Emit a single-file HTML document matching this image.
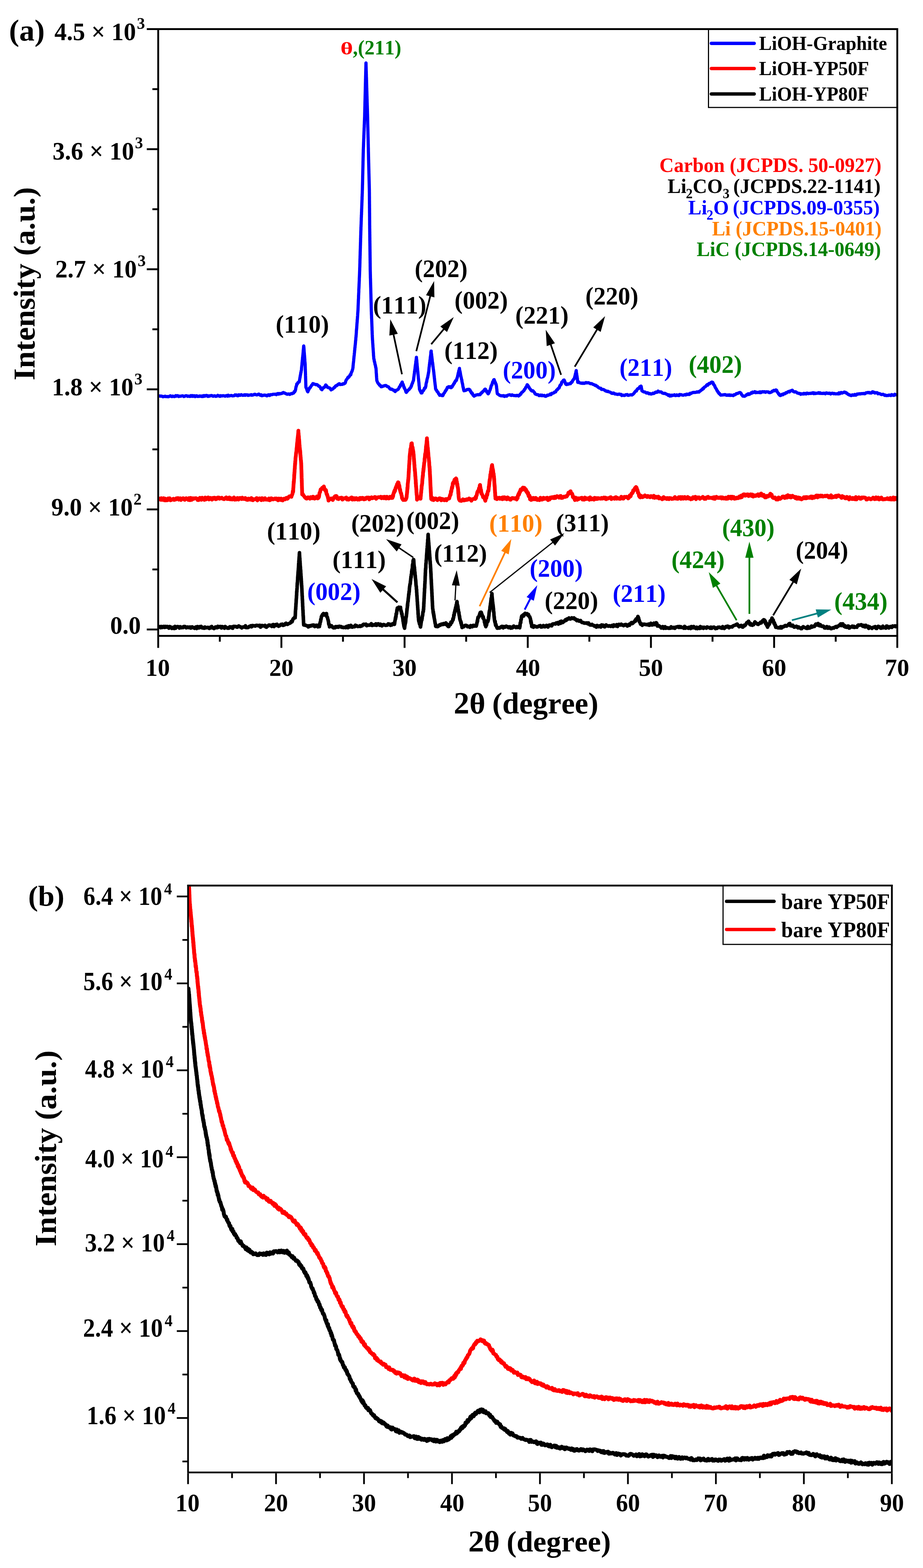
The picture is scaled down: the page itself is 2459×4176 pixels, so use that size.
<!DOCTYPE html>
<html><head><meta charset="utf-8"><title>XRD patterns</title><style>html,body{margin:0;padding:0;background:#fff;}svg{display:block;}</style></head><body>
<svg width="2459" height="4176" viewBox="0 0 2459 4176" font-family="'Liberation Serif', 'Times New Roman', serif" font-weight="bold" style="font-kerning:none">
<rect width="2459" height="4176" fill="#fff"/>
<defs><clipPath id="clipA"><rect x="424" y="80" width="1964" height="1611"/></clipPath><clipPath id="clipB"><rect x="503" y="2361" width="1871" height="1558"/></clipPath></defs>
<polyline points="424.0,1669.9 426.0,1668.9 428.0,1671.9 430.0,1668.4 432.0,1671.2 434.0,1670.2 436.0,1668.3 438.0,1671.0 440.0,1668.2 442.0,1670.6 444.0,1668.4 446.0,1668.5 448.0,1670.5 450.0,1673.0 452.0,1668.7 454.0,1669.3 456.0,1671.8 458.0,1673.7 460.0,1671.5 462.0,1670.4 464.0,1673.9 466.0,1668.3 468.0,1673.2 470.0,1669.7 472.0,1668.9 474.0,1668.7 476.0,1669.9 478.0,1672.9 480.0,1669.1 482.0,1671.5 484.0,1671.8 486.0,1670.2 488.0,1671.3 490.0,1668.4 492.0,1668.4 494.0,1669.2 496.0,1672.1 498.0,1670.6 500.0,1669.9 502.0,1671.5 504.0,1670.7 506.0,1669.8 508.0,1672.8 510.0,1672.2 512.0,1669.5 514.0,1671.4 516.0,1671.2 518.0,1673.3 520.0,1672.4 522.0,1669.7 524.0,1673.9 526.0,1668.7 528.0,1670.5 530.0,1672.5 532.0,1668.9 534.0,1670.9 536.0,1668.2 538.0,1672.0 540.0,1672.6 542.0,1671.4 544.0,1673.3 546.0,1669.9 548.0,1672.2 550.0,1671.6 552.0,1671.5 554.0,1670.7 556.0,1673.0 558.0,1673.7 560.0,1670.8 562.0,1672.0 564.0,1668.4 566.0,1672.2 568.0,1671.9 570.0,1674.0 572.0,1672.9 574.0,1669.7 576.0,1670.3 578.0,1672.0 580.0,1668.1 582.0,1670.8 584.0,1669.0 586.0,1668.7 588.0,1668.4 590.0,1672.6 592.0,1668.8 594.0,1669.5 596.0,1670.3 598.0,1673.2 600.0,1668.5 602.0,1670.6 604.0,1671.2 606.0,1673.1 608.0,1672.7 610.0,1672.9 612.0,1669.3 614.0,1670.0 616.0,1669.6 618.0,1672.7 620.0,1673.1 622.0,1668.2 624.0,1668.3 626.0,1668.6 628.0,1668.5 630.0,1670.0 632.0,1670.5 634.0,1668.5 636.0,1666.9 638.0,1669.3 640.0,1669.0 642.0,1670.1 644.0,1672.3 646.0,1670.7 648.0,1669.6 650.0,1670.1 652.0,1670.4 654.0,1666.6 656.0,1671.6 658.0,1670.8 660.0,1671.4 662.0,1670.8 664.0,1668.3 666.0,1668.3 668.0,1666.5 670.0,1669.6 672.0,1666.1 674.0,1666.1 676.0,1666.9 678.0,1666.5 680.0,1667.5 682.0,1665.7 684.0,1665.3 686.0,1666.2 688.0,1665.8 690.0,1667.3 692.0,1665.2 694.0,1670.3 696.0,1668.7 698.0,1665.8 700.0,1666.4 702.0,1666.9 704.0,1666.9 706.0,1665.4 708.0,1669.7 710.0,1670.5 712.0,1667.3 714.0,1667.3 716.0,1664.7 718.0,1664.7 720.0,1665.9 722.0,1665.3 724.0,1668.5 726.0,1664.3 728.0,1663.3 730.0,1668.7 732.0,1666.0 734.0,1663.6 736.0,1665.8 738.0,1662.5 740.0,1665.4 742.0,1667.9 744.0,1667.0 746.0,1665.9 748.0,1663.1 750.0,1663.5 752.0,1662.2 754.0,1665.6 756.0,1663.5 758.0,1664.3 760.0,1661.0 762.0,1659.7 764.0,1662.5 766.0,1662.9 768.0,1661.4 770.0,1660.5 772.0,1659.9 774.0,1658.8 776.0,1655.0 778.0,1656.1 779.2,1653.2 780.4,1649.3 781.6,1647.4 782.7,1647.0 783.9,1645.0 785.1,1645.7 786.3,1645.3 786.4,1640.3 786.6,1641.2 786.7,1639.5 786.8,1637.2 787.0,1631.7 787.1,1628.8 787.2,1626.8 787.4,1624.6 787.5,1622.6 787.6,1623.1 787.8,1622.8 787.9,1620.4 788.0,1616.2 788.2,1615.2 788.3,1614.1 788.4,1607.7 788.6,1609.2 788.7,1608.7 788.8,1605.9 789.0,1603.7 789.1,1600.0 789.2,1596.2 789.3,1597.8 789.5,1593.1 789.6,1593.8 789.7,1592.8 789.9,1587.4 790.0,1585.4 790.1,1586.6 790.3,1583.3 790.4,1577.9 790.5,1575.6 790.7,1573.8 790.8,1576.3 790.9,1573.7 791.1,1567.7 791.2,1569.7 791.3,1568.6 791.5,1564.7 791.6,1560.8 791.7,1560.0 791.9,1555.5 792.0,1552.8 792.2,1556.5 792.3,1552.6 792.4,1549.8 792.6,1550.3 792.7,1545.3 792.9,1545.9 793.0,1543.6 793.1,1537.9 793.3,1536.2 793.4,1534.4 793.6,1532.1 793.7,1532.2 793.9,1528.2 794.0,1527.1 794.1,1523.4 794.3,1526.1 794.4,1520.7 794.6,1519.4 794.7,1518.1 794.8,1518.0 795.0,1513.1 795.1,1514.1 795.3,1509.6 795.4,1507.8 795.5,1505.7 795.7,1500.7 795.8,1501.2 796.0,1497.7 796.1,1494.6 796.2,1497.3 796.4,1491.6 796.5,1491.4 796.7,1490.9 796.8,1487.9 797.0,1484.5 797.1,1483.6 797.2,1481.9 797.4,1481.2 797.5,1475.1 797.7,1475.9 797.8,1472.0 797.9,1474.2 798.1,1479.1 798.2,1479.6 798.3,1481.9 798.5,1485.1 798.6,1488.0 798.8,1487.2 798.9,1490.2 799.0,1491.6 799.2,1493.6 799.3,1496.7 799.4,1497.3 799.6,1499.8 799.7,1501.4 799.8,1506.2 800.0,1506.8 800.1,1509.8 800.3,1512.2 800.4,1510.1 800.5,1513.9 800.7,1518.3 800.8,1519.6 800.9,1517.4 801.1,1519.3 801.2,1523.3 801.3,1523.1 801.5,1526.1 801.6,1527.1 801.8,1532.6 801.9,1535.3 802.0,1538.0 802.2,1535.6 802.3,1540.9 802.4,1542.6 802.6,1541.5 802.7,1548.0 802.8,1550.5 803.0,1548.0 803.1,1554.4 803.3,1553.1 803.4,1555.6 803.5,1560.6 803.7,1561.7 803.8,1559.7 803.9,1563.3 804.0,1565.8 804.1,1566.8 804.2,1568.0 804.3,1570.7 804.4,1575.2 804.5,1573.0 804.6,1578.2 804.7,1579.5 804.8,1579.0 804.9,1582.9 805.0,1586.7 805.1,1588.0 805.3,1587.4 805.4,1594.9 805.5,1595.8 805.6,1598.9 805.7,1595.7 805.8,1598.7 805.9,1599.4 806.0,1605.8 806.1,1604.8 806.2,1606.0 806.3,1609.7 806.4,1614.7 806.5,1616.2 806.6,1614.8 806.7,1616.2 806.8,1622.8 806.9,1622.8 807.0,1625.6 807.1,1623.9 807.2,1625.7 807.3,1631.5 807.4,1632.0 807.5,1631.9 807.6,1639.1 807.7,1639.3 807.9,1642.3 808.0,1640.0 808.1,1646.7 808.2,1644.0 808.3,1650.8 808.4,1650.4 808.5,1651.7 808.6,1655.0 808.7,1659.3 808.8,1657.3 808.9,1658.5 809.0,1662.9 809.1,1663.2 809.2,1664.5 811.2,1665.0 813.2,1664.6 815.2,1665.7 817.3,1666.6 819.3,1666.8 821.3,1669.8 823.4,1666.8 825.5,1668.0 827.7,1666.0 829.8,1666.9 831.9,1664.8 834.0,1666.1 836.1,1664.6 838.3,1668.8 840.4,1667.6 842.5,1665.3 844.6,1666.9 846.8,1669.6 848.9,1664.5 851.0,1668.7 851.4,1664.4 851.9,1662.7 852.3,1662.8 852.8,1658.1 853.2,1656.8 853.6,1655.8 854.1,1655.6 854.5,1649.7 855.0,1650.6 855.4,1647.9 855.9,1645.4 856.3,1642.0 857.6,1640.2 859.0,1636.9 860.4,1635.8 861.7,1633.9 863.7,1637.9 865.8,1635.0 867.8,1634.5 869.8,1634.0 870.3,1640.6 870.9,1642.8 871.4,1643.6 872.0,1643.3 872.5,1645.1 873.0,1647.4 873.6,1650.4 874.1,1650.6 874.7,1654.4 875.2,1655.3 875.7,1661.5 876.3,1663.6 876.8,1663.0 877.4,1663.2 877.9,1669.6 879.7,1666.6 881.5,1667.7 883.3,1666.5 885.1,1669.7 886.9,1671.1 888.7,1672.2 890.7,1670.2 892.7,1671.9 894.7,1668.7 896.7,1670.1 898.7,1668.9 900.7,1670.6 902.7,1668.2 904.8,1667.9 906.8,1669.5 908.8,1668.9 910.8,1670.8 912.8,1670.3 914.8,1671.4 916.8,1670.7 918.8,1670.9 920.8,1671.7 922.8,1668.6 924.8,1668.0 926.8,1671.8 928.8,1666.6 930.8,1669.9 932.8,1669.2 934.8,1665.4 936.9,1670.0 938.9,1670.2 940.9,1668.4 942.9,1668.9 944.9,1669.2 946.9,1665.0 948.9,1667.1 950.9,1666.8 952.9,1668.6 954.9,1668.3 956.9,1668.2 958.9,1666.6 960.9,1668.3 962.9,1666.8 964.9,1666.7 966.9,1663.8 969.0,1662.4 971.0,1662.8 973.0,1664.0 975.0,1662.3 977.0,1666.5 979.0,1664.7 981.0,1664.9 983.0,1664.8 985.0,1665.1 987.1,1663.9 989.1,1661.0 991.2,1665.8 993.2,1665.5 995.3,1664.0 997.3,1664.2 999.3,1665.0 1001.4,1661.4 1003.4,1665.4 1005.5,1662.5 1007.5,1661.4 1009.6,1662.6 1011.6,1665.4 1013.6,1662.2 1015.7,1665.4 1017.7,1666.9 1019.8,1664.0 1021.8,1663.3 1023.8,1663.9 1025.9,1665.1 1027.9,1665.6 1030.0,1664.7 1032.0,1664.9 1034.1,1661.5 1036.1,1661.9 1038.1,1662.5 1040.2,1665.5 1042.2,1662.8 1044.3,1664.4 1046.3,1661.1 1048.4,1661.4 1050.4,1662.6 1050.8,1663.0 1051.2,1661.1 1051.6,1658.9 1051.9,1654.6 1052.3,1653.9 1052.7,1651.5 1053.1,1649.5 1053.5,1645.3 1053.9,1647.9 1054.3,1641.7 1054.6,1644.3 1055.0,1642.0 1055.4,1634.5 1055.8,1635.1 1056.2,1635.2 1056.6,1634.0 1057.0,1628.9 1057.3,1625.8 1057.7,1623.4 1058.1,1625.7 1058.5,1619.3 1060.5,1620.6 1062.5,1617.1 1064.6,1618.5 1066.6,1620.2 1067.0,1617.4 1067.5,1623.6 1067.9,1623.8 1068.4,1628.2 1068.8,1629.2 1069.3,1628.4 1069.8,1634.5 1070.2,1634.2 1070.7,1633.5 1071.1,1635.4 1071.5,1640.5 1072.0,1642.3 1072.4,1643.4 1072.7,1644.4 1073.1,1647.6 1073.4,1649.4 1073.8,1654.5 1074.2,1651.5 1074.5,1657.9 1074.9,1660.4 1075.2,1658.1 1075.6,1664.9 1076.0,1665.6 1076.3,1668.7 1076.7,1667.0 1077.0,1669.5 1077.4,1671.6 1077.8,1673.2 1078.3,1668.8 1078.7,1665.4 1079.1,1663.8 1079.6,1660.9 1080.0,1657.6 1080.2,1655.9 1080.5,1658.3 1080.7,1653.0 1080.9,1654.9 1081.2,1648.8 1081.4,1646.9 1081.6,1646.4 1081.9,1642.5 1082.1,1641.6 1082.3,1643.1 1082.6,1640.7 1082.8,1638.3 1083.1,1635.2 1083.3,1634.9 1083.5,1633.1 1083.8,1628.7 1084.0,1627.8 1084.2,1621.8 1084.5,1623.9 1084.7,1620.2 1084.9,1620.0 1085.2,1617.4 1085.4,1613.2 1085.6,1609.8 1085.9,1613.1 1086.1,1606.3 1086.3,1606.4 1086.6,1603.6 1086.8,1601.3 1087.0,1602.0 1087.3,1601.4 1087.5,1595.1 1087.7,1595.5 1088.0,1591.4 1088.2,1590.9 1088.5,1588.0 1088.7,1584.6 1088.9,1582.6 1089.2,1580.9 1089.4,1583.1 1089.6,1578.6 1089.9,1575.0 1090.1,1577.1 1090.3,1575.7 1090.6,1570.4 1090.8,1566.5 1091.1,1564.8 1091.3,1562.2 1091.6,1561.7 1091.9,1558.2 1092.1,1557.0 1092.4,1555.1 1092.7,1555.0 1093.0,1554.9 1093.2,1552.0 1093.5,1548.0 1093.8,1546.0 1094.0,1544.6 1094.3,1541.7 1094.6,1539.5 1094.8,1535.8 1095.1,1535.1 1095.4,1537.2 1095.7,1530.1 1095.9,1530.4 1096.2,1529.1 1096.5,1528.5 1096.7,1522.6 1097.0,1520.9 1097.3,1518.8 1097.5,1517.7 1097.8,1515.9 1098.1,1517.0 1098.4,1514.3 1098.6,1512.4 1098.9,1505.3 1099.2,1503.4 1099.4,1505.4 1099.7,1504.5 1100.0,1499.9 1100.2,1498.6 1100.5,1493.1 1100.8,1493.4 1101.1,1494.6 1101.3,1492.0 1101.6,1490.1 1101.8,1492.9 1102.0,1490.5 1102.2,1491.7 1102.4,1494.0 1102.6,1498.2 1102.8,1501.2 1103.0,1504.8 1103.2,1505.5 1103.4,1507.0 1103.6,1509.8 1103.8,1509.9 1104.0,1512.5 1104.2,1511.5 1104.4,1517.9 1104.6,1516.7 1104.8,1522.8 1105.0,1523.2 1105.2,1523.1 1105.4,1524.1 1105.6,1526.9 1105.8,1531.2 1106.0,1533.6 1106.2,1532.1 1106.4,1533.8 1106.6,1538.6 1106.8,1541.0 1107.0,1541.8 1107.2,1542.8 1107.4,1547.1 1107.6,1545.6 1107.8,1549.4 1108.0,1552.3 1108.2,1557.3 1108.4,1557.5 1108.6,1560.9 1108.8,1560.5 1109.0,1561.1 1109.2,1563.1 1109.4,1569.4 1109.6,1569.9 1109.7,1569.6 1109.9,1569.9 1110.0,1574.7 1110.1,1577.8 1110.3,1578.3 1110.4,1579.4 1110.5,1583.8 1110.7,1587.4 1110.8,1585.2 1110.9,1586.1 1111.1,1589.9 1111.2,1592.5 1111.4,1596.1 1111.5,1595.2 1111.6,1600.8 1111.8,1602.5 1111.9,1603.1 1112.0,1603.3 1112.2,1609.9 1112.3,1608.0 1112.4,1613.0 1112.6,1611.5 1112.7,1613.5 1112.8,1618.7 1113.0,1618.0 1113.1,1623.9 1113.2,1623.2 1113.4,1623.4 1113.5,1625.6 1113.7,1628.8 1113.8,1632.3 1113.9,1636.0 1114.1,1633.2 1114.2,1636.7 1114.3,1637.7 1114.5,1644.3 1114.6,1641.3 1114.7,1642.8 1114.9,1644.8 1115.0,1648.9 1115.6,1654.0 1116.2,1656.0 1116.8,1657.2 1117.4,1660.9 1118.0,1662.6 1118.6,1661.1 1119.2,1662.3 1119.8,1668.9 1120.4,1669.9 1120.8,1663.6 1121.1,1665.4 1121.5,1661.7 1121.8,1659.7 1122.2,1657.4 1122.5,1654.5 1122.9,1651.5 1123.2,1651.1 1123.6,1649.6 1123.9,1651.2 1124.3,1644.2 1124.6,1647.3 1125.0,1640.8 1125.3,1639.7 1125.7,1640.5 1126.0,1638.5 1126.4,1634.1 1126.7,1629.9 1127.1,1630.4 1127.4,1627.8 1127.8,1629.1 1128.1,1622.7 1128.5,1621.8 1128.6,1622.9 1128.7,1615.7 1128.8,1616.0 1128.9,1616.3 1129.0,1614.0 1129.1,1607.6 1129.2,1605.6 1129.3,1603.7 1129.4,1606.8 1129.5,1600.8 1129.6,1601.7 1129.7,1600.6 1129.8,1595.2 1129.9,1592.8 1130.0,1594.8 1130.1,1590.8 1130.2,1586.6 1130.3,1587.3 1130.4,1582.9 1130.5,1580.6 1130.6,1576.9 1130.7,1579.4 1130.8,1578.3 1130.9,1574.6 1131.0,1574.4 1131.1,1566.9 1131.3,1566.1 1131.4,1565.5 1131.5,1566.4 1131.6,1564.3 1131.7,1558.9 1131.8,1556.0 1131.9,1555.1 1132.0,1553.4 1132.1,1554.0 1132.2,1547.5 1132.3,1549.2 1132.4,1546.7 1132.5,1545.2 1132.6,1542.9 1132.7,1539.9 1132.8,1536.1 1132.9,1534.1 1133.0,1532.3 1133.1,1532.8 1133.2,1526.5 1133.3,1525.2 1133.4,1526.5 1133.5,1521.4 1133.6,1518.3 1133.7,1516.1 1133.8,1517.1 1133.9,1513.8 1134.1,1515.7 1134.2,1513.0 1134.4,1511.6 1134.5,1505.3 1134.7,1502.2 1134.8,1500.2 1135.0,1500.6 1135.1,1499.8 1135.3,1496.2 1135.4,1492.9 1135.6,1492.0 1135.7,1491.2 1135.9,1489.5 1136.0,1487.9 1136.2,1486.4 1136.3,1483.3 1136.5,1478.0 1136.6,1480.3 1136.8,1475.0 1136.9,1474.6 1137.1,1471.4 1137.2,1471.6 1137.4,1466.3 1137.6,1464.6 1137.7,1462.5 1137.9,1460.0 1138.0,1462.3 1138.2,1458.4 1138.3,1454.9 1138.5,1453.3 1138.6,1454.8 1138.8,1449.9 1138.9,1446.2 1139.1,1447.6 1139.2,1444.7 1139.4,1444.7 1139.5,1437.3 1139.7,1437.5 1139.8,1437.6 1140.0,1435.7 1140.1,1434.1 1140.3,1426.8 1140.4,1426.3 1140.6,1423.2 1140.8,1425.7 1140.9,1432.4 1141.1,1432.1 1141.2,1436.2 1141.4,1434.9 1141.5,1439.9 1141.7,1439.4 1141.8,1440.3 1142.0,1445.4 1142.1,1448.5 1142.3,1445.5 1142.5,1450.4 1142.6,1452.6 1142.8,1452.2 1142.9,1455.2 1143.1,1455.8 1143.2,1458.2 1143.4,1460.6 1143.5,1464.7 1143.7,1467.0 1143.8,1466.3 1144.0,1467.2 1144.2,1471.1 1144.3,1475.3 1144.5,1474.3 1144.6,1477.1 1144.8,1478.5 1144.9,1484.1 1145.1,1484.6 1145.2,1483.8 1145.4,1486.0 1145.5,1489.8 1145.7,1492.8 1145.9,1495.3 1146.0,1494.1 1146.2,1496.5 1146.3,1501.8 1146.5,1502.1 1146.6,1503.4 1146.8,1505.5 1146.9,1511.4 1147.1,1509.6 1147.2,1513.2 1147.4,1513.9 1147.5,1516.3 1147.6,1521.1 1147.7,1523.9 1147.8,1522.1 1147.9,1523.2 1148.0,1528.4 1148.1,1527.3 1148.2,1528.1 1148.3,1535.5 1148.4,1534.7 1148.5,1539.1 1148.6,1538.6 1148.7,1543.5 1148.8,1543.0 1148.9,1543.3 1149.0,1544.4 1149.1,1549.7 1149.2,1552.3 1149.3,1555.9 1149.4,1553.0 1149.5,1558.2 1149.6,1558.8 1149.7,1561.6 1149.8,1561.5 1149.9,1564.3 1150.0,1567.8 1150.2,1572.3 1150.3,1569.4 1150.4,1573.7 1150.5,1577.6 1150.6,1580.7 1150.7,1578.1 1150.8,1579.7 1150.9,1586.6 1151.0,1588.8 1151.1,1587.9 1151.2,1587.4 1151.3,1594.6 1151.4,1593.5 1151.5,1598.6 1151.6,1598.9 1151.7,1602.2 1151.8,1600.2 1151.9,1606.0 1152.0,1604.7 1152.1,1607.8 1152.2,1612.5 1152.3,1614.4 1152.4,1612.6 1152.5,1614.8 1152.6,1617.9 1152.7,1620.7 1152.8,1621.9 1153.2,1622.3 1153.5,1625.1 1153.9,1629.9 1154.2,1632.9 1154.6,1629.8 1154.9,1634.9 1155.3,1638.1 1155.6,1635.8 1156.0,1642.6 1156.3,1640.2 1156.7,1645.1 1157.0,1646.8 1157.4,1649.2 1157.7,1649.3 1158.1,1652.0 1158.4,1655.0 1158.8,1656.0 1159.1,1659.4 1159.5,1660.1 1159.8,1662.1 1160.2,1661.6 1160.5,1667.1 1160.9,1668.3 1163.0,1666.3 1165.0,1669.0 1167.1,1668.5 1169.2,1666.1 1171.2,1663.9 1173.3,1665.1 1175.4,1662.4 1177.5,1662.0 1179.5,1663.3 1181.6,1660.8 1183.7,1662.4 1185.7,1662.3 1187.8,1658.9 1189.4,1663.9 1191.0,1661.9 1192.7,1667.1 1194.3,1668.7 1195.9,1668.5 1197.0,1663.8 1198.1,1664.6 1199.1,1662.0 1200.2,1663.5 1201.3,1656.8 1202.4,1659.2 1203.5,1658.1 1204.5,1654.7 1205.6,1653.3 1206.7,1647.7 1207.2,1650.4 1207.6,1645.5 1208.1,1646.3 1208.6,1644.1 1209.0,1637.6 1209.5,1639.4 1210.0,1638.2 1210.5,1631.1 1210.9,1630.8 1211.4,1631.3 1211.9,1625.7 1212.3,1628.1 1212.8,1622.4 1213.3,1623.7 1213.7,1617.7 1214.2,1617.9 1214.7,1618.4 1215.2,1612.1 1215.6,1610.5 1216.1,1610.0 1216.6,1606.9 1217.0,1603.2 1217.5,1602.1 1217.8,1603.9 1218.2,1610.6 1218.5,1611.0 1218.9,1614.3 1219.2,1611.9 1219.6,1617.6 1219.9,1615.5 1220.3,1620.0 1220.6,1622.6 1221.0,1622.9 1221.3,1628.0 1221.7,1628.1 1222.0,1630.2 1222.4,1634.0 1222.7,1631.3 1223.1,1638.6 1223.4,1638.4 1223.8,1639.0 1224.1,1643.4 1224.5,1642.2 1224.8,1648.5 1225.2,1648.0 1225.5,1648.7 1226.1,1653.2 1226.7,1653.4 1227.3,1653.9 1227.9,1659.4 1228.6,1657.3 1229.2,1664.0 1229.8,1662.7 1230.4,1667.1 1231.0,1671.3 1233.1,1668.9 1235.2,1669.4 1237.3,1667.3 1239.4,1665.4 1241.5,1665.6 1243.6,1666.3 1245.7,1669.1 1247.8,1668.0 1249.8,1668.5 1251.9,1670.8 1254.0,1666.2 1256.1,1666.8 1258.2,1669.3 1260.3,1665.5 1262.4,1665.4 1264.5,1667.5 1266.6,1666.0 1268.7,1667.5 1269.1,1664.7 1269.6,1664.8 1270.0,1662.8 1270.5,1658.5 1270.9,1659.0 1271.3,1656.0 1271.8,1652.0 1272.2,1654.8 1272.7,1648.6 1273.1,1646.0 1273.6,1643.6 1274.0,1644.8 1275.1,1644.2 1276.2,1641.7 1277.3,1637.4 1278.3,1634.6 1279.4,1631.1 1280.5,1632.9 1281.6,1630.4 1282.3,1631.1 1283.1,1634.8 1283.8,1635.5 1284.5,1640.4 1285.2,1641.2 1286.0,1640.2 1286.7,1646.1 1287.4,1642.9 1288.2,1647.7 1288.9,1648.9 1289.5,1650.0 1290.1,1651.1 1290.7,1657.5 1291.3,1655.0 1291.9,1660.3 1292.5,1664.7 1293.1,1662.1 1293.7,1664.5 1294.3,1669.0 1295.0,1666.6 1295.6,1665.5 1296.3,1664.6 1297.0,1658.9 1297.7,1657.8 1298.3,1655.9 1299.0,1652.5 1299.7,1655.6 1300.3,1653.1 1301.0,1650.8 1301.3,1644.6 1301.6,1647.6 1301.8,1645.0 1302.1,1641.4 1302.4,1641.0 1302.7,1637.3 1303.0,1634.0 1303.2,1631.2 1303.5,1630.0 1303.8,1626.9 1304.1,1626.7 1304.4,1627.2 1304.6,1624.9 1304.9,1623.8 1305.2,1621.0 1305.5,1616.3 1305.8,1616.1 1306.0,1613.4 1306.3,1613.5 1306.6,1609.9 1306.9,1606.4 1307.1,1606.7 1307.4,1606.6 1307.7,1600.2 1308.0,1602.1 1308.3,1595.0 1308.5,1594.5 1308.8,1592.3 1309.1,1593.4 1309.4,1592.6 1309.7,1589.4 1309.9,1584.9 1310.2,1586.3 1310.5,1581.0 1310.7,1582.5 1310.9,1588.5 1311.1,1588.9 1311.3,1591.3 1311.5,1593.2 1311.7,1597.1 1311.9,1596.1 1312.1,1600.4 1312.3,1601.6 1312.5,1604.6 1312.7,1604.1 1312.9,1607.9 1313.1,1609.0 1313.3,1609.5 1313.5,1611.0 1313.7,1615.5 1314.0,1614.2 1314.2,1621.3 1314.4,1618.7 1314.6,1620.1 1314.8,1622.6 1315.0,1629.6 1315.2,1628.1 1315.4,1628.9 1315.6,1630.3 1315.8,1632.4 1316.0,1638.4 1316.2,1640.1 1316.4,1642.5 1316.6,1644.8 1316.8,1642.8 1317.0,1648.0 1317.2,1648.7 1317.7,1653.4 1318.2,1655.3 1318.7,1657.7 1319.2,1654.7 1319.7,1661.5 1320.1,1663.7 1320.6,1665.8 1321.1,1662.8 1321.6,1665.3 1322.1,1666.7 1322.6,1668.2 1324.6,1673.0 1326.6,1672.8 1328.6,1671.7 1330.6,1672.8 1332.6,1671.6 1334.6,1669.5 1336.6,1668.3 1338.6,1668.3 1340.6,1672.2 1342.6,1668.8 1344.6,1669.5 1346.6,1670.1 1348.6,1667.6 1350.6,1669.0 1352.6,1669.1 1354.6,1671.7 1356.6,1669.6 1358.6,1669.2 1360.6,1673.0 1362.6,1670.2 1364.6,1672.3 1366.6,1670.9 1368.6,1667.3 1370.6,1669.5 1372.6,1669.7 1374.6,1671.6 1376.6,1669.0 1378.6,1671.1 1380.6,1670.1 1382.6,1668.1 1384.6,1672.0 1385.0,1665.3 1385.4,1667.7 1385.8,1661.8 1386.1,1658.7 1386.5,1657.9 1386.9,1659.2 1387.3,1658.5 1387.7,1650.7 1388.1,1651.6 1388.5,1649.5 1388.8,1649.3 1389.2,1643.6 1389.6,1643.5 1390.0,1640.6 1391.8,1642.2 1393.6,1637.6 1395.4,1640.4 1397.2,1635.2 1399.0,1633.5 1400.8,1635.2 1402.6,1635.2 1404.4,1634.2 1406.2,1638.6 1407.9,1636.5 1409.7,1642.0 1411.5,1642.7 1411.9,1645.3 1412.3,1646.4 1412.8,1646.8 1413.2,1649.2 1413.6,1651.2 1414.0,1656.3 1414.5,1653.5 1414.9,1660.4 1415.3,1657.3 1415.7,1660.4 1416.2,1662.8 1416.6,1668.7 1417.0,1668.4 1419.0,1667.6 1421.1,1670.6 1423.1,1666.7 1425.2,1668.0 1427.2,1668.4 1429.3,1669.7 1431.3,1669.7 1433.4,1669.0 1435.4,1667.2 1437.5,1667.0 1439.5,1666.0 1441.6,1670.1 1443.6,1668.9 1445.7,1669.4 1447.7,1665.9 1449.8,1667.5 1451.8,1669.5 1453.9,1668.3 1455.9,1665.5 1458.0,1667.5 1460.0,1670.0 1462.0,1665.5 1464.0,1664.7 1465.9,1664.7 1467.9,1666.5 1469.9,1666.8 1471.9,1662.1 1473.9,1661.5 1475.8,1661.4 1477.8,1661.3 1479.8,1661.9 1481.8,1659.1 1483.8,1659.5 1485.8,1658.1 1487.7,1662.2 1489.7,1660.2 1491.7,1655.8 1493.6,1660.2 1495.4,1654.3 1497.3,1655.3 1499.1,1658.1 1501.0,1656.2 1502.9,1655.1 1504.7,1652.6 1506.6,1650.4 1508.4,1652.3 1510.3,1648.4 1512.1,1648.2 1514.0,1648.6 1515.9,1645.7 1517.7,1647.1 1519.6,1648.7 1521.4,1647.4 1523.3,1645.5 1525.3,1647.0 1527.2,1646.7 1529.2,1645.5 1531.1,1649.0 1533.1,1648.6 1535.0,1651.3 1537.0,1653.1 1538.9,1650.9 1540.9,1652.5 1542.8,1654.3 1544.8,1653.1 1546.7,1652.6 1548.7,1656.3 1550.6,1657.9 1552.5,1657.9 1554.4,1658.1 1556.3,1659.7 1558.2,1659.3 1560.1,1659.7 1562.0,1659.2 1563.9,1659.0 1565.8,1661.5 1567.7,1658.9 1569.6,1661.5 1571.5,1664.3 1573.4,1664.5 1575.3,1664.7 1577.2,1663.0 1579.1,1664.7 1581.0,1665.5 1582.9,1667.2 1584.8,1666.5 1586.7,1668.8 1588.7,1670.2 1590.7,1665.7 1592.7,1668.4 1594.8,1669.1 1596.8,1666.7 1598.8,1667.2 1600.8,1670.0 1602.8,1664.3 1604.8,1667.3 1606.9,1664.9 1608.9,1668.6 1610.9,1669.5 1612.9,1666.9 1614.9,1664.3 1616.9,1667.1 1619.0,1666.8 1621.0,1667.8 1623.0,1666.5 1625.0,1667.2 1627.0,1668.2 1629.0,1666.3 1631.1,1665.6 1633.1,1668.7 1635.1,1664.2 1637.1,1667.0 1639.1,1665.2 1641.1,1667.3 1643.1,1663.4 1645.2,1668.5 1647.2,1664.7 1649.2,1662.8 1651.2,1664.0 1653.2,1664.7 1655.2,1662.3 1657.3,1664.7 1659.3,1664.6 1661.3,1666.2 1663.3,1664.0 1665.3,1663.5 1667.3,1663.1 1669.4,1666.2 1671.4,1667.3 1673.4,1664.7 1675.4,1662.8 1677.2,1665.3 1678.9,1661.7 1680.7,1659.6 1682.4,1658.1 1684.2,1660.9 1685.9,1660.0 1687.7,1657.9 1689.4,1655.9 1691.2,1655.4 1692.4,1651.5 1693.5,1654.1 1694.7,1648.5 1695.9,1648.4 1697.1,1647.6 1698.2,1645.8 1699.4,1641.8 1700.1,1642.8 1700.8,1646.4 1701.5,1645.9 1702.2,1652.2 1702.9,1651.4 1703.5,1656.4 1704.2,1654.9 1704.9,1657.6 1705.6,1658.9 1706.3,1662.0 1707.0,1662.6 1709.1,1661.4 1711.1,1665.5 1713.2,1662.7 1715.2,1662.3 1717.3,1662.5 1719.4,1663.4 1721.4,1663.0 1723.5,1664.0 1725.5,1664.0 1727.6,1662.1 1729.7,1665.3 1731.7,1664.7 1733.8,1659.8 1735.8,1664.2 1737.9,1664.5 1740.0,1663.6 1742.0,1659.6 1744.1,1663.6 1746.1,1662.3 1748.2,1658.4 1749.8,1660.0 1751.4,1667.2 1753.0,1667.0 1754.5,1666.2 1756.1,1666.9 1757.7,1668.8 1759.7,1669.3 1761.7,1672.6 1763.7,1670.0 1765.7,1668.8 1767.7,1673.4 1769.7,1672.7 1771.7,1669.0 1773.7,1673.3 1775.7,1671.6 1777.7,1672.7 1779.7,1672.0 1781.8,1673.4 1783.8,1672.7 1785.8,1673.1 1787.8,1669.2 1789.8,1672.2 1791.8,1671.2 1793.8,1672.5 1795.8,1670.7 1797.8,1673.4 1799.8,1671.4 1801.8,1669.7 1803.8,1669.5 1805.8,1668.9 1807.8,1671.1 1809.8,1668.5 1811.8,1670.9 1813.8,1669.0 1815.8,1671.1 1817.8,1671.1 1819.8,1671.4 1821.8,1673.3 1823.8,1668.2 1825.8,1673.2 1827.8,1671.0 1829.9,1671.6 1831.9,1672.2 1833.9,1673.3 1835.9,1670.5 1837.9,1670.8 1839.9,1674.0 1841.9,1668.7 1843.9,1672.1 1845.9,1672.1 1847.9,1668.5 1849.9,1671.9 1851.9,1672.4 1853.9,1673.9 1855.9,1670.3 1857.9,1674.2 1859.9,1671.4 1861.9,1671.2 1863.9,1673.7 1865.9,1668.6 1867.9,1672.7 1869.9,1672.1 1871.9,1670.4 1873.9,1673.6 1875.9,1670.6 1878.0,1671.3 1880.0,1671.6 1882.0,1673.0 1884.0,1669.7 1886.0,1671.1 1888.0,1671.0 1890.0,1671.8 1892.0,1673.4 1894.0,1670.2 1896.0,1673.4 1898.0,1670.9 1900.0,1671.5 1902.1,1670.1 1904.2,1671.5 1906.3,1674.3 1908.4,1672.4 1910.5,1673.3 1912.6,1670.5 1914.7,1670.4 1916.8,1670.3 1919.0,1672.0 1921.1,1672.3 1923.2,1673.2 1925.3,1668.7 1927.4,1672.8 1929.5,1673.8 1931.6,1671.8 1933.7,1668.8 1935.8,1669.8 1937.9,1667.5 1940.0,1668.1 1942.1,1672.0 1944.2,1669.6 1946.3,1669.4 1948.4,1669.6 1950.5,1669.9 1952.5,1667.2 1954.4,1666.4 1956.4,1665.6 1958.4,1665.2 1960.3,1663.7 1962.3,1663.4 1964.0,1661.9 1965.7,1666.0 1967.4,1666.1 1969.1,1669.2 1970.8,1666.6 1972.8,1666.8 1974.8,1665.6 1976.9,1669.7 1978.9,1670.2 1980.9,1668.3 1982.6,1665.1 1984.2,1666.4 1985.9,1664.7 1987.6,1661.9 1989.3,1658.6 1991.0,1657.4 1992.6,1656.6 1994.3,1654.5 1995.4,1656.9 1996.5,1659.8 1997.7,1663.3 1998.8,1659.7 1999.9,1664.4 2001.0,1662.9 2002.7,1662.3 2004.4,1665.3 2006.1,1662.8 2007.8,1663.7 2009.5,1659.8 2011.2,1656.1 2013.5,1658.6 2015.7,1660.1 2018.0,1662.4 2020.2,1663.0 2022.5,1660.2 2024.7,1660.1 2026.4,1657.0 2028.1,1659.1 2029.8,1655.3 2031.4,1653.7 2033.1,1651.7 2034.8,1650.4 2036.5,1653.3 2037.4,1651.8 2038.4,1658.7 2039.3,1655.3 2040.2,1661.9 2041.2,1659.3 2042.1,1660.5 2043.0,1666.6 2044.0,1665.6 2044.9,1670.4 2045.9,1665.3 2046.9,1662.7 2047.8,1665.3 2048.8,1663.1 2049.8,1662.2 2050.8,1659.6 2051.8,1654.0 2052.8,1655.4 2053.8,1654.1 2054.7,1650.8 2055.7,1651.9 2056.7,1646.0 2057.6,1652.2 2058.5,1652.6 2059.4,1650.3 2060.3,1652.2 2061.2,1658.0 2062.1,1660.9 2063.1,1658.4 2064.0,1661.7 2064.9,1666.1 2065.8,1664.6 2066.7,1670.7 2067.6,1670.4 2068.5,1669.8 2070.8,1671.3 2073.0,1672.3 2075.2,1671.2 2077.5,1672.4 2079.8,1668.9 2082.0,1672.6 2084.0,1669.1 2086.0,1670.0 2088.1,1669.0 2090.1,1666.9 2092.1,1665.9 2094.1,1667.4 2096.1,1667.5 2098.2,1665.7 2100.2,1663.6 2102.2,1661.1 2104.1,1660.4 2106.0,1666.6 2107.9,1665.7 2109.9,1667.2 2111.8,1664.9 2113.7,1667.3 2115.6,1670.3 2117.6,1669.9 2119.6,1669.0 2121.7,1667.8 2123.7,1669.0 2125.7,1672.2 2127.7,1669.7 2129.7,1672.0 2131.8,1672.0 2133.8,1674.3 2135.8,1674.2 2137.8,1670.9 2139.9,1669.1 2141.9,1670.5 2143.9,1671.3 2145.9,1672.1 2148.0,1673.3 2150.0,1673.6 2152.0,1668.4 2154.1,1673.0 2156.1,1672.7 2158.1,1672.3 2160.0,1669.8 2162.0,1667.3 2163.9,1670.1 2165.9,1669.1 2167.8,1667.7 2169.8,1668.3 2171.8,1664.2 2173.7,1661.9 2175.7,1664.0 2177.6,1664.8 2179.6,1660.5 2181.5,1664.7 2183.4,1666.8 2185.2,1663.5 2187.1,1666.7 2189.0,1668.1 2190.9,1667.8 2192.7,1667.2 2194.6,1668.4 2196.5,1672.3 2198.6,1672.7 2200.7,1670.8 2202.7,1668.7 2204.8,1673.1 2206.9,1673.0 2209.0,1669.9 2211.0,1672.1 2213.1,1674.2 2215.2,1674.2 2217.3,1672.2 2219.3,1672.0 2221.4,1672.8 2223.5,1670.5 2225.3,1669.6 2227.2,1668.6 2229.0,1670.9 2230.8,1667.9 2232.7,1668.2 2234.5,1666.3 2236.4,1666.1 2238.2,1662.9 2240.0,1661.4 2241.9,1666.2 2243.7,1661.5 2245.4,1661.4 2247.1,1665.9 2248.8,1668.3 2250.4,1665.9 2252.1,1670.0 2253.8,1669.9 2255.9,1670.7 2258.0,1667.5 2260.1,1667.3 2262.2,1672.8 2264.3,1671.9 2266.4,1669.4 2268.5,1669.6 2270.6,1667.6 2272.6,1670.5 2274.7,1668.1 2276.7,1671.0 2278.7,1669.7 2280.7,1669.8 2282.8,1670.5 2284.8,1666.0 2286.8,1664.5 2288.8,1665.2 2290.9,1664.9 2292.9,1664.1 2294.9,1663.7 2296.9,1666.5 2299.0,1668.1 2301.0,1665.4 2302.9,1669.1 2304.8,1669.6 2306.7,1665.3 2308.7,1669.2 2310.6,1668.7 2312.5,1667.8 2314.4,1673.6 2316.5,1669.3 2318.7,1671.2 2320.8,1671.6 2323.0,1673.5 2325.1,1671.8 2327.3,1670.2 2329.4,1670.5 2331.6,1668.8 2333.7,1673.6 2335.9,1673.8 2338.0,1669.1 2340.0,1668.0 2342.0,1669.2 2344.0,1669.7 2346.0,1672.9 2348.0,1672.9 2350.0,1672.4 2352.0,1667.6 2354.0,1671.9 2356.0,1671.4 2358.0,1671.0 2360.0,1672.9 2362.0,1667.3 2364.0,1667.7 2366.0,1671.3 2368.0,1672.4 2370.0,1670.7 2372.0,1668.4 2374.0,1670.1 2376.0,1671.0 2378.0,1667.0 2380.0,1668.2 2382.0,1667.8 2384.0,1666.9 2386.0,1669.0 2388.0,1667.0" fill="none" stroke="#000" stroke-width="9.5" stroke-linejoin="round" stroke-linecap="round" clip-path="url(#clipA)"/>
<polyline points="424.0,1328.3 426.0,1327.6 428.0,1331.1 430.0,1326.7 432.0,1331.3 434.0,1327.9 436.0,1326.8 438.0,1332.6 440.0,1327.9 442.0,1332.6 444.0,1332.2 446.0,1332.3 448.0,1327.3 450.0,1329.3 452.0,1327.0 454.0,1332.4 456.0,1331.8 458.0,1330.4 460.0,1329.2 462.0,1328.4 464.0,1331.6 466.0,1329.3 468.0,1330.3 470.0,1327.0 472.0,1327.5 474.0,1326.4 476.0,1330.7 478.0,1329.6 480.0,1326.9 482.0,1331.7 484.0,1327.7 486.0,1328.6 488.0,1326.9 490.0,1327.6 492.0,1331.3 494.0,1328.0 496.0,1326.9 498.0,1329.0 500.0,1327.8 502.0,1331.6 504.0,1326.4 506.1,1332.1 508.1,1325.9 510.1,1331.4 512.1,1329.9 514.1,1326.9 516.2,1328.6 518.2,1327.3 520.2,1327.1 522.2,1326.7 524.2,1327.7 526.3,1331.8 528.3,1331.8 530.3,1331.3 532.3,1325.8 534.3,1327.1 536.4,1331.0 538.4,1325.5 540.4,1329.8 542.4,1327.0 544.4,1331.4 546.5,1325.1 548.5,1330.2 550.5,1327.1 552.5,1325.8 554.6,1324.8 556.6,1330.3 558.6,1328.2 560.6,1325.9 562.6,1327.6 564.7,1330.7 566.7,1326.1 568.7,1328.4 570.7,1325.5 572.7,1325.7 574.8,1329.6 576.8,1329.2 578.8,1325.7 580.8,1324.9 582.8,1324.9 584.9,1328.3 586.9,1327.6 588.9,1326.1 590.9,1325.6 592.9,1328.2 595.0,1328.8 597.0,1329.5 599.0,1327.9 601.0,1325.5 603.0,1324.6 605.1,1329.1 607.1,1327.0 609.1,1329.1 611.1,1324.8 613.1,1329.8 615.2,1326.7 617.2,1330.1 619.2,1330.3 621.2,1327.9 623.2,1324.8 625.3,1330.8 627.3,1328.0 629.3,1330.6 631.3,1326.7 633.3,1326.2 635.4,1330.5 637.4,1327.5 639.4,1326.2 641.4,1327.6 643.4,1329.2 645.5,1325.3 647.5,1328.8 649.5,1328.3 651.5,1328.9 653.5,1326.3 655.6,1330.3 657.6,1331.0 659.6,1331.4 661.6,1327.8 663.6,1330.5 665.7,1328.3 667.7,1330.8 669.7,1326.3 671.7,1331.7 673.7,1332.3 675.8,1329.3 677.8,1329.5 679.8,1329.7 681.8,1329.8 683.8,1326.4 685.9,1332.7 687.9,1327.9 689.9,1327.6 691.9,1327.2 693.9,1328.2 696.0,1332.0 698.0,1326.8 700.0,1327.3 702.0,1331.3 704.1,1328.0 706.1,1326.8 708.2,1330.7 710.2,1330.5 712.2,1330.2 714.3,1331.3 716.3,1327.4 718.3,1332.4 720.4,1331.4 722.4,1327.0 724.5,1327.5 726.5,1330.0 728.5,1330.0 730.6,1328.5 732.6,1327.5 734.7,1329.4 736.7,1327.6 738.7,1330.6 740.8,1332.4 742.8,1327.7 744.8,1330.5 746.9,1331.6 748.9,1327.8 751.0,1332.2 753.0,1332.9 755.0,1328.5 757.1,1328.0 759.1,1330.1 761.2,1327.3 763.2,1325.7 765.3,1328.5 767.3,1326.7 769.4,1323.1 771.4,1321.7 773.5,1321.6 775.5,1321.6 776.3,1323.3 777.0,1320.2 777.8,1319.0 778.6,1316.5 779.4,1314.8 780.1,1307.7 780.9,1308.8 781.0,1309.7 781.2,1307.5 781.3,1300.9 781.5,1300.0 781.6,1299.4 781.8,1295.6 781.9,1294.6 782.1,1289.5 782.2,1289.9 782.4,1288.3 782.5,1283.1 782.7,1281.8 782.8,1285.3 782.9,1282.0 783.1,1281.0 783.2,1276.9 783.4,1276.1 783.5,1274.5 783.7,1272.5 783.8,1264.8 784.0,1266.8 784.1,1262.3 784.3,1262.9 784.4,1258.2 784.5,1258.0 784.7,1258.4 784.8,1254.4 785.0,1249.9 785.1,1249.7 785.3,1247.0 785.4,1248.4 785.6,1242.0 785.7,1240.1 785.9,1240.3 786.0,1234.8 786.2,1235.9 786.3,1236.2 786.5,1231.3 786.7,1227.6 786.9,1226.9 787.1,1225.3 787.3,1220.7 787.6,1218.5 787.8,1216.6 788.0,1215.6 788.2,1214.3 788.4,1211.5 788.6,1209.2 788.8,1206.1 789.0,1207.1 789.2,1207.0 789.4,1203.5 789.7,1201.2 789.9,1199.7 790.1,1194.7 790.3,1196.0 790.5,1192.4 790.7,1190.9 790.9,1189.3 791.1,1186.3 791.3,1183.2 791.5,1180.8 791.8,1178.6 792.0,1178.5 792.2,1175.6 792.4,1174.9 792.6,1169.1 792.8,1169.3 793.0,1170.7 793.2,1164.5 793.4,1164.6 793.6,1162.1 793.9,1158.7 794.1,1161.3 794.3,1154.7 794.5,1155.9 794.7,1149.8 794.9,1147.1 795.1,1154.5 795.3,1153.7 795.4,1153.2 795.6,1157.4 795.8,1159.7 796.0,1163.7 796.2,1161.6 796.4,1164.4 796.5,1171.3 796.7,1171.9 796.9,1170.0 797.1,1173.3 797.3,1175.4 797.5,1179.6 797.6,1181.2 797.8,1184.8 798.0,1186.6 798.2,1186.6 798.4,1190.1 798.6,1192.2 798.7,1194.3 798.9,1194.5 799.1,1198.6 799.3,1200.1 799.5,1203.5 799.7,1200.3 799.8,1207.2 800.0,1203.5 800.2,1210.6 800.4,1211.4 800.6,1212.9 800.8,1218.0 800.9,1217.4 801.1,1218.5 801.3,1222.9 801.5,1225.5 801.7,1225.8 801.9,1226.3 802.0,1228.8 802.2,1230.9 802.4,1234.7 802.5,1233.9 802.5,1236.6 802.6,1239.7 802.7,1240.6 802.7,1242.2 802.8,1247.3 802.9,1249.8 802.9,1249.5 803.0,1251.2 803.1,1251.5 803.1,1254.3 803.2,1255.3 803.3,1260.2 803.3,1262.3 803.4,1261.1 803.5,1268.6 803.5,1266.7 803.6,1272.2 803.7,1274.2 803.7,1277.0 803.8,1274.1 803.8,1277.6 803.9,1282.8 804.0,1278.9 804.0,1281.2 804.1,1286.6 804.2,1288.2 804.2,1293.1 804.3,1294.1 804.4,1294.6 804.4,1299.7 804.5,1298.6 804.6,1300.6 804.6,1303.7 804.7,1303.8 804.8,1305.7 804.8,1309.3 804.9,1309.7 805.0,1315.7 805.0,1315.9 805.1,1317.0 806.7,1315.8 808.3,1319.2 810.0,1321.0 811.6,1323.7 813.2,1325.4 815.3,1327.4 817.3,1328.0 819.4,1324.8 821.4,1324.5 823.5,1325.7 825.6,1328.2 827.6,1323.9 829.7,1325.1 831.7,1327.0 833.8,1322.7 835.8,1323.7 837.9,1328.1 840.0,1327.1 842.0,1325.0 844.1,1322.3 846.1,1327.5 848.2,1326.2 848.8,1325.1 849.4,1324.2 850.1,1321.6 850.7,1316.5 851.3,1312.8 851.9,1311.7 852.5,1311.2 853.1,1309.2 853.8,1305.2 854.4,1303.2 855.0,1304.2 856.7,1302.3 858.4,1298.9 860.0,1301.5 861.7,1297.4 862.8,1295.5 864.0,1300.0 865.1,1304.5 866.2,1303.4 867.4,1307.9 868.5,1305.4 869.1,1309.3 869.7,1314.8 870.3,1315.1 870.9,1317.6 871.5,1316.4 872.2,1320.3 872.8,1322.6 873.4,1322.6 874.0,1327.1 874.6,1328.3 875.2,1333.3 877.5,1330.5 879.7,1329.4 882.0,1327.5 884.2,1327.7 886.5,1331.7 888.7,1327.4 889.5,1325.5 890.3,1324.1 891.1,1324.6 891.9,1324.8 892.7,1321.5 894.2,1324.3 895.6,1320.8 897.1,1321.9 898.5,1328.3 900.0,1326.8 902.0,1329.4 904.1,1327.0 906.1,1325.8 908.2,1326.4 910.2,1325.3 912.3,1330.6 914.3,1328.4 916.4,1326.9 918.4,1327.5 920.4,1327.1 922.5,1324.9 924.5,1330.4 926.6,1328.4 928.6,1330.8 930.7,1327.4 932.7,1328.6 934.8,1326.1 936.8,1324.7 938.8,1330.6 940.9,1330.0 942.9,1326.5 945.0,1330.3 947.0,1329.7 949.1,1326.4 951.1,1328.3 953.1,1330.7 955.2,1327.6 957.2,1330.6 959.3,1325.9 961.3,1326.8 963.4,1329.0 965.4,1325.7 967.5,1326.3 969.5,1330.0 971.5,1327.3 973.6,1329.3 975.6,1325.6 977.7,1325.1 979.7,1326.2 981.7,1325.0 983.8,1330.1 985.8,1325.6 987.9,1327.3 989.9,1324.3 991.9,1326.9 994.0,1325.9 996.0,1325.9 998.1,1323.6 1000.1,1324.0 1002.1,1328.5 1004.2,1325.3 1006.2,1324.6 1008.3,1324.1 1010.3,1324.7 1012.4,1324.3 1014.4,1322.9 1016.4,1327.0 1018.5,1324.8 1020.5,1323.5 1022.6,1327.0 1024.6,1322.9 1026.6,1324.0 1028.7,1327.7 1030.7,1322.9 1032.8,1324.9 1034.8,1327.5 1036.8,1327.2 1038.9,1322.9 1040.9,1324.1 1043.0,1326.4 1045.0,1324.1 1045.7,1326.0 1046.5,1319.0 1047.2,1322.0 1047.9,1317.1 1048.6,1313.3 1049.4,1312.8 1050.1,1308.7 1050.8,1310.6 1051.5,1305.6 1052.3,1307.9 1053.0,1303.9 1053.8,1300.5 1054.6,1297.8 1055.5,1298.2 1056.3,1293.7 1057.1,1296.1 1057.9,1289.2 1058.7,1289.9 1059.6,1288.1 1060.4,1284.4 1061.2,1285.8 1061.7,1285.3 1062.1,1289.2 1062.5,1290.6 1063.0,1291.0 1063.5,1293.6 1063.9,1293.6 1064.3,1296.3 1064.8,1302.8 1065.2,1301.3 1065.7,1305.7 1066.1,1304.1 1066.6,1309.1 1067.1,1309.8 1067.7,1312.7 1068.2,1313.4 1068.8,1313.9 1069.3,1317.6 1069.8,1319.0 1070.4,1320.4 1070.9,1326.3 1071.5,1325.4 1072.0,1328.3 1074.1,1331.6 1076.3,1330.7 1078.4,1331.4 1080.6,1331.3 1082.7,1326.5 1082.9,1325.4 1083.1,1321.8 1083.3,1324.1 1083.5,1322.0 1083.7,1317.9 1083.9,1316.3 1084.1,1315.9 1084.3,1314.2 1084.5,1309.2 1084.7,1311.2 1084.9,1305.9 1085.1,1305.7 1085.3,1300.8 1085.4,1298.3 1085.6,1301.6 1085.8,1298.4 1086.0,1296.2 1086.2,1289.8 1086.4,1287.8 1086.6,1286.6 1086.8,1284.8 1087.0,1283.5 1087.2,1282.0 1087.4,1277.8 1087.6,1277.6 1087.8,1277.7 1088.0,1272.7 1088.1,1275.0 1088.2,1271.2 1088.4,1270.1 1088.5,1265.0 1088.6,1264.2 1088.7,1263.8 1088.8,1259.5 1089.0,1255.2 1089.1,1258.6 1089.2,1256.2 1089.3,1250.9 1089.5,1247.3 1089.6,1250.6 1089.7,1246.9 1089.8,1241.2 1089.9,1240.4 1090.1,1237.5 1090.2,1240.0 1090.3,1234.1 1090.4,1236.7 1090.5,1233.6 1090.7,1227.1 1090.8,1229.1 1090.9,1225.1 1091.0,1225.4 1091.2,1223.9 1091.3,1218.2 1091.4,1214.9 1091.5,1218.5 1091.6,1213.0 1091.8,1214.3 1091.9,1210.7 1092.0,1209.0 1092.4,1207.5 1092.7,1204.0 1093.1,1200.8 1093.4,1196.0 1093.8,1198.2 1094.2,1194.3 1094.5,1192.7 1094.9,1193.4 1095.3,1186.0 1095.6,1188.1 1096.0,1181.2 1096.3,1183.4 1096.7,1182.0 1097.1,1180.5 1097.5,1184.5 1097.8,1189.4 1098.2,1189.3 1098.6,1190.8 1099.0,1191.0 1099.3,1191.8 1099.7,1195.9 1100.1,1198.4 1100.5,1199.1 1100.8,1201.9 1101.2,1202.9 1101.6,1208.8 1101.8,1210.6 1101.9,1209.8 1102.1,1211.8 1102.3,1215.7 1102.4,1217.2 1102.6,1222.5 1102.7,1220.7 1102.9,1222.4 1103.1,1228.3 1103.2,1225.5 1103.4,1230.3 1103.6,1230.8 1103.7,1236.0 1103.9,1236.3 1104.1,1239.8 1104.2,1237.9 1104.4,1243.2 1104.5,1244.8 1104.7,1245.9 1104.9,1250.0 1105.0,1252.5 1105.2,1249.8 1105.4,1253.0 1105.5,1255.5 1105.7,1256.5 1105.9,1257.6 1106.0,1261.1 1106.2,1262.6 1106.3,1268.0 1106.5,1268.3 1106.7,1268.2 1106.8,1271.6 1107.0,1274.6 1107.1,1275.9 1107.3,1276.6 1107.4,1278.0 1107.6,1279.6 1107.7,1288.0 1107.9,1288.4 1108.0,1286.0 1108.2,1292.2 1108.3,1295.9 1108.5,1295.2 1108.6,1294.2 1108.8,1298.7 1108.9,1300.3 1109.1,1300.7 1109.2,1305.0 1109.4,1303.5 1109.5,1311.5 1109.7,1311.7 1109.8,1313.6 1110.0,1317.6 1110.1,1317.7 1110.3,1317.1 1110.4,1319.0 1110.6,1320.3 1110.7,1321.6 1110.9,1328.5 1111.0,1330.9 1113.3,1326.7 1115.7,1325.3 1118.1,1327.6 1120.4,1328.3 1120.6,1326.8 1120.8,1319.8 1121.0,1321.9 1121.2,1320.2 1121.4,1317.6 1121.6,1312.8 1121.9,1309.9 1122.1,1312.1 1122.3,1306.8 1122.5,1305.1 1122.7,1304.3 1122.9,1301.1 1123.1,1302.1 1123.3,1296.2 1123.5,1292.9 1123.7,1294.4 1123.9,1292.8 1124.1,1292.0 1124.3,1289.3 1124.6,1288.6 1124.8,1286.8 1125.0,1281.9 1125.2,1279.9 1125.4,1275.6 1125.6,1274.5 1125.8,1274.4 1126.0,1269.1 1126.2,1271.1 1126.4,1265.6 1126.6,1265.5 1126.8,1266.9 1127.0,1259.1 1127.3,1256.8 1127.5,1257.4 1127.7,1253.8 1127.9,1255.3 1128.1,1248.5 1128.3,1252.1 1128.5,1250.1 1128.7,1247.7 1129.0,1243.3 1129.2,1240.4 1129.4,1240.9 1129.6,1238.0 1129.9,1235.4 1130.1,1232.8 1130.3,1231.5 1130.6,1231.0 1130.8,1230.1 1131.0,1228.6 1131.2,1221.7 1131.5,1220.6 1131.7,1219.6 1131.9,1218.4 1132.2,1215.0 1132.4,1212.0 1132.6,1209.3 1132.8,1208.9 1133.1,1207.8 1133.3,1209.2 1133.5,1206.8 1133.7,1204.5 1134.0,1203.2 1134.2,1201.2 1134.4,1196.9 1134.7,1196.2 1134.9,1189.3 1135.1,1191.3 1135.3,1188.9 1135.6,1184.9 1135.8,1184.7 1136.0,1185.2 1136.3,1180.1 1136.5,1179.2 1136.7,1174.9 1136.9,1173.2 1137.2,1174.8 1137.4,1167.2 1137.6,1170.3 1137.8,1175.6 1138.0,1176.1 1138.2,1175.7 1138.4,1181.6 1138.6,1181.7 1138.7,1185.1 1138.9,1186.1 1139.1,1188.9 1139.3,1191.1 1139.5,1192.1 1139.7,1192.2 1139.9,1194.7 1140.1,1201.4 1140.3,1201.2 1140.5,1200.4 1140.7,1207.4 1140.9,1205.4 1141.1,1206.4 1141.2,1211.3 1141.4,1211.5 1141.6,1215.1 1141.8,1217.6 1142.0,1217.4 1142.2,1221.8 1142.4,1220.8 1142.6,1225.5 1142.8,1228.0 1143.0,1226.7 1143.2,1230.9 1143.4,1230.7 1143.5,1235.2 1143.7,1240.0 1143.9,1240.0 1144.1,1243.1 1144.3,1245.4 1144.5,1243.2 1144.7,1251.0 1144.8,1251.3 1144.9,1249.2 1145.0,1256.0 1145.1,1255.2 1145.2,1255.7 1145.3,1263.0 1145.4,1262.4 1145.5,1265.8 1145.6,1263.6 1145.7,1269.8 1145.8,1267.1 1145.9,1270.3 1146.0,1273.2 1146.1,1272.9 1146.2,1278.8 1146.3,1278.3 1146.4,1280.9 1146.5,1285.6 1146.6,1285.7 1146.7,1290.8 1146.8,1291.1 1146.9,1294.8 1147.0,1294.7 1147.1,1299.1 1147.2,1300.8 1147.3,1298.2 1147.4,1304.0 1147.5,1303.4 1147.6,1308.2 1147.7,1309.7 1147.8,1312.6 1147.9,1310.0 1148.0,1313.7 1148.1,1318.1 1148.2,1321.5 1148.3,1322.1 1148.4,1319.6 1148.5,1325.3 1148.6,1324.0 1148.7,1329.0 1150.8,1330.8 1152.8,1326.4 1154.9,1331.9 1156.9,1330.4 1159.0,1327.8 1161.0,1327.5 1163.1,1329.3 1165.2,1332.1 1167.2,1330.5 1169.3,1327.6 1171.3,1327.1 1173.4,1327.8 1175.5,1332.5 1177.5,1328.6 1179.6,1331.2 1181.6,1329.6 1183.7,1332.4 1185.7,1330.5 1187.8,1329.1 1189.6,1332.5 1191.4,1329.0 1193.2,1328.6 1195.0,1328.0 1196.8,1327.6 1198.6,1320.1 1199.0,1320.3 1199.5,1317.1 1199.9,1317.5 1200.4,1318.0 1200.8,1315.5 1201.3,1308.5 1201.8,1307.6 1202.2,1309.8 1202.7,1306.9 1203.1,1303.1 1203.5,1301.7 1204.0,1297.6 1204.5,1300.2 1204.9,1295.3 1205.3,1296.5 1205.8,1292.8 1206.2,1287.4 1206.7,1287.1 1207.7,1284.5 1208.7,1287.1 1209.7,1283.3 1210.8,1277.8 1211.8,1276.8 1212.8,1276.3 1213.8,1275.1 1214.8,1274.0 1215.2,1274.8 1215.6,1276.6 1216.0,1276.3 1216.3,1282.1 1216.7,1282.5 1217.1,1282.4 1217.5,1287.3 1217.9,1292.8 1218.3,1288.6 1218.7,1291.3 1219.0,1296.8 1219.4,1296.2 1219.8,1298.2 1220.2,1301.7 1220.4,1302.3 1220.6,1306.4 1220.8,1308.3 1221.0,1313.2 1221.2,1315.6 1221.4,1311.4 1221.6,1317.0 1221.7,1320.5 1221.9,1323.3 1222.1,1324.7 1222.3,1325.9 1222.5,1328.0 1222.7,1328.4 1222.9,1330.0 1225.0,1333.3 1227.0,1333.7 1229.1,1334.1 1231.1,1332.3 1233.2,1329.8 1235.2,1332.7 1237.3,1332.5 1239.3,1330.9 1241.4,1331.7 1243.4,1329.7 1245.5,1331.0 1247.5,1330.0 1249.6,1327.6 1251.6,1329.4 1253.7,1329.2 1255.7,1333.6 1257.8,1330.1 1259.8,1329.3 1261.9,1328.4 1263.9,1328.3 1266.0,1329.0 1266.7,1325.7 1267.3,1322.9 1268.0,1326.7 1268.7,1322.0 1269.3,1320.1 1270.0,1319.0 1270.7,1315.3 1271.3,1312.5 1272.0,1309.9 1272.7,1309.5 1273.3,1307.7 1274.0,1308.5 1274.7,1305.4 1275.4,1306.0 1276.1,1300.2 1276.9,1302.1 1277.6,1297.9 1278.3,1292.7 1279.0,1291.4 1279.4,1296.1 1279.8,1300.8 1280.1,1298.7 1280.5,1303.5 1280.9,1303.2 1281.2,1308.2 1281.6,1304.9 1282.0,1309.7 1282.4,1314.5 1282.8,1312.4 1283.1,1314.4 1283.5,1314.9 1284.7,1317.5 1285.9,1319.8 1287.1,1324.4 1288.2,1322.8 1289.4,1325.7 1290.6,1326.1 1291.8,1330.4 1293.0,1333.8 1293.7,1330.3 1294.3,1325.3 1295.0,1326.8 1295.7,1326.3 1296.3,1321.9 1297.0,1316.4 1297.7,1319.2 1298.3,1317.6 1299.0,1312.1 1299.7,1308.7 1300.3,1307.0 1301.0,1307.2 1301.3,1307.5 1301.5,1303.9 1301.8,1303.7 1302.1,1297.0 1302.3,1295.8 1302.6,1296.6 1302.9,1293.9 1303.2,1290.3 1303.4,1290.0 1303.7,1285.8 1304.0,1281.9 1304.2,1282.3 1304.5,1277.8 1304.8,1279.6 1305.1,1275.7 1305.3,1274.7 1305.6,1273.4 1305.9,1269.1 1306.1,1268.5 1306.4,1263.5 1306.7,1267.5 1307.1,1263.2 1307.4,1264.0 1307.7,1255.9 1308.0,1257.6 1308.4,1256.3 1308.7,1251.7 1309.0,1248.2 1309.4,1246.6 1309.7,1244.6 1310.0,1246.7 1310.3,1240.3 1310.7,1243.1 1311.0,1238.5 1311.3,1241.2 1311.7,1243.5 1312.0,1245.3 1312.4,1248.0 1312.7,1249.6 1313.1,1249.8 1313.4,1254.4 1313.7,1253.2 1314.1,1258.2 1314.4,1260.5 1314.8,1262.6 1315.1,1261.5 1315.5,1266.5 1315.8,1269.9 1315.9,1268.4 1316.1,1269.3 1316.2,1273.0 1316.4,1277.8 1316.5,1274.5 1316.6,1275.7 1316.8,1280.9 1316.9,1284.1 1317.1,1286.9 1317.2,1286.2 1317.4,1292.4 1317.5,1289.4 1317.6,1295.0 1317.8,1292.6 1317.9,1294.3 1318.1,1297.0 1318.2,1298.6 1318.3,1303.5 1318.5,1305.9 1318.6,1305.5 1318.8,1312.5 1318.9,1310.8 1319.1,1311.4 1319.2,1313.6 1319.3,1319.4 1319.5,1322.6 1319.6,1319.7 1319.8,1320.8 1319.9,1327.8 1321.9,1324.4 1323.9,1329.4 1326.0,1326.3 1328.0,1327.3 1330.0,1325.5 1332.0,1328.6 1334.1,1326.4 1336.1,1325.6 1338.1,1329.5 1340.1,1324.4 1342.1,1328.6 1344.2,1324.3 1346.2,1328.2 1348.2,1326.7 1350.2,1329.8 1352.2,1324.6 1354.3,1328.1 1356.3,1327.1 1358.3,1330.6 1360.3,1330.9 1362.3,1328.9 1364.4,1326.3 1366.4,1326.6 1368.4,1326.7 1370.4,1328.0 1372.5,1326.7 1374.5,1326.6 1376.5,1330.4 1377.3,1327.8 1378.2,1323.6 1379.0,1326.4 1379.8,1319.4 1380.7,1319.8 1381.5,1315.2 1382.3,1318.0 1383.1,1316.2 1384.0,1310.3 1384.8,1311.7 1385.6,1310.3 1386.5,1304.8 1387.3,1303.3 1389.2,1303.1 1391.1,1304.6 1392.9,1298.6 1394.8,1300.9 1396.7,1299.1 1397.9,1299.9 1399.0,1302.5 1400.2,1306.3 1401.3,1303.6 1402.5,1309.8 1403.7,1308.1 1404.8,1312.6 1406.0,1314.9 1406.9,1312.4 1407.7,1319.0 1408.6,1321.8 1409.5,1319.3 1410.3,1319.5 1411.2,1322.1 1412.0,1329.8 1412.9,1325.5 1414.9,1331.4 1417.0,1326.4 1419.0,1330.3 1421.1,1326.0 1423.1,1326.5 1425.2,1329.9 1427.2,1326.0 1429.3,1327.6 1431.3,1331.5 1433.4,1330.1 1435.4,1331.2 1437.5,1331.9 1439.5,1325.6 1441.6,1326.9 1443.6,1330.6 1445.7,1330.0 1447.7,1325.6 1449.8,1328.7 1451.8,1326.9 1453.9,1328.2 1455.9,1326.1 1458.0,1325.5 1460.0,1331.9 1462.0,1327.1 1464.0,1330.4 1465.9,1325.0 1467.9,1327.0 1469.9,1324.3 1471.9,1325.8 1473.9,1323.8 1475.8,1326.7 1477.8,1322.8 1479.8,1326.3 1481.8,1324.3 1483.8,1321.3 1485.8,1322.5 1487.7,1323.1 1489.7,1325.5 1491.7,1321.3 1493.7,1320.8 1495.7,1326.2 1497.6,1326.0 1499.6,1325.4 1501.6,1322.8 1503.5,1322.6 1505.5,1323.5 1507.5,1322.7 1508.7,1320.8 1509.8,1322.2 1511.0,1319.8 1512.1,1319.1 1513.3,1316.2 1514.4,1312.2 1515.6,1315.0 1516.7,1313.1 1517.9,1310.7 1519.0,1309.0 1520.2,1308.3 1521.1,1312.2 1521.9,1313.4 1522.8,1314.4 1523.7,1314.2 1524.5,1315.7 1525.4,1318.3 1526.2,1323.9 1527.1,1322.0 1528.0,1324.0 1528.8,1326.1 1529.7,1326.3 1531.7,1331.9 1533.7,1325.3 1535.8,1329.3 1537.8,1331.3 1539.8,1326.9 1541.8,1329.2 1543.9,1327.6 1545.9,1326.6 1547.9,1326.3 1549.9,1325.7 1552.0,1330.5 1554.0,1330.0 1556.0,1330.8 1558.0,1325.1 1560.1,1329.3 1562.1,1326.8 1564.1,1328.9 1566.1,1328.2 1568.1,1326.6 1570.2,1330.9 1572.2,1324.5 1574.2,1329.3 1576.2,1330.0 1578.3,1327.7 1580.3,1328.2 1582.3,1330.8 1584.3,1325.7 1586.4,1328.3 1588.4,1329.0 1590.4,1326.6 1592.4,1328.7 1594.5,1326.6 1596.5,1327.4 1598.5,1327.9 1600.5,1328.3 1602.6,1325.9 1604.6,1327.9 1606.6,1327.3 1608.6,1325.1 1610.6,1327.7 1612.7,1325.3 1614.7,1329.5 1616.7,1326.6 1618.7,1328.2 1620.8,1326.8 1622.8,1326.5 1624.8,1324.8 1626.8,1324.2 1628.9,1329.3 1630.9,1326.7 1632.9,1326.6 1634.9,1326.6 1637.0,1328.4 1639.0,1324.6 1641.0,1324.1 1643.0,1328.3 1645.0,1325.9 1647.1,1327.0 1649.1,1328.2 1651.1,1328.6 1653.1,1328.4 1655.2,1322.9 1657.2,1325.1 1659.2,1328.0 1661.2,1327.9 1663.3,1323.3 1665.3,1323.4 1667.3,1324.0 1669.3,1323.0 1671.4,1324.6 1673.4,1327.5 1675.4,1325.6 1676.5,1323.5 1677.7,1319.3 1678.8,1319.6 1680.0,1321.9 1681.1,1318.2 1682.3,1314.8 1683.4,1313.3 1684.6,1313.7 1685.7,1311.7 1686.9,1305.9 1688.0,1307.7 1689.3,1303.9 1690.6,1303.2 1691.8,1299.7 1693.1,1298.8 1694.4,1296.9 1695.1,1299.1 1695.9,1298.6 1696.6,1301.6 1697.3,1305.9 1698.1,1304.4 1698.8,1307.1 1699.5,1312.5 1700.2,1311.5 1701.0,1313.7 1701.7,1315.0 1702.4,1320.8 1703.2,1317.7 1703.9,1323.2 1705.9,1324.7 1707.9,1320.3 1709.9,1321.8 1711.9,1324.2 1713.9,1323.1 1715.9,1321.5 1717.9,1319.3 1719.9,1321.9 1721.9,1321.4 1723.9,1323.7 1725.9,1320.9 1727.9,1321.7 1729.9,1323.3 1731.9,1324.4 1733.9,1321.3 1735.9,1321.5 1737.9,1322.8 1739.9,1325.1 1741.9,1320.3 1743.9,1325.9 1745.9,1324.7 1747.9,1323.0 1749.9,1325.5 1752.0,1323.8 1754.0,1322.6 1756.0,1327.6 1758.0,1325.7 1760.0,1327.2 1762.0,1327.0 1764.0,1329.6 1766.0,1328.7 1768.0,1323.8 1770.0,1327.5 1772.0,1326.7 1774.0,1326.6 1776.1,1329.1 1778.1,1326.3 1780.1,1326.7 1782.1,1329.4 1784.1,1326.4 1786.1,1326.8 1788.1,1326.9 1790.1,1328.9 1792.1,1327.9 1794.1,1328.3 1796.1,1326.1 1798.1,1323.7 1800.1,1327.9 1802.1,1327.0 1804.1,1328.5 1806.2,1328.4 1808.2,1324.1 1810.2,1324.8 1812.2,1323.8 1814.2,1328.7 1816.2,1324.0 1818.2,1323.9 1820.2,1328.2 1822.2,1327.0 1824.2,1323.6 1826.2,1327.7 1828.2,1327.9 1830.2,1326.4 1832.2,1323.5 1834.3,1327.7 1836.3,1325.9 1838.3,1327.0 1840.3,1329.7 1842.3,1328.5 1844.3,1328.8 1846.3,1324.0 1848.3,1325.3 1850.3,1326.5 1852.3,1323.1 1854.3,1329.5 1856.3,1324.8 1858.3,1324.7 1860.3,1325.0 1862.3,1324.6 1864.4,1328.6 1866.4,1326.6 1868.4,1326.3 1870.4,1325.7 1872.4,1323.2 1874.4,1324.9 1876.4,1328.6 1878.4,1328.1 1880.4,1328.5 1882.4,1324.5 1884.4,1324.1 1886.4,1323.1 1888.4,1326.3 1890.4,1325.2 1892.4,1325.8 1894.5,1326.0 1896.5,1326.6 1898.5,1325.1 1900.5,1328.0 1902.5,1324.0 1904.5,1328.7 1906.5,1326.3 1908.5,1323.0 1910.5,1324.7 1912.5,1326.1 1914.5,1325.3 1916.5,1326.3 1918.5,1324.7 1920.5,1324.3 1922.6,1327.8 1924.6,1324.4 1926.6,1327.2 1928.6,1327.8 1930.6,1326.4 1932.6,1325.4 1934.6,1328.6 1936.6,1325.4 1938.6,1328.2 1940.6,1322.8 1942.6,1325.2 1944.6,1326.6 1946.6,1322.7 1948.6,1328.0 1950.6,1322.8 1952.7,1326.2 1954.7,1323.5 1956.7,1328.4 1958.7,1326.0 1960.7,1327.5 1962.7,1325.5 1964.7,1326.7 1966.7,1326.7 1968.6,1323.3 1970.5,1322.0 1972.4,1325.3 1974.3,1319.9 1976.2,1324.2 1978.2,1318.6 1980.1,1317.1 1982.0,1316.3 1983.9,1320.0 1985.8,1320.3 1987.9,1317.0 1990.0,1319.0 1992.1,1316.6 1994.2,1321.2 1996.3,1320.1 1998.4,1316.9 2000.5,1316.5 2002.6,1321.1 2004.7,1317.1 2006.8,1322.6 2008.9,1319.3 2011.0,1319.2 2013.1,1321.0 2015.2,1318.7 2017.3,1319.7 2019.4,1316.5 2021.6,1320.9 2023.7,1316.5 2025.8,1319.4 2027.9,1314.3 2030.0,1318.0 2031.6,1320.8 2033.2,1318.5 2034.8,1317.7 2036.4,1321.5 2038.0,1324.8 2039.6,1323.7 2041.4,1324.6 2043.2,1320.5 2045.0,1321.8 2046.9,1322.3 2048.7,1319.2 2050.5,1319.7 2052.3,1314.8 2054.0,1320.7 2055.8,1317.3 2057.5,1323.9 2059.3,1325.6 2061.0,1326.5 2062.8,1325.1 2064.5,1324.8 2066.3,1326.4 2068.0,1330.4 2070.1,1328.2 2072.1,1330.6 2074.2,1324.7 2076.2,1326.8 2078.3,1328.8 2080.4,1326.6 2082.4,1325.8 2084.5,1322.4 2086.5,1322.2 2088.6,1322.7 2090.6,1326.3 2092.7,1325.5 2094.8,1321.0 2096.8,1325.2 2098.9,1318.8 2100.9,1322.1 2103.0,1324.1 2105.0,1320.5 2107.1,1325.0 2109.1,1323.7 2111.1,1320.2 2113.1,1322.6 2115.2,1324.0 2117.2,1323.2 2119.2,1327.0 2121.3,1323.8 2123.3,1328.4 2125.3,1325.7 2127.3,1324.8 2129.4,1328.5 2131.4,1326.0 2133.4,1328.7 2135.4,1330.0 2137.5,1328.5 2139.5,1327.3 2141.5,1324.2 2143.5,1327.0 2145.5,1324.0 2147.5,1327.3 2149.6,1323.7 2151.6,1326.3 2153.6,1324.5 2155.6,1324.4 2157.6,1326.0 2159.7,1322.4 2161.7,1322.2 2163.7,1327.0 2165.7,1322.6 2167.7,1325.7 2169.7,1325.6 2171.8,1322.8 2173.8,1320.3 2175.8,1319.6 2177.8,1324.8 2179.8,1319.8 2181.8,1322.3 2183.8,1322.5 2185.8,1319.8 2187.8,1322.1 2189.8,1320.1 2191.9,1322.5 2193.9,1322.3 2195.9,1321.4 2197.9,1320.3 2199.9,1321.7 2201.9,1320.3 2203.9,1319.8 2205.9,1320.6 2207.9,1324.8 2209.9,1322.3 2211.9,1324.9 2213.9,1319.1 2215.9,1325.2 2217.9,1322.2 2219.9,1324.2 2222.0,1322.8 2224.0,1323.5 2226.0,1320.5 2228.0,1324.0 2230.0,1320.0 2232.0,1320.7 2234.0,1319.2 2236.0,1321.6 2238.0,1322.8 2240.0,1321.7 2242.0,1326.1 2244.0,1321.1 2246.0,1324.8 2248.0,1322.9 2250.0,1325.7 2252.0,1327.3 2254.0,1327.2 2256.0,1323.3 2258.0,1324.9 2260.0,1327.7 2262.0,1330.2 2264.0,1324.0 2266.0,1327.8 2268.0,1328.3 2270.0,1329.1 2272.0,1326.0 2274.0,1329.1 2276.0,1326.8 2278.0,1329.8 2280.0,1323.8 2282.0,1330.0 2284.0,1326.5 2286.0,1326.5 2288.0,1324.4 2290.0,1325.4 2292.0,1328.6 2294.0,1328.3 2296.0,1324.8 2298.0,1326.1 2300.0,1324.8 2302.0,1325.1 2304.0,1325.3 2306.0,1326.0 2308.0,1330.3 2310.0,1330.4 2312.0,1329.1 2314.0,1327.0 2316.0,1327.2 2318.0,1329.0 2320.0,1329.9 2322.0,1328.9 2324.0,1328.1 2326.0,1325.2 2328.0,1328.0 2330.0,1329.5 2332.0,1329.1 2334.0,1324.5 2336.0,1328.7 2338.0,1326.2 2340.0,1325.0 2342.0,1330.3 2344.0,1328.4 2346.0,1328.9 2348.0,1324.9 2350.0,1329.4 2352.0,1330.2 2354.0,1330.0 2356.0,1328.9 2358.0,1329.5 2360.0,1329.3 2362.0,1327.9 2364.0,1326.9 2366.0,1329.5 2368.0,1329.2 2370.0,1329.8 2372.0,1326.0 2374.0,1330.4 2376.0,1327.6 2378.0,1330.3 2380.0,1324.8 2382.0,1330.5 2384.0,1329.3 2386.0,1325.8 2388.0,1329.6" fill="none" stroke="#ff0000" stroke-width="10" stroke-linejoin="round" stroke-linecap="round" clip-path="url(#clipA)"/>
<polyline points="424.0,1054.7 426.0,1054.6 428.0,1055.3 430.0,1054.7 432.0,1055.4 434.0,1056.7 436.0,1056.0 438.0,1056.0 440.0,1055.1 442.0,1056.2 444.0,1056.2 446.0,1055.9 448.0,1056.7 450.0,1056.3 452.0,1055.0 454.0,1054.1 456.0,1055.7 458.0,1056.3 460.0,1054.8 462.0,1055.5 464.0,1056.2 466.0,1056.1 468.0,1053.7 470.0,1055.2 472.0,1053.7 474.0,1054.0 476.0,1056.1 478.0,1054.9 480.0,1055.4 482.0,1055.0 484.0,1054.6 486.0,1054.2 488.0,1054.6 490.0,1056.1 492.0,1055.4 494.0,1054.4 496.0,1053.8 498.0,1054.3 500.0,1055.6 502.0,1054.8 504.0,1055.4 506.0,1055.9 508.0,1053.8 510.0,1055.4 512.0,1053.5 514.0,1055.8 516.0,1053.9 518.0,1054.1 520.0,1056.2 522.0,1054.4 524.0,1053.9 526.0,1055.9 528.0,1055.1 530.0,1055.9 532.0,1054.4 534.0,1054.7 536.0,1056.0 538.0,1054.6 540.0,1056.1 542.0,1053.6 544.0,1055.6 546.0,1053.5 548.0,1054.6 550.0,1053.0 552.0,1053.5 554.0,1055.8 556.0,1054.3 558.0,1055.3 560.0,1053.7 562.0,1053.9 564.0,1053.2 566.0,1054.5 568.0,1055.4 570.0,1054.3 572.0,1053.9 574.0,1055.5 576.0,1055.4 578.0,1054.7 580.0,1052.9 582.0,1054.6 584.0,1054.0 586.0,1055.5 588.0,1053.7 590.0,1054.6 592.0,1054.5 594.0,1053.7 596.0,1054.1 598.0,1054.5 600.0,1055.2 602.0,1053.9 604.1,1053.4 606.1,1055.2 608.1,1052.4 610.2,1054.6 612.2,1054.1 614.2,1053.6 616.3,1053.2 618.3,1054.1 620.3,1054.4 622.4,1053.8 624.4,1053.8 626.4,1051.6 628.5,1052.4 630.5,1051.8 632.5,1054.1 634.6,1053.9 636.6,1051.5 638.6,1052.8 640.7,1052.7 642.7,1051.0 644.8,1052.0 646.8,1053.0 648.8,1052.6 650.9,1051.4 652.9,1052.8 654.9,1051.3 657.0,1052.0 659.0,1051.5 661.0,1053.1 663.1,1052.1 665.1,1052.4 667.1,1052.0 669.2,1051.0 671.2,1052.7 673.2,1051.8 675.3,1051.7 677.3,1050.4 679.3,1050.0 681.4,1051.1 683.4,1051.8 685.4,1051.6 687.5,1050.2 689.5,1049.5 691.6,1051.3 693.7,1053.0 695.8,1051.5 697.9,1053.9 700.0,1052.8 702.0,1053.0 704.1,1052.1 706.1,1052.6 708.2,1052.6 710.2,1054.2 712.3,1054.0 714.4,1051.5 716.4,1051.6 718.5,1053.3 720.5,1050.9 722.6,1051.1 724.6,1051.2 727.5,1049.9 730.3,1050.1 732.4,1050.1 734.4,1049.7 736.5,1051.1 738.5,1048.6 740.6,1048.1 742.6,1049.8 744.7,1048.1 746.7,1048.9 748.8,1047.9 750.8,1047.9 752.9,1046.2 754.9,1045.3 757.0,1046.8 758.8,1046.8 760.6,1048.0 763.0,1049.0 765.3,1050.0 767.7,1049.3 769.9,1049.2 772.1,1050.5 774.3,1049.0 776.5,1047.9 778.7,1048.6 780.9,1047.1 782.3,1046.8 783.8,1042.8 785.2,1043.4 786.6,1040.8 787.0,1038.2 787.5,1038.0 787.9,1034.0 788.4,1032.0 788.8,1029.5 789.3,1029.0 789.7,1027.7 790.2,1025.5 790.6,1022.7 792.2,1022.4 793.8,1018.8 795.4,1017.9 797.0,1017.4 797.4,1016.4 797.8,1013.4 798.1,1011.6 798.5,1009.8 798.9,1006.7 799.2,1006.3 799.6,1003.7 800.0,1000.5 800.4,998.7 800.8,997.9 801.1,994.5 801.5,992.1 801.9,992.1 802.2,989.1 802.6,987.1 803.0,985.5 803.2,984.2 803.4,979.9 803.6,978.5 803.8,975.7 804.0,974.7 804.2,973.0 804.4,972.1 804.5,969.5 804.7,967.2 804.9,964.7 805.1,963.2 805.3,960.3 805.5,960.0 805.7,957.9 805.9,956.0 806.1,952.0 806.3,951.5 806.5,949.8 806.7,947.0 806.9,946.2 807.1,944.2 807.3,941.7 807.5,940.0 807.7,937.4 807.8,936.1 808.0,931.9 808.2,931.6 808.4,929.6 808.6,927.3 808.8,924.3 809.0,921.7 809.2,921.3 809.4,924.0 809.5,924.3 809.7,926.1 809.8,928.2 810.0,929.8 810.1,933.5 810.3,936.4 810.4,937.9 810.6,938.6 810.7,941.6 810.9,941.7 811.0,946.0 811.2,946.5 811.3,947.5 811.5,951.4 811.6,951.9 811.8,954.3 811.9,955.7 812.1,958.8 812.2,961.2 812.4,963.9 812.5,963.6 812.7,968.0 812.8,967.8 813.0,970.2 813.1,973.4 813.1,974.6 813.2,976.6 813.3,979.3 813.3,980.3 813.4,984.0 813.5,984.3 813.5,988.2 813.6,990.1 813.7,991.3 813.7,991.8 813.8,996.1 813.9,995.8 813.9,999.3 814.0,1001.1 814.1,1002.0 814.1,1005.7 814.2,1008.0 814.3,1009.6 814.3,1011.1 814.4,1013.5 814.5,1015.7 814.5,1016.6 814.6,1020.6 814.7,1023.0 814.7,1024.4 814.8,1026.9 814.9,1027.0 814.9,1031.0 815.0,1030.3 815.8,1033.6 816.7,1034.5 817.5,1037.5 818.3,1040.2 819.2,1042.3 820.0,1043.6 821.0,1041.2 822.0,1038.7 823.0,1037.3 824.0,1035.0 825.0,1032.7 826.4,1032.5 827.8,1029.9 829.2,1027.9 830.6,1025.3 832.0,1025.0 833.4,1021.6 835.4,1022.0 837.4,1023.0 839.5,1023.6 841.5,1024.6 843.5,1024.1 845.5,1024.8 846.9,1026.3 848.2,1027.3 849.6,1028.9 850.9,1028.5 852.3,1030.5 853.6,1031.5 855.0,1035.6 856.3,1036.8 857.7,1038.1 859.1,1035.4 860.6,1034.1 862.0,1031.9 863.5,1031.8 864.9,1031.2 866.4,1027.6 867.8,1025.2 869.4,1026.9 871.0,1028.6 872.5,1031.5 874.1,1032.4 875.7,1032.6 877.3,1032.8 878.8,1034.1 880.4,1035.4 882.0,1038.5 883.7,1036.4 885.3,1036.8 887.0,1035.4 888.7,1033.9 890.3,1031.7 892.0,1031.6 893.7,1028.3 895.3,1027.1 897.0,1027.2 898.7,1025.9 900.3,1023.8 902.0,1022.8 904.0,1021.8 906.1,1024.2 908.1,1023.4 910.1,1023.8 912.2,1023.7 914.2,1021.8 916.3,1022.4 918.3,1021.2 919.3,1020.4 920.3,1018.5 921.3,1014.4 922.4,1012.0 923.4,1010.6 924.4,1009.7 925.8,1007.3 927.3,1004.4 928.7,1005.2 930.2,1003.3 931.6,1000.6 933.1,997.6 934.5,998.4 935.2,995.4 935.9,992.1 936.6,991.0 937.2,990.0 937.9,988.9 938.6,985.8 939.3,984.3 940.0,981.1 940.2,979.2 940.4,979.2 940.6,975.6 940.8,972.8 941.0,972.3 941.2,968.9 941.4,967.1 941.6,965.9 941.8,964.3 942.0,962.4 942.2,960.6 942.4,957.8 942.6,954.7 942.8,954.7 943.0,950.7 943.2,949.9 943.4,947.7 943.6,946.5 943.8,944.6 944.0,941.2 944.2,940.4 944.4,938.6 944.6,935.9 944.8,932.9 945.0,933.2 945.2,930.3 945.4,926.7 945.6,925.2 945.8,925.5 946.0,921.2 946.2,919.7 946.4,918.9 946.6,917.0 946.8,914.4 947.0,912.7 947.2,908.6 947.4,906.8 947.6,907.4 947.8,904.9 948.0,900.6 948.2,898.6 948.4,897.2 948.5,897.2 948.7,893.0 948.8,892.4 949.0,891.1 949.1,888.2 949.3,887.0 949.4,883.0 949.6,880.6 949.7,878.2 949.9,878.3 950.1,874.3 950.2,874.9 950.4,872.1 950.5,868.5 950.7,868.3 950.8,864.3 951.0,863.3 951.1,860.1 951.3,860.1 951.4,858.3 951.6,856.4 951.7,851.6 951.9,852.1 952.1,849.2 952.2,847.9 952.4,844.9 952.5,843.2 952.7,841.1 952.8,839.7 953.0,835.5 953.1,833.4 953.3,832.8 953.4,830.0 953.6,828.3 953.7,825.1 953.8,825.3 953.9,821.1 953.9,821.5 954.0,819.4 954.1,816.3 954.2,813.3 954.3,812.8 954.4,809.4 954.5,808.1 954.6,805.1 954.6,805.7 954.7,802.3 954.8,799.7 954.9,796.9 955.0,796.8 955.1,795.1 955.2,793.1 955.2,788.8 955.3,787.6 955.4,785.4 955.5,784.7 955.6,780.8 955.7,780.2 955.8,779.3 955.9,776.6 955.9,772.3 956.0,770.5 956.1,768.6 956.2,768.3 956.3,766.0 956.4,763.7 956.5,761.5 956.6,759.3 956.6,757.9 956.7,756.0 956.8,754.7 956.9,752.2 957.0,750.3 957.1,748.6 957.2,746.4 957.2,744.0 957.3,739.9 957.4,739.8 957.5,738.3 957.6,735.0 957.7,734.3 957.8,730.2 957.9,730.4 957.9,726.9 958.0,725.7 958.1,722.3 958.2,720.4 958.3,718.5 958.3,716.4 958.4,713.7 958.4,712.8 958.5,712.3 958.6,709.3 958.6,708.2 958.7,705.6 958.7,703.8 958.8,702.3 958.9,699.6 958.9,696.1 959.0,694.0 959.0,692.5 959.1,689.3 959.2,687.9 959.2,687.8 959.3,685.9 959.3,682.1 959.4,681.4 959.5,679.4 959.5,677.8 959.6,675.4 959.6,672.6 959.7,669.3 959.8,669.5 959.8,665.9 959.9,664.9 960.0,662.1 960.0,660.5 960.1,659.8 960.1,655.4 960.2,654.5 960.3,652.8 960.3,650.5 960.4,649.6 960.4,646.0 960.5,645.5 960.6,642.8 960.6,641.6 960.7,637.0 960.7,635.3 960.8,633.6 960.9,633.4 960.9,628.7 961.0,627.4 961.0,626.8 961.1,625.6 961.2,621.1 961.2,619.9 961.3,618.6 961.3,616.6 961.4,614.7 961.5,612.7 961.6,609.2 961.6,607.2 961.7,604.5 961.8,604.5 961.9,601.0 961.9,599.1 962.0,599.2 962.1,596.3 962.2,594.1 962.2,592.3 962.3,590.1 962.4,588.3 962.5,585.1 962.5,582.4 962.6,580.4 962.7,578.2 962.8,577.2 962.8,574.6 962.9,572.5 963.0,571.6 963.1,571.0 963.1,568.1 963.2,564.9 963.3,564.3 963.4,560.5 963.4,558.3 963.5,556.9 963.6,555.2 963.7,554.0 963.7,551.2 963.8,550.1 963.9,546.2 964.0,546.7 964.0,542.9 964.1,542.3 964.2,537.9 964.3,538.3 964.3,534.4 964.4,534.3 964.5,532.1 964.6,529.7 964.6,526.5 964.7,523.7 964.8,522.2 964.9,522.3 964.9,518.1 965.0,517.6 965.1,515.3 965.2,513.5 965.2,510.1 965.3,507.9 965.4,505.8 965.4,506.4 965.5,502.6 965.5,501.4 965.6,499.1 965.6,496.1 965.7,493.6 965.7,491.4 965.8,491.9 965.8,487.7 965.9,488.2 965.9,484.4 966.0,483.4 966.0,479.7 966.1,479.6 966.1,476.0 966.2,474.3 966.2,472.7 966.2,469.5 966.3,467.9 966.3,467.5 966.4,464.0 966.4,462.2 966.5,461.4 966.5,457.7 966.6,455.6 966.6,453.7 966.7,452.1 966.7,450.1 966.8,448.9 966.8,446.3 966.9,445.5 966.9,441.0 967.0,440.9 967.0,439.4 967.1,435.5 967.1,432.9 967.1,432.1 967.2,429.1 967.2,428.1 967.3,426.9 967.3,423.0 967.4,421.1 967.4,420.1 967.5,417.2 967.5,415.3 967.6,414.0 967.6,411.0 967.7,408.8 967.7,407.7 967.8,406.0 967.8,405.3 967.9,402.2 967.9,398.7 968.0,397.1 968.1,396.7 968.1,394.1 968.2,393.0 968.3,391.2 968.4,388.9 968.5,384.6 968.5,385.1 968.6,381.8 968.7,378.9 968.8,376.7 968.9,376.7 968.9,372.8 969.0,370.3 969.1,368.9 969.2,368.8 969.3,365.4 969.3,364.2 969.4,360.2 969.5,359.3 969.6,356.8 969.6,354.5 969.7,353.8 969.8,350.9 969.9,348.1 970.0,348.7 970.0,345.1 970.1,342.2 970.2,339.7 970.3,339.6 970.4,337.1 970.4,333.6 970.5,332.9 970.6,331.7 970.7,329.1 970.8,326.1 970.8,324.9 970.9,323.2 971.0,321.3 971.1,317.8 971.2,317.7 971.2,316.1 971.3,313.5 971.4,311.8 971.5,308.3 971.5,307.9 971.6,303.7 971.6,301.8 971.7,300.9 971.7,299.8 971.8,295.3 971.8,293.7 971.9,291.1 971.9,290.3 972.0,287.4 972.0,285.5 972.1,285.1 972.1,282.6 972.2,281.7 972.2,278.0 972.3,276.8 972.3,272.8 972.4,273.6 972.4,269.4 972.5,268.1 972.5,266.2 972.6,265.5 972.6,262.1 972.7,261.6 972.7,258.4 972.8,255.2 972.8,255.0 972.9,251.1 972.9,251.5 973.0,247.8 973.0,245.1 973.1,245.3 973.1,241.4 973.2,239.6 973.2,237.4 973.3,236.3 973.3,232.4 973.4,231.4 973.4,228.7 973.5,228.7 973.5,224.2 973.6,224.0 973.6,220.9 973.7,219.5 973.7,217.8 973.8,216.2 973.8,212.5 973.9,210.7 973.9,208.4 974.0,208.9 974.0,204.4 974.1,202.3 974.1,201.5 974.2,199.6 974.2,198.5 974.3,194.0 974.3,192.5 974.4,190.3 974.4,189.5 974.5,187.1 974.5,184.9 974.6,184.4 974.6,181.7 974.7,180.2 974.7,178.5 974.8,174.4 974.8,174.4 974.9,170.8 974.9,167.7 975.0,168.2 975.1,167.8 975.1,169.6 975.2,172.4 975.2,174.5 975.3,178.5 975.4,180.3 975.4,180.9 975.5,183.3 975.5,186.3 975.6,188.2 975.7,189.7 975.7,191.3 975.8,192.2 975.8,194.6 975.9,197.8 976.0,199.6 976.0,202.3 976.1,204.6 976.2,206.8 976.2,206.6 976.3,208.2 976.3,212.7 976.4,213.8 976.5,214.6 976.5,218.2 976.6,218.9 976.6,220.9 976.7,223.3 976.8,225.8 976.8,228.3 976.9,228.5 976.9,232.5 977.0,234.2 977.1,235.7 977.1,238.4 977.2,240.8 977.2,240.4 977.3,243.8 977.4,246.5 977.4,248.6 977.5,250.4 977.5,251.0 977.6,255.4 977.7,256.9 977.7,257.3 977.8,259.9 977.8,263.5 977.9,263.3 978.0,265.9 978.0,269.6 978.1,271.4 978.1,271.4 978.2,275.0 978.3,275.9 978.3,278.8 978.4,281.1 978.5,281.2 978.5,283.6 978.6,285.6 978.6,287.7 978.7,289.1 978.8,291.4 978.8,294.2 978.9,296.3 978.9,297.3 979.0,300.8 979.1,303.9 979.1,304.9 979.2,306.2 979.2,309.3 979.3,310.5 979.3,311.8 979.4,314.7 979.4,315.3 979.5,319.3 979.5,319.8 979.6,322.5 979.6,326.3 979.7,327.7 979.7,330.0 979.8,331.4 979.8,333.4 979.9,335.7 979.9,338.5 980.0,338.2 980.0,341.9 980.1,342.6 980.1,344.5 980.2,348.2 980.2,349.6 980.3,352.3 980.3,354.4 980.3,355.6 980.4,356.5 980.4,358.0 980.5,361.5 980.5,364.1 980.6,364.8 980.6,366.2 980.7,368.1 980.7,370.6 980.8,374.2 980.8,374.2 980.9,376.9 980.9,379.0 981.0,382.4 981.0,385.2 981.1,384.4 981.1,386.7 981.2,391.2 981.2,393.3 981.3,392.9 981.3,395.4 981.4,398.0 981.4,399.5 981.4,401.8 981.5,404.0 981.5,405.3 981.6,406.7 981.6,408.8 981.7,411.1 981.7,412.9 981.8,416.5 981.8,418.8 981.9,419.5 981.9,423.1 982.0,424.9 982.0,425.8 982.1,428.2 982.1,429.3 982.2,433.6 982.2,434.5 982.3,435.0 982.3,437.3 982.4,441.0 982.4,442.1 982.5,445.1 982.5,445.6 982.6,449.3 982.6,451.4 982.7,451.3 982.7,454.8 982.8,455.6 982.8,459.2 982.9,461.5 982.9,463.5 983.0,463.8 983.0,465.4 983.1,469.1 983.1,470.9 983.2,471.6 983.2,473.8 983.3,477.0 983.3,477.6 983.4,481.2 983.4,482.0 983.5,484.1 983.5,486.6 983.6,488.9 983.6,491.5 983.7,491.5 983.7,495.6 983.8,496.1 983.8,498.3 983.9,501.4 983.9,503.5 984.0,505.3 984.0,508.2 984.0,508.1 984.0,510.5 984.1,513.5 984.1,514.4 984.1,516.1 984.1,518.3 984.1,521.9 984.2,524.1 984.2,525.8 984.2,528.6 984.2,530.1 984.2,530.7 984.2,532.7 984.3,535.9 984.3,535.9 984.3,539.6 984.3,540.1 984.3,542.0 984.4,545.4 984.4,546.3 984.4,550.7 984.4,552.5 984.4,553.3 984.5,554.5 984.5,556.3 984.5,559.5 984.5,561.6 984.5,563.1 984.5,566.2 984.6,567.7 984.6,570.4 984.6,570.4 984.6,572.3 984.6,575.3 984.7,577.6 984.7,578.9 984.7,582.2 984.7,582.9 984.7,585.2 984.8,587.7 984.8,590.4 984.8,592.6 984.8,593.4 984.8,595.7 984.8,599.1 984.9,601.2 984.9,602.2 984.9,602.7 984.9,605.8 984.9,608.4 985.0,609.3 985.0,610.6 985.0,615.4 985.0,617.2 985.1,616.9 985.1,620.0 985.1,622.4 985.1,623.5 985.2,624.8 985.2,628.9 985.2,631.0 985.2,632.0 985.3,632.9 985.3,635.9 985.3,637.0 985.3,641.6 985.4,640.9 985.4,643.6 985.4,647.1 985.4,647.2 985.5,649.2 985.5,651.1 985.5,653.4 985.6,656.5 985.6,659.4 985.6,659.4 985.6,661.5 985.7,665.3 985.7,666.3 985.7,668.0 985.7,669.4 985.8,671.8 985.8,676.0 985.8,675.4 985.8,677.9 985.9,681.3 985.9,683.8 985.9,685.9 986.0,686.6 986.0,690.1 986.0,691.0 986.0,692.1 986.1,694.7 986.1,697.4 986.1,699.5 986.1,699.7 986.2,701.9 986.2,706.2 986.2,705.7 986.2,709.8 986.3,710.4 986.3,712.2 986.3,714.2 986.3,716.9 986.4,720.5 986.4,719.9 986.5,724.1 986.5,724.5 986.6,726.1 986.6,729.9 986.7,730.7 986.7,732.2 986.8,735.0 986.8,738.2 986.9,740.4 986.9,741.5 987.0,741.9 987.1,746.2 987.1,747.7 987.2,750.6 987.2,752.8 987.3,753.0 987.3,756.6 987.4,758.5 987.4,758.9 987.5,761.2 987.5,763.3 987.6,765.2 987.7,767.3 987.7,768.6 987.8,770.9 987.8,775.0 987.9,775.5 987.9,778.3 988.0,781.0 988.0,782.7 988.1,783.2 988.2,787.2 988.2,788.9 988.3,791.5 988.3,792.7 988.4,794.9 988.4,797.1 988.5,797.4 988.5,800.6 988.6,801.8 988.6,805.3 988.7,805.2 988.8,808.4 988.8,809.8 988.9,813.3 988.9,813.9 989.0,817.5 989.0,819.5 989.1,821.6 989.1,821.4 989.2,825.9 989.2,827.3 989.3,829.1 989.4,831.1 989.5,831.3 989.5,835.8 989.6,836.9 989.7,838.7 989.8,840.4 989.9,843.7 989.9,845.8 990.0,848.1 990.1,848.1 990.2,850.6 990.3,852.3 990.3,853.9 990.4,856.6 990.5,857.8 990.6,862.1 990.7,862.5 990.7,864.0 990.8,866.1 990.9,870.1 991.0,870.5 991.1,873.4 991.1,875.2 991.2,878.5 991.3,881.0 991.4,881.1 991.5,884.1 991.5,886.9 991.6,887.7 991.7,891.0 991.8,892.5 991.9,893.3 991.9,897.0 992.0,898.2 992.1,898.8 992.2,902.3 992.4,905.1 992.5,906.2 992.7,908.2 992.8,910.1 992.9,913.5 993.1,914.9 993.2,915.6 993.3,918.1 993.5,920.2 993.6,924.1 993.8,925.3 993.9,925.7 994.0,930.1 994.2,929.5 994.3,933.3 994.5,934.8 994.6,937.8 994.7,939.0 994.9,940.0 995.0,943.4 995.1,946.3 995.3,948.3 995.4,949.0 995.6,950.7 995.7,954.3 996.1,956.5 996.6,956.8 997.0,960.8 997.4,963.2 997.9,963.5 998.3,965.4 998.8,968.4 999.2,971.1 999.6,971.0 1000.1,973.3 1000.5,975.4 1000.9,978.6 1001.4,979.0 1001.8,982.1 1001.9,984.1 1002.1,986.6 1002.2,987.1 1002.3,991.6 1002.5,993.8 1002.6,994.6 1002.8,997.3 1002.9,997.6 1003.0,1001.8 1003.2,1002.8 1003.3,1005.5 1003.5,1007.9 1003.6,1008.4 1003.7,1012.1 1003.9,1012.1 1004.0,1013.6 1005.2,1016.6 1006.4,1019.4 1007.7,1021.1 1008.9,1022.9 1010.1,1023.1 1011.3,1026.0 1012.6,1026.5 1013.8,1026.9 1015.0,1030.0 1017.2,1030.1 1019.5,1028.5 1021.8,1028.6 1024.0,1027.1 1026.2,1026.8 1028.5,1026.8 1030.2,1028.4 1032.0,1029.6 1033.8,1029.8 1035.5,1030.9 1037.2,1033.2 1039.0,1035.7 1041.0,1036.7 1042.9,1036.1 1044.9,1037.1 1046.9,1038.9 1048.9,1038.8 1050.8,1041.1 1052.8,1042.9 1054.8,1039.4 1056.8,1039.1 1058.9,1038.1 1060.9,1036.7 1062.0,1034.9 1063.0,1033.2 1064.1,1030.2 1065.2,1030.1 1066.2,1028.7 1067.3,1024.3 1068.4,1025.3 1069.5,1022.1 1070.5,1019.3 1071.6,1017.5 1072.4,1021.6 1073.1,1023.2 1073.9,1023.5 1074.7,1026.4 1075.5,1028.9 1076.2,1031.9 1077.0,1031.8 1077.8,1035.0 1078.5,1035.4 1079.3,1037.2 1080.1,1039.0 1080.9,1041.7 1081.6,1044.2 1082.4,1045.2 1083.8,1043.3 1085.1,1041.9 1086.5,1040.0 1087.8,1038.8 1089.2,1037.6 1090.5,1036.7 1091.9,1034.2 1093.2,1033.5 1094.0,1031.5 1094.8,1031.3 1095.6,1027.9 1096.4,1027.4 1097.2,1024.1 1098.1,1021.4 1098.9,1020.7 1099.7,1017.5 1100.5,1015.7 1101.3,1013.5 1101.6,1013.4 1101.8,1012.1 1102.1,1008.4 1102.3,1006.3 1102.6,1004.4 1102.9,1002.2 1103.1,1001.2 1103.4,998.3 1103.7,995.5 1103.9,995.6 1104.2,992.7 1104.4,989.0 1104.7,989.5 1105.0,987.1 1105.2,984.0 1105.5,982.8 1105.7,981.6 1106.0,978.0 1106.3,976.1 1106.5,973.7 1106.8,972.4 1107.0,970.7 1107.3,968.9 1107.6,967.5 1107.8,963.1 1108.1,961.7 1108.4,961.2 1108.6,959.0 1108.9,956.3 1109.1,954.6 1109.4,951.5 1109.6,955.3 1109.8,956.1 1110.0,957.7 1110.2,959.0 1110.4,960.8 1110.6,965.2 1110.8,966.9 1110.9,966.6 1111.1,969.5 1111.3,971.9 1111.5,974.0 1111.7,975.6 1111.9,979.2 1112.1,979.5 1112.3,982.1 1112.5,985.3 1112.7,986.4 1112.9,987.9 1113.1,989.5 1113.3,991.7 1113.5,994.3 1113.6,996.9 1113.8,997.3 1114.0,999.6 1114.2,1001.7 1114.4,1003.6 1114.6,1007.2 1114.8,1008.1 1115.0,1009.3 1115.2,1011.5 1115.4,1015.0 1115.6,1015.0 1115.8,1018.6 1116.0,1018.6 1116.2,1021.1 1116.3,1022.7 1116.5,1026.9 1116.7,1026.9 1116.9,1029.2 1117.1,1030.7 1117.3,1033.3 1117.5,1036.7 1118.4,1038.5 1119.3,1040.9 1120.2,1042.8 1121.1,1043.5 1122.0,1046.4 1122.9,1045.8 1124.1,1046.5 1125.3,1043.2 1126.5,1040.7 1127.7,1040.6 1128.8,1039.2 1130.0,1036.0 1131.2,1033.3 1132.4,1033.9 1133.6,1031.8 1134.0,1029.3 1134.5,1028.4 1134.9,1023.6 1135.3,1021.7 1135.7,1019.9 1136.2,1017.6 1136.6,1017.6 1137.0,1015.4 1137.4,1011.8 1137.9,1010.0 1138.3,1008.0 1138.7,1007.3 1139.1,1005.5 1139.6,1004.4 1140.0,1000.6 1140.4,1000.4 1140.8,996.8 1141.3,994.7 1141.7,992.3 1141.9,990.2 1142.2,990.4 1142.4,988.4 1142.6,985.5 1142.9,981.9 1143.1,979.9 1143.3,977.8 1143.6,976.4 1143.8,975.6 1144.0,971.5 1144.3,970.9 1144.5,969.3 1144.7,965.4 1145.0,964.6 1145.2,963.6 1145.5,961.0 1145.7,958.6 1145.9,957.8 1146.2,955.0 1146.4,952.2 1146.6,950.3 1146.9,950.0 1147.1,947.7 1147.3,945.8 1147.6,942.8 1147.8,939.5 1148.0,937.6 1148.3,936.2 1148.5,935.1 1148.8,935.1 1149.0,939.5 1149.3,941.5 1149.5,942.7 1149.8,943.3 1150.0,947.7 1150.3,948.6 1150.6,951.4 1150.8,953.2 1151.1,955.7 1151.3,956.8 1151.6,960.5 1151.8,962.5 1152.1,964.5 1152.4,965.6 1152.6,966.7 1152.9,969.0 1153.1,970.7 1153.4,974.7 1153.7,976.4 1153.9,978.4 1154.2,980.6 1154.4,983.1 1154.7,984.3 1154.9,985.2 1155.2,988.6 1155.4,989.1 1155.7,992.1 1155.9,992.8 1156.1,996.9 1156.3,997.8 1156.5,999.2 1156.8,1003.1 1157.0,1002.6 1157.2,1007.2 1157.5,1008.7 1157.7,1008.8 1157.9,1012.7 1158.1,1014.1 1158.3,1017.1 1158.6,1018.2 1158.8,1019.7 1159.0,1023.2 1159.2,1022.7 1159.5,1026.8 1159.7,1026.8 1159.9,1029.3 1160.1,1030.8 1160.4,1035.1 1160.6,1035.8 1161.8,1038.5 1163.0,1038.9 1164.2,1042.2 1165.4,1043.8 1166.6,1044.0 1167.8,1047.0 1169.0,1049.5 1170.2,1049.8 1171.4,1053.0 1173.4,1051.8 1175.5,1052.1 1177.5,1053.8 1179.5,1053.8 1180.6,1052.2 1181.8,1048.7 1182.9,1047.3 1184.0,1046.3 1185.1,1044.3 1186.2,1041.6 1187.4,1041.0 1188.5,1037.9 1189.6,1037.7 1190.8,1034.5 1191.9,1031.6 1193.0,1031.7 1195.1,1029.9 1197.3,1031.5 1199.4,1029.7 1201.6,1032.5 1203.7,1031.1 1204.8,1029.9 1206.0,1026.3 1207.1,1026.0 1208.2,1023.4 1209.3,1021.2 1210.5,1021.1 1211.6,1017.0 1212.7,1016.5 1213.8,1013.6 1215.0,1014.1 1216.1,1012.4 1217.2,1008.0 1217.7,1007.3 1218.2,1005.4 1218.7,1004.2 1219.1,1002.3 1219.6,999.1 1220.1,999.0 1220.6,994.8 1221.1,992.7 1221.6,992.7 1222.1,988.7 1222.5,986.9 1223.0,985.9 1223.5,983.5 1224.0,981.0 1224.4,985.3 1224.8,986.0 1225.3,989.0 1225.7,989.5 1226.1,993.5 1226.5,993.5 1226.9,997.6 1227.3,998.7 1227.8,1001.9 1228.2,1003.3 1228.6,1004.9 1229.0,1006.7 1229.4,1009.7 1229.9,1010.5 1230.3,1011.5 1230.7,1016.0 1231.1,1017.8 1231.5,1019.5 1231.9,1021.7 1232.3,1022.3 1232.7,1025.0 1233.1,1028.2 1233.6,1030.7 1234.0,1032.6 1234.4,1032.4 1234.8,1036.0 1235.2,1037.7 1235.6,1039.3 1236.0,1040.7 1237.9,1039.8 1239.9,1040.0 1241.8,1039.2 1243.7,1037.7 1245.6,1037.2 1247.6,1037.0 1249.5,1036.8 1250.7,1038.0 1252.0,1038.4 1253.2,1042.3 1254.4,1042.5 1255.6,1046.0 1256.9,1047.8 1258.1,1047.0 1259.3,1050.1 1260.5,1052.9 1261.8,1052.9 1263.0,1055.1 1265.0,1053.8 1267.0,1052.3 1269.0,1052.2 1271.0,1051.3 1273.0,1051.1 1275.0,1051.5 1277.0,1050.6 1279.0,1051.1 1280.5,1048.8 1282.0,1046.3 1283.6,1046.5 1285.1,1044.1 1286.6,1042.3 1288.1,1041.7 1289.7,1039.6 1291.2,1037.1 1292.7,1036.3 1293.7,1037.1 1294.7,1040.9 1295.7,1040.4 1296.8,1044.3 1297.8,1043.3 1298.8,1044.9 1299.8,1048.2 1300.8,1048.9 1301.5,1047.9 1302.3,1044.7 1303.0,1044.9 1303.8,1042.4 1304.5,1040.5 1305.2,1039.3 1306.0,1037.5 1306.7,1034.6 1307.5,1032.8 1308.2,1028.7 1308.9,1026.8 1309.7,1026.0 1310.4,1025.7 1311.2,1021.7 1311.9,1020.5 1312.6,1016.9 1313.4,1016.1 1314.1,1015.6 1314.9,1012.7 1315.6,1011.5 1316.4,1010.9 1317.3,1013.4 1318.1,1015.2 1318.9,1019.0 1319.8,1018.7 1320.6,1023.0 1321.5,1022.9 1322.3,1026.6 1322.5,1027.6 1322.8,1029.0 1323.0,1033.0 1323.2,1033.3 1323.4,1036.2 1323.7,1036.4 1323.9,1040.7 1324.1,1043.1 1324.3,1042.6 1324.5,1046.5 1324.8,1047.1 1325.0,1048.7 1327.1,1050.0 1329.2,1051.5 1331.3,1053.0 1333.4,1053.7 1335.5,1054.3 1337.6,1053.8 1339.7,1054.5 1341.8,1053.6 1343.9,1055.9 1345.9,1055.0 1347.9,1054.0 1349.9,1055.2 1352.0,1052.9 1354.0,1052.1 1356.0,1051.8 1358.0,1051.3 1360.0,1052.3 1362.2,1053.2 1364.3,1051.5 1366.5,1052.8 1368.6,1053.3 1370.8,1053.6 1373.0,1053.4 1375.1,1054.1 1377.3,1052.8 1379.4,1053.2 1381.6,1054.6 1383.1,1052.5 1384.6,1052.6 1386.1,1049.5 1387.6,1049.8 1389.0,1046.5 1390.5,1044.6 1392.0,1044.2 1393.5,1042.5 1395.0,1040.8 1396.1,1040.3 1397.1,1037.0 1398.2,1036.5 1399.2,1035.3 1400.3,1032.4 1401.3,1030.8 1402.4,1030.3 1403.4,1027.6 1404.5,1024.5 1405.7,1025.8 1406.9,1027.5 1408.1,1029.9 1409.2,1030.8 1410.4,1034.1 1411.6,1035.1 1412.8,1036.4 1414.0,1038.6 1416.7,1041.3 1419.3,1040.5 1420.8,1041.8 1422.4,1043.8 1423.9,1045.4 1425.4,1048.6 1426.9,1049.6 1428.5,1050.3 1430.0,1051.0 1432.0,1050.9 1434.0,1051.3 1436.1,1053.7 1438.1,1053.4 1440.1,1052.1 1442.2,1053.8 1444.2,1052.3 1446.2,1053.9 1448.2,1053.6 1450.2,1053.1 1452.3,1055.3 1454.3,1055.5 1456.3,1054.1 1458.2,1052.3 1460.2,1053.1 1462.2,1051.7 1464.2,1051.6 1466.1,1049.2 1468.1,1050.9 1470.1,1047.4 1472.1,1047.3 1474.0,1047.1 1476.0,1045.8 1477.5,1043.9 1479.0,1044.2 1480.5,1043.6 1482.0,1040.1 1483.4,1038.4 1484.9,1038.1 1486.4,1035.2 1487.9,1034.2 1489.4,1033.6 1490.4,1030.8 1491.4,1028.0 1492.4,1025.7 1493.5,1025.1 1494.5,1024.5 1495.5,1022.3 1496.5,1017.8 1497.5,1017.0 1499.3,1015.2 1501.1,1012.5 1502.9,1012.1 1503.7,1013.5 1504.4,1016.4 1505.2,1016.7 1505.9,1020.6 1506.7,1022.1 1507.4,1023.0 1508.2,1023.9 1510.1,1024.2 1512.1,1022.4 1514.0,1023.3 1515.9,1022.6 1517.8,1021.4 1519.8,1021.9 1521.7,1018.3 1523.0,1018.6 1524.4,1017.0 1525.8,1013.2 1527.1,1012.0 1528.5,1009.4 1529.8,1009.2 1530.3,1007.6 1530.9,1004.3 1531.4,1003.3 1532.0,1000.2 1532.5,999.1 1533.0,995.7 1533.6,995.7 1534.1,992.0 1534.7,988.6 1535.2,986.8 1535.5,990.7 1535.8,993.2 1536.1,994.6 1536.3,995.3 1536.6,999.5 1536.9,1001.1 1537.2,1001.3 1537.5,1004.2 1537.8,1007.2 1538.1,1007.2 1538.3,1009.4 1538.6,1012.4 1538.9,1016.1 1539.2,1018.5 1541.6,1017.1 1544.0,1019.6 1546.3,1019.9 1548.7,1020.8 1550.8,1020.0 1552.9,1021.1 1555.0,1020.1 1557.1,1021.0 1559.1,1019.9 1561.2,1018.8 1563.3,1019.8 1565.4,1019.6 1567.5,1019.2 1569.5,1020.0 1571.5,1021.1 1573.6,1022.0 1575.6,1021.5 1577.6,1022.3 1579.7,1023.7 1581.7,1024.3 1583.7,1024.8 1585.6,1026.6 1587.5,1026.3 1589.4,1028.4 1591.3,1028.7 1593.2,1031.3 1595.0,1032.2 1596.9,1033.5 1598.8,1033.9 1600.7,1034.1 1602.6,1037.3 1604.5,1036.8 1606.4,1037.2 1608.4,1037.7 1610.3,1038.8 1612.2,1040.4 1614.1,1041.5 1616.0,1041.3 1618.0,1042.8 1619.9,1042.0 1621.8,1043.5 1623.7,1044.0 1625.7,1044.6 1627.6,1045.5 1629.5,1047.5 1631.6,1047.8 1633.7,1046.6 1635.7,1047.1 1637.8,1049.2 1639.9,1049.2 1642.0,1049.7 1644.0,1050.0 1646.1,1050.5 1648.2,1049.7 1650.3,1049.5 1652.3,1050.8 1654.4,1050.2 1656.5,1053.4 1658.6,1052.1 1660.6,1052.5 1662.7,1053.4 1664.8,1052.9 1666.8,1051.2 1668.9,1051.5 1671.0,1050.8 1673.1,1052.9 1675.1,1052.7 1677.2,1052.0 1679.3,1051.6 1681.3,1051.3 1683.4,1052.0 1684.9,1051.1 1686.4,1050.2 1687.9,1048.6 1689.4,1047.1 1691.0,1044.4 1692.5,1042.8 1694.0,1041.0 1695.5,1041.5 1697.0,1037.7 1698.5,1035.9 1700.1,1034.6 1701.6,1034.9 1703.1,1033.0 1704.6,1029.8 1706.2,1029.7 1707.7,1028.2 1708.1,1028.8 1708.5,1030.2 1708.9,1033.9 1709.2,1034.8 1709.6,1036.1 1710.0,1040.5 1710.4,1041.1 1712.5,1042.1 1714.6,1043.7 1716.8,1043.8 1718.9,1044.2 1721.0,1046.4 1723.0,1046.7 1725.1,1045.9 1727.2,1047.3 1729.2,1048.8 1731.2,1047.9 1733.3,1049.3 1735.4,1049.4 1737.4,1048.5 1739.4,1047.1 1741.4,1048.1 1743.4,1047.1 1745.3,1045.2 1747.3,1044.1 1749.3,1045.1 1751.3,1044.4 1753.3,1041.5 1755.2,1043.3 1757.2,1043.9 1759.1,1043.8 1761.1,1043.7 1763.0,1045.2 1765.0,1046.9 1767.0,1047.5 1768.9,1047.9 1770.8,1047.4 1772.8,1048.4 1774.8,1049.4 1776.7,1050.4 1778.7,1050.9 1780.6,1053.2 1782.5,1051.6 1784.5,1054.9 1786.5,1052.5 1788.5,1054.3 1790.6,1052.3 1792.6,1053.2 1794.6,1052.5 1796.6,1051.4 1798.7,1053.5 1800.7,1053.5 1802.7,1051.7 1804.7,1053.1 1806.8,1052.1 1808.8,1053.6 1810.8,1050.6 1812.8,1051.5 1814.8,1050.9 1816.9,1052.0 1818.9,1052.4 1820.9,1052.5 1822.9,1051.5 1825.0,1050.9 1827.0,1052.0 1829.0,1049.8 1831.0,1049.8 1832.9,1050.8 1834.9,1049.4 1836.9,1050.5 1838.9,1047.4 1840.8,1048.0 1842.8,1046.8 1844.8,1045.6 1846.8,1045.4 1848.7,1044.9 1850.7,1045.3 1852.7,1045.0 1854.6,1044.7 1856.6,1043.6 1858.6,1044.4 1860.6,1043.3 1862.5,1044.2 1864.5,1041.3 1866.1,1040.9 1867.7,1039.4 1869.4,1037.7 1871.0,1037.7 1872.6,1034.3 1874.2,1034.9 1875.8,1031.9 1877.4,1030.5 1879.1,1029.9 1880.7,1028.3 1882.3,1026.1 1884.0,1024.4 1885.8,1025.9 1887.5,1023.1 1889.2,1021.2 1891.0,1021.8 1892.7,1020.3 1894.4,1018.6 1896.2,1017.6 1897.9,1018.0 1898.9,1018.4 1899.9,1020.5 1900.9,1024.0 1901.9,1024.1 1902.9,1026.2 1904.0,1027.3 1905.0,1030.7 1906.0,1032.6 1907.0,1033.9 1908.0,1035.6 1909.0,1037.0 1910.3,1040.6 1911.6,1041.4 1912.9,1044.5 1914.1,1045.0 1915.4,1047.9 1916.7,1047.7 1918.0,1050.2 1920.1,1052.5 1922.2,1051.8 1924.3,1052.0 1926.4,1051.6 1928.4,1051.6 1930.5,1050.9 1932.6,1051.0 1934.7,1052.6 1936.8,1052.9 1938.9,1051.7 1941.0,1053.0 1943.1,1051.6 1945.1,1053.2 1947.2,1052.0 1949.3,1053.1 1951.4,1052.7 1953.5,1053.6 1955.5,1051.3 1957.5,1051.4 1959.4,1050.8 1961.4,1048.3 1963.4,1047.9 1965.4,1048.0 1967.3,1046.6 1969.3,1045.8 1971.3,1045.3 1972.5,1046.3 1973.8,1046.8 1975.0,1049.1 1976.3,1051.8 1977.5,1052.6 1978.8,1054.8 1980.0,1055.2 1981.9,1054.7 1983.8,1055.4 1985.7,1054.2 1987.7,1052.9 1989.6,1050.5 1991.5,1051.2 1993.4,1048.6 1995.3,1050.6 1997.2,1049.9 1999.1,1048.4 2001.1,1046.2 2003.0,1047.1 2004.9,1044.3 2006.8,1045.5 2008.8,1044.6 2010.8,1043.0 2012.9,1045.7 2014.9,1044.3 2016.9,1045.5 2018.9,1045.1 2021.0,1044.6 2023.0,1045.6 2025.0,1043.6 2027.0,1045.7 2029.1,1044.0 2031.1,1043.1 2033.1,1044.0 2035.1,1043.2 2037.1,1043.2 2039.2,1044.9 2041.2,1043.4 2043.2,1043.5 2045.2,1043.9 2047.3,1043.8 2049.3,1045.8 2051.3,1045.7 2053.2,1044.8 2055.2,1044.3 2057.2,1041.8 2059.1,1042.0 2061.1,1039.7 2063.0,1040.8 2065.0,1039.6 2066.9,1038.5 2068.1,1038.7 2069.4,1040.0 2070.6,1044.3 2071.8,1044.9 2073.1,1046.8 2074.3,1049.3 2075.5,1048.9 2076.8,1052.3 2078.0,1053.3 2079.9,1053.4 2081.9,1051.6 2083.8,1050.0 2085.8,1051.4 2087.7,1048.6 2089.6,1049.1 2091.6,1048.5 2093.5,1045.9 2095.4,1046.4 2097.4,1044.7 2099.3,1043.4 2101.2,1042.5 2103.2,1043.9 2105.1,1041.3 2107.1,1040.9 2109.0,1040.0 2110.9,1039.3 2112.7,1042.3 2114.6,1043.0 2116.5,1044.1 2118.3,1043.3 2120.2,1043.6 2122.1,1044.8 2123.9,1046.7 2125.8,1047.2 2127.7,1047.2 2129.5,1048.3 2131.4,1048.0 2133.5,1050.2 2135.5,1048.7 2137.6,1048.8 2139.6,1049.5 2141.7,1047.7 2143.7,1049.1 2145.8,1047.9 2147.8,1049.2 2149.8,1047.0 2151.9,1047.4 2153.9,1048.4 2156.0,1047.9 2158.1,1047.5 2160.1,1048.0 2162.2,1046.8 2164.2,1047.4 2166.2,1046.0 2168.3,1048.3 2170.3,1046.6 2172.4,1048.2 2174.4,1047.3 2176.5,1047.4 2178.5,1047.3 2180.6,1045.8 2182.6,1047.6 2184.7,1046.1 2186.7,1047.9 2188.7,1047.8 2190.7,1047.5 2192.8,1048.1 2194.8,1047.0 2196.8,1047.8 2198.8,1048.8 2200.8,1046.6 2202.8,1046.4 2204.8,1047.5 2206.8,1047.9 2208.9,1046.9 2210.9,1047.2 2212.9,1049.3 2214.9,1047.9 2216.9,1047.3 2218.9,1047.5 2220.9,1048.8 2223.0,1047.8 2225.0,1048.7 2227.0,1049.0 2229.0,1048.8 2231.0,1048.6 2233.1,1049.2 2235.1,1046.3 2237.1,1048.7 2239.2,1046.1 2241.2,1045.2 2243.3,1046.9 2245.3,1045.9 2247.3,1045.4 2249.4,1044.1 2251.4,1045.3 2253.1,1045.0 2254.8,1047.4 2256.4,1047.0 2258.1,1049.2 2259.8,1050.5 2261.5,1050.8 2263.1,1052.2 2264.8,1052.1 2266.8,1053.5 2268.8,1053.4 2270.8,1051.5 2272.8,1052.4 2274.8,1052.7 2276.8,1050.5 2278.8,1052.4 2280.9,1052.2 2282.9,1049.5 2284.9,1049.8 2286.9,1049.0 2288.9,1049.2 2290.9,1048.4 2292.9,1049.3 2294.9,1048.3 2296.9,1048.2 2298.9,1048.4 2300.9,1047.8 2302.9,1048.8 2304.9,1048.3 2306.9,1046.2 2308.9,1046.3 2310.9,1045.3 2313.0,1046.0 2315.0,1045.0 2317.0,1046.5 2319.0,1046.5 2321.0,1046.8 2323.0,1044.2 2325.0,1043.4 2327.0,1045.3 2329.0,1044.7 2331.0,1046.8 2332.9,1045.7 2334.9,1045.9 2336.9,1045.7 2338.9,1048.8 2340.8,1048.0 2342.8,1048.3 2344.8,1048.8 2346.8,1050.3 2348.8,1050.9 2350.7,1050.4 2352.7,1050.0 2354.7,1051.1 2356.7,1053.1 2358.6,1052.1 2360.6,1053.4 2362.6,1053.6 2364.7,1053.1 2366.8,1053.2 2368.9,1052.0 2371.1,1052.8 2373.2,1053.5 2375.3,1050.9 2377.4,1051.6 2379.5,1052.9 2381.7,1053.0 2383.8,1049.9 2385.9,1051.6 2388.0,1051.4" fill="none" stroke="#0000ff" stroke-width="8.5" stroke-linejoin="round" stroke-linecap="round" clip-path="url(#clipA)"/>
<rect x="421.50" y="77.50" width="1969.00" height="1616.00" fill="none" stroke="#000" stroke-width="5"/>
<line x1="391.00" y1="77.50" x2="419.00" y2="77.50" stroke="#000" stroke-width="5" stroke-linecap="butt"/>
<line x1="406.00" y1="237.40" x2="419.00" y2="237.40" stroke="#000" stroke-width="5" stroke-linecap="butt"/>
<line x1="391.00" y1="397.30" x2="419.00" y2="397.30" stroke="#000" stroke-width="5" stroke-linecap="butt"/>
<line x1="406.00" y1="557.20" x2="419.00" y2="557.20" stroke="#000" stroke-width="5" stroke-linecap="butt"/>
<line x1="391.00" y1="717.10" x2="419.00" y2="717.10" stroke="#000" stroke-width="5" stroke-linecap="butt"/>
<line x1="406.00" y1="877.00" x2="419.00" y2="877.00" stroke="#000" stroke-width="5" stroke-linecap="butt"/>
<line x1="391.00" y1="1036.90" x2="419.00" y2="1036.90" stroke="#000" stroke-width="5" stroke-linecap="butt"/>
<line x1="406.00" y1="1196.80" x2="419.00" y2="1196.80" stroke="#000" stroke-width="5" stroke-linecap="butt"/>
<line x1="391.00" y1="1356.70" x2="419.00" y2="1356.70" stroke="#000" stroke-width="5" stroke-linecap="butt"/>
<line x1="406.00" y1="1516.60" x2="419.00" y2="1516.60" stroke="#000" stroke-width="5" stroke-linecap="butt"/>
<line x1="391.00" y1="1676.50" x2="419.00" y2="1676.50" stroke="#000" stroke-width="5" stroke-linecap="butt"/>
<line x1="421.50" y1="1696.00" x2="421.50" y2="1725.50" stroke="#000" stroke-width="5" stroke-linecap="butt"/>
<line x1="585.58" y1="1696.00" x2="585.58" y2="1709.00" stroke="#000" stroke-width="5" stroke-linecap="butt"/>
<line x1="749.67" y1="1696.00" x2="749.67" y2="1725.50" stroke="#000" stroke-width="5" stroke-linecap="butt"/>
<line x1="913.75" y1="1696.00" x2="913.75" y2="1709.00" stroke="#000" stroke-width="5" stroke-linecap="butt"/>
<line x1="1077.84" y1="1696.00" x2="1077.84" y2="1725.50" stroke="#000" stroke-width="5" stroke-linecap="butt"/>
<line x1="1241.92" y1="1696.00" x2="1241.92" y2="1709.00" stroke="#000" stroke-width="5" stroke-linecap="butt"/>
<line x1="1406.01" y1="1696.00" x2="1406.01" y2="1725.50" stroke="#000" stroke-width="5" stroke-linecap="butt"/>
<line x1="1570.09" y1="1696.00" x2="1570.09" y2="1709.00" stroke="#000" stroke-width="5" stroke-linecap="butt"/>
<line x1="1734.18" y1="1696.00" x2="1734.18" y2="1725.50" stroke="#000" stroke-width="5" stroke-linecap="butt"/>
<line x1="1898.26" y1="1696.00" x2="1898.26" y2="1709.00" stroke="#000" stroke-width="5" stroke-linecap="butt"/>
<line x1="2062.35" y1="1696.00" x2="2062.35" y2="1725.50" stroke="#000" stroke-width="5" stroke-linecap="butt"/>
<line x1="2226.43" y1="1696.00" x2="2226.43" y2="1709.00" stroke="#000" stroke-width="5" stroke-linecap="butt"/>
<line x1="2390.52" y1="1696.00" x2="2390.52" y2="1725.50" stroke="#000" stroke-width="5" stroke-linecap="butt"/>
<text transform="translate(145.00,106.60) scale(0.9700,1)" font-size="67.50" fill="#000">4.5 × 10</text>
<text transform="translate(364.66,77.10) scale(0.9700,1)" font-size="44.40" fill="#000">3</text>
<text transform="translate(139.94,424.50) scale(0.9700,1)" font-size="67.50" fill="#000">3.6 × 10</text>
<text transform="translate(359.59,395.00) scale(0.9700,1)" font-size="44.40" fill="#000">3</text>
<text transform="translate(147.15,738.70) scale(0.9700,1)" font-size="67.50" fill="#000">2.7 × 10</text>
<text transform="translate(366.80,709.20) scale(0.9700,1)" font-size="44.40" fill="#000">3</text>
<text transform="translate(138.26,1053.40) scale(0.9700,1)" font-size="67.50" fill="#000">1.8 × 10</text>
<text transform="translate(357.91,1023.90) scale(0.9700,1)" font-size="44.40" fill="#000">3</text>
<text transform="translate(136.41,1373.40) scale(0.9700,1)" font-size="67.50" fill="#000">9.0 × 10</text>
<text transform="translate(355.87,1343.90) scale(0.9700,1)" font-size="44.40" fill="#000">2</text>
<text transform="translate(293.51,1687.50) scale(0.9700,1)" font-size="67.50" fill="#000">0.0</text>
<text transform="translate(387.77,1799.70) scale(0.9780,1)" font-size="66.20" fill="#000">10</text>
<text transform="translate(717.17,1799.70) scale(0.9780,1)" font-size="66.20" fill="#000">20</text>
<text transform="translate(1045.48,1799.70) scale(0.9780,1)" font-size="66.20" fill="#000">30</text>
<text transform="translate(1374.43,1799.70) scale(0.9780,1)" font-size="66.20" fill="#000">40</text>
<text transform="translate(1701.74,1799.70) scale(0.9780,1)" font-size="66.20" fill="#000">50</text>
<text transform="translate(2030.10,1799.70) scale(0.9780,1)" font-size="66.20" fill="#000">60</text>
<text transform="translate(2357.53,1799.70) scale(0.9780,1)" font-size="66.20" fill="#000">70</text>
<text transform="translate(24.01,107.50) scale(1.0280,1)" font-size="79.40" fill="#000">(a)</text>
<text transform="translate(1208.80,1899.50) scale(1.0044,1)" font-size="83.00" fill="#000">2</text>
<text transform="translate(1250.50,1900.00) scale(1.0430,1)" font-size="78.50" fill="#000">θ</text>
<text transform="translate(1311.35,1899.50) scale(1.0171,1)" font-size="79.50" fill="#000">(degree)</text>
<text transform="translate(92.00,1012.97) rotate(-90) scale(1.0218,1)" font-size="80.60" fill="#000">Intensity (a.u.)</text>
<rect x="1887.5" y="77.5" width="503" height="208.7" fill="#fff" stroke="#000" stroke-width="3"/>
<line x1="1895.10" y1="115.50" x2="2009.30" y2="115.50" stroke="#0000ff" stroke-width="9" stroke-linecap="round"/>
<line x1="1895.10" y1="182.50" x2="2009.30" y2="182.50" stroke="#ff0000" stroke-width="9" stroke-linecap="round"/>
<line x1="1895.10" y1="250.30" x2="2009.30" y2="250.30" stroke="#000" stroke-width="9" stroke-linecap="round"/>
<text transform="translate(2022.23,132.80) scale(0.9610,1)" font-size="52.80" fill="#000">LiOH-Graphite</text>
<text transform="translate(2022.23,199.90) scale(0.9610,1)" font-size="52.80" fill="#000">LiOH-YP50F</text>
<text transform="translate(2022.23,267.60) scale(0.9610,1)" font-size="52.80" fill="#000">LiOH-YP80F</text>
<line x1="391.00" y1="77.50" x2="2393.00" y2="77.50" stroke="#000" stroke-width="5" stroke-linecap="butt"/>
<line x1="2390.50" y1="75.00" x2="2390.50" y2="290.00" stroke="#000" stroke-width="5" stroke-linecap="butt"/>
<text transform="translate(1756.81,458.20) scale(0.9499,1)" font-size="55.90" fill="#ff0000">Carbon (JCPDS. 50-0927)</text>
<text transform="translate(1778.59,513.50) scale(0.9499,1)" font-size="55.90" fill="#000">Li</text>
<text transform="translate(1827.18,528.00) scale(0.9499,1)" font-size="38.00" fill="#000">2</text>
<text transform="translate(1845.61,513.50) scale(0.9499,1)" font-size="55.90" fill="#000">CO</text>
<text transform="translate(1925.44,528.00) scale(0.9499,1)" font-size="38.00" fill="#000">3</text>
<text transform="translate(1953.56,513.50) scale(0.9539,1)" font-size="55.90" fill="#000">(JCPDS.22-1141)</text>
<text transform="translate(1833.59,570.80) scale(0.9499,1)" font-size="55.90" fill="#0000ff">Li</text>
<text transform="translate(1882.18,585.30) scale(0.9499,1)" font-size="38.00" fill="#0000ff">2</text>
<text transform="translate(1900.61,570.80) scale(0.9499,1)" font-size="55.90" fill="#0000ff">O</text>
<text transform="translate(1952.36,570.80) scale(0.9515,1)" font-size="55.90" fill="#0000ff">(JCPDS.09-0355)</text>
<text transform="translate(1896.90,627.30) scale(0.9446,1)" font-size="55.90" fill="#ff8000">Li (JCPDS.15-0401)</text>
<text transform="translate(1855.90,681.60) scale(0.9468,1)" font-size="55.90" fill="#008000">LiC (JCPDS.14-0649)</text>
<text transform="translate(907.04,144.80) scale(1.3932,1)" font-size="46.00" fill="#ff0000">θ</text>
<text transform="translate(940.10,144.80) scale(0.9910,1)" font-size="53.90" fill="#008000">,(211)</text>
<text transform="translate(734.62,885.50) scale(0.9775,1)" font-size="67.00" fill="#000">(110)</text>
<text transform="translate(993.72,834.60) scale(0.9796,1)" font-size="67.00" fill="#000">(111)</text>
<text transform="translate(1104.64,738.20) scale(0.9717,1)" font-size="67.00" fill="#000">(202)</text>
<text transform="translate(1210.81,822.00) scale(0.9804,1)" font-size="67.00" fill="#000">(002)</text>
<text transform="translate(1183.81,955.60) scale(0.9818,1)" font-size="67.00" fill="#000">(112)</text>
<text transform="translate(1339.43,1007.90) scale(0.9746,1)" font-size="67.00" fill="#0000ff">(200)</text>
<text transform="translate(1372.82,862.00) scale(0.9789,1)" font-size="67.00" fill="#000">(221)</text>
<text transform="translate(1559.43,811.30) scale(0.9746,1)" font-size="67.00" fill="#000">(220)</text>
<text transform="translate(1650.25,1001.00) scale(0.9689,1)" font-size="67.00" fill="#0000ff">(211)</text>
<text transform="translate(1834.72,992.60) scale(0.9796,1)" font-size="67.00" fill="#008000">(402)</text>
<text transform="translate(711.31,1436.80) scale(0.9825,1)" font-size="67.00" fill="#000">(110)</text>
<text transform="translate(935.63,1415.60) scale(0.9732,1)" font-size="67.00" fill="#000">(202)</text>
<text transform="translate(1082.54,1409.10) scale(0.9710,1)" font-size="67.00" fill="#000">(002)</text>
<text transform="translate(885.82,1513.30) scale(0.9796,1)" font-size="67.00" fill="#000">(111)</text>
<text transform="translate(818.42,1597.50) scale(0.9796,1)" font-size="67.00" fill="#0000ff">(002)</text>
<text transform="translate(1156.23,1495.60) scale(0.9739,1)" font-size="67.00" fill="#000">(112)</text>
<text transform="translate(1303.32,1416.00) scale(0.9796,1)" font-size="67.00" fill="#ff8000">(110)</text>
<text transform="translate(1481.14,1414.90) scale(0.9717,1)" font-size="67.00" fill="#000">(311)</text>
<text transform="translate(1410.92,1535.90) scale(0.9782,1)" font-size="67.00" fill="#0000ff">(200)</text>
<text transform="translate(1451.11,1621.50) scale(0.9825,1)" font-size="67.00" fill="#000">(220)</text>
<text transform="translate(1632.13,1603.00) scale(0.9746,1)" font-size="67.00" fill="#0000ff">(211)</text>
<text transform="translate(1788.72,1513.00) scale(0.9775,1)" font-size="67.00" fill="#008000">(424)</text>
<text transform="translate(1923.66,1427.50) scale(0.9646,1)" font-size="67.00" fill="#008000">(430)</text>
<text transform="translate(2119.96,1488.00) scale(0.9638,1)" font-size="67.00" fill="#000">(204)</text>
<text transform="translate(2222.62,1623.90) scale(0.9775,1)" font-size="67.00" fill="#008000">(434)</text>
<line x1="1070.90" y1="996.70" x2="1048.11" y2="889.43" stroke="#000" stroke-width="4.5"/>
<polygon points="1039.80,850.30 1059.78,888.99 1037.28,893.77" fill="#000"/>
<line x1="1109.10" y1="935.20" x2="1146.66" y2="787.17" stroke="#000" stroke-width="4.5"/>
<polygon points="1156.50,748.40 1157.32,791.94 1135.02,786.28" fill="#000"/>
<line x1="1148.80" y1="916.80" x2="1183.31" y2="875.34" stroke="#000" stroke-width="4.5"/>
<polygon points="1208.90,844.60 1190.87,884.24 1173.19,869.52" fill="#000"/>
<line x1="1494.80" y1="998.20" x2="1466.81" y2="916.16" stroke="#000" stroke-width="4.5"/>
<polygon points="1453.90,878.30 1478.34,914.34 1456.58,921.76" fill="#000"/>
<line x1="1531.20" y1="976.60" x2="1591.41" y2="876.30" stroke="#000" stroke-width="4.5"/>
<polygon points="1612.00,842.00 1600.24,883.93 1580.52,872.09" fill="#000"/>
<line x1="1101.00" y1="1484.70" x2="1061.66" y2="1458.17" stroke="#000" stroke-width="3.8"/>
<polygon points="1028.50,1435.80 1069.75,1449.75 1056.89,1468.82" fill="#000"/>
<line x1="1058.80" y1="1604.30" x2="1019.49" y2="1568.81" stroke="#000" stroke-width="5.5"/>
<polygon points="989.80,1542.00 1028.68,1561.61 1013.27,1578.68" fill="#000"/>
<line x1="1212.20" y1="1599.00" x2="1214.52" y2="1557.44" stroke="#000" stroke-width="3.2"/>
<polygon points="1216.70,1518.50 1224.90,1560.02 1203.93,1558.85" fill="#000"/>
<line x1="1277.80" y1="1614.60" x2="1346.08" y2="1469.96" stroke="#ff8000" stroke-width="4.5"/>
<polygon points="1362.30,1435.60 1355.17,1476.47 1335.28,1467.08" fill="#ff8000"/>
<line x1="1304.50" y1="1577.90" x2="1473.73" y2="1443.62" stroke="#000" stroke-width="3.2"/>
<polygon points="1503.50,1420.00 1478.69,1453.09 1465.64,1436.64" fill="#000"/>
<line x1="1397.90" y1="1623.50" x2="1413.48" y2="1593.19" stroke="#0000ff" stroke-width="5"/>
<polygon points="1431.30,1558.50 1422.12,1599.88 1403.00,1590.05" fill="#0000ff"/>
<line x1="1962.40" y1="1651.80" x2="1908.25" y2="1558.31" stroke="#008000" stroke-width="4.5"/>
<polygon points="1888.20,1523.70 1919.20,1554.28 1899.30,1565.81" fill="#008000"/>
<line x1="1996.50" y1="1635.10" x2="1996.50" y2="1483.50" stroke="#008000" stroke-width="4.5"/>
<polygon points="1996.50,1442.50 2007.50,1485.50 1985.50,1485.50" fill="#008000"/>
<line x1="2059.70" y1="1639.00" x2="2113.94" y2="1548.51" stroke="#000" stroke-width="4.5"/>
<polygon points="2134.50,1514.20 2122.77,1556.14 2103.04,1544.31" fill="#000"/>
<line x1="2109.70" y1="1651.80" x2="2178.00" y2="1633.46" stroke="#008080" stroke-width="4.5"/>
<polygon points="2214.70,1623.60 2178.99,1644.84 2173.15,1623.11" fill="#008080"/>
<polyline points="501.5,2633.3 501.8,2632.9 502.0,2632.8 502.2,2636.1 502.5,2640.9 502.8,2643.1 503.0,2641.8 503.2,2646.8 503.5,2649.0 503.6,2651.1 503.8,2648.9 503.9,2653.7 504.1,2655.0 504.2,2658.8 504.4,2659.1 504.5,2659.8 504.7,2665.4 504.8,2664.9 505.0,2670.2 505.1,2669.1 505.2,2672.7 505.4,2676.5 505.5,2673.9 505.7,2680.0 505.8,2677.7 506.0,2685.4 506.1,2681.4 506.3,2688.1 506.4,2687.8 506.5,2688.6 506.7,2692.0 506.8,2694.8 507.0,2696.2 507.1,2696.3 507.3,2701.0 507.4,2701.6 507.6,2708.0 507.7,2706.2 507.9,2708.5 508.0,2709.2 508.2,2716.2 508.4,2714.0 508.6,2718.2 508.8,2721.5 509.0,2720.7 509.2,2725.1 509.4,2724.1 509.6,2725.0 509.8,2726.6 510.0,2731.4 510.2,2736.3 510.5,2733.9 510.7,2737.6 510.9,2741.8 511.1,2740.6 511.3,2741.9 511.5,2746.4 511.7,2747.8 511.9,2753.3 512.1,2755.1 512.3,2752.8 512.5,2757.0 512.7,2758.1 512.9,2757.7 513.1,2762.4 513.3,2767.5 513.5,2765.5 513.7,2769.4 513.9,2772.3 514.1,2770.0 514.3,2777.8 514.5,2774.4 514.8,2777.7 515.0,2782.5 515.2,2779.9 515.4,2784.3 515.6,2784.7 515.8,2789.0 516.0,2788.0 516.2,2791.0 516.4,2793.5 516.6,2794.6 516.8,2796.7 517.0,2799.4 517.2,2803.5 517.4,2803.1 517.6,2809.6 517.8,2809.0 518.0,2809.9 518.2,2811.9 518.4,2817.9 518.6,2814.7 518.9,2821.3 519.1,2819.1 519.3,2826.7 519.5,2825.2 519.7,2828.5 519.9,2832.3 520.1,2829.3 520.3,2831.1 520.5,2837.2 520.7,2838.6 520.9,2841.4 521.2,2840.5 521.4,2843.9 521.7,2843.9 521.9,2847.5 522.2,2848.5 522.4,2852.5 522.7,2852.6 522.9,2854.4 523.2,2858.8 523.4,2857.1 523.7,2863.8 523.9,2863.8 524.2,2864.0 524.4,2865.3 524.7,2869.9 524.9,2871.8 525.2,2875.2 525.4,2874.9 525.7,2877.2 525.9,2882.3 526.1,2880.2 526.4,2886.9 526.6,2888.3 526.9,2890.9 527.1,2892.6 527.4,2890.1 527.6,2895.7 527.9,2896.4 528.1,2895.7 528.4,2902.9 528.6,2902.6 528.9,2905.6 529.1,2906.0 529.4,2904.8 529.6,2911.9 529.9,2909.4 530.1,2911.9 530.4,2916.3 530.6,2915.5 530.9,2919.2 531.3,2922.9 531.6,2920.8 531.9,2926.5 532.3,2924.8 532.6,2929.2 532.9,2932.4 533.3,2934.6 533.6,2932.3 534.0,2935.3 534.3,2942.3 534.6,2940.6 535.0,2942.8 535.3,2944.4 535.6,2948.5 536.0,2950.8 536.3,2952.2 536.6,2952.5 537.0,2955.6 537.3,2957.3 537.6,2957.1 538.0,2964.1 538.3,2966.2 538.6,2966.9 539.0,2970.3 539.3,2968.8 539.6,2973.3 540.0,2971.3 540.3,2976.6 540.6,2978.4 541.0,2981.9 541.3,2983.1 541.7,2985.4 542.0,2983.4 542.3,2988.8 542.7,2988.7 543.0,2989.6 543.3,2992.0 543.7,2996.8 544.0,2999.1 544.4,3001.1 544.8,3002.0 545.2,3000.8 545.6,3002.7 546.0,3007.5 546.4,3007.2 546.8,3010.1 547.2,3010.6 547.6,3013.0 548.0,3018.8 548.4,3017.6 548.8,3023.7 549.2,3022.4 549.6,3027.8 550.0,3026.3 550.4,3028.1 550.8,3031.0 551.2,3030.5 551.6,3035.4 552.0,3037.1 552.4,3036.7 552.7,3044.3 553.0,3043.1 553.3,3042.6 553.6,3050.9 553.9,3048.1 554.2,3050.2 554.5,3050.7 554.8,3053.2 555.1,3059.2 555.4,3060.4 555.7,3061.8 556.0,3062.1 556.3,3064.4 556.6,3070.9 556.9,3068.9 557.2,3075.0 557.5,3076.3 557.8,3073.3 558.1,3080.0 558.4,3076.6 558.7,3083.1 559.0,3085.8 559.3,3087.0 559.6,3088.0 559.9,3091.8 560.3,3089.4 560.7,3094.0 561.1,3094.1 561.5,3097.0 561.9,3097.6 562.3,3103.1 562.7,3104.2 563.1,3107.5 563.5,3108.5 563.9,3110.3 564.3,3114.4 564.7,3115.7 565.1,3116.1 565.5,3116.5 565.9,3122.5 566.3,3120.8 566.7,3121.0 567.1,3124.5 567.5,3129.0 567.9,3132.5 568.3,3132.6 568.7,3134.7 569.1,3138.5 569.5,3139.4 569.9,3139.2 570.4,3141.3 570.9,3145.3 571.4,3144.4 571.9,3145.0 572.4,3150.4 572.9,3153.6 573.4,3151.9 573.9,3156.8 574.4,3160.2 574.9,3157.1 575.4,3159.2 575.9,3163.5 576.4,3164.5 576.9,3170.5 577.4,3172.8 577.9,3171.2 578.4,3175.5 578.9,3176.4 579.4,3175.4 579.9,3182.6 580.4,3179.4 580.9,3180.7 581.4,3185.2 581.9,3184.3 582.4,3189.4 583.0,3190.9 583.7,3196.4 584.3,3194.8 585.0,3199.6 585.6,3201.1 586.3,3201.8 586.9,3201.4 587.6,3203.8 588.2,3207.0 588.9,3208.3 589.5,3211.9 590.2,3212.9 590.8,3213.7 591.5,3217.5 592.1,3222.0 592.8,3218.7 593.4,3221.5 594.1,3221.3 594.7,3223.8 595.4,3225.5 596.0,3229.9 596.7,3234.6 597.3,3235.6 598.2,3239.2 599.1,3240.2 600.1,3240.4 601.0,3242.2 601.9,3240.3 602.8,3244.6 603.7,3245.6 604.7,3249.8 605.6,3248.0 606.5,3252.9 607.4,3253.7 608.4,3256.3 609.3,3257.5 610.2,3257.4 611.1,3263.4 612.0,3265.7 613.0,3266.2 613.9,3264.8 614.8,3269.9 615.8,3273.4 616.9,3275.8 617.9,3276.0 619.0,3273.0 620.0,3280.3 621.1,3280.6 622.1,3279.7 623.2,3285.7 624.2,3286.7 625.3,3288.9 626.3,3286.3 627.4,3290.2 628.4,3290.6 629.5,3291.8 630.5,3296.6 631.6,3297.3 632.6,3297.2 633.7,3300.3 634.7,3304.5 636.0,3303.6 637.4,3307.4 638.7,3306.6 640.0,3310.9 641.4,3306.1 642.7,3310.4 644.0,3312.5 645.4,3315.1 646.7,3318.2 648.0,3317.4 649.4,3318.0 650.7,3320.5 652.0,3321.3 653.4,3324.0 654.7,3327.0 656.4,3322.1 658.0,3325.4 659.7,3330.3 661.3,3326.2 663.0,3332.2 664.7,3328.5 666.3,3333.8 668.0,3336.0 669.6,3333.5 671.3,3335.7 672.9,3336.0 674.6,3340.4 676.7,3339.3 678.9,3339.9 681.0,3338.1 683.1,3339.9 685.3,3342.5 687.4,3341.4 689.5,3342.6 691.7,3338.1 693.8,3339.9 696.0,3339.2 698.1,3339.0 700.2,3342.1 702.4,3338.1 704.5,3340.7 706.6,3341.7 708.7,3342.3 710.8,3335.9 712.8,3337.1 714.9,3338.2 717.0,3340.7 719.1,3335.2 721.2,3339.2 723.2,3335.9 725.3,3336.4 727.4,3338.5 729.5,3332.4 731.5,3333.9 733.5,3332.5 735.5,3332.1 737.5,3333.0 739.5,3335.4 741.4,3334.3 743.4,3331.1 745.4,3335.3 747.4,3333.1 749.4,3330.4 751.5,3335.1 753.7,3335.3 755.8,3331.4 758.0,3336.4 760.1,3335.7 762.3,3332.0 764.4,3330.7 766.1,3337.8 767.7,3338.9 769.4,3335.5 771.0,3341.3 772.7,3342.7 774.3,3343.2 776.0,3345.9 777.6,3348.3 779.3,3345.4 780.8,3350.2 782.3,3352.3 783.8,3349.8 785.3,3353.7 786.8,3355.2 788.3,3357.8 789.8,3357.4 791.3,3357.0 792.8,3358.4 794.3,3361.8 795.5,3360.8 796.8,3367.4 798.0,3369.3 799.3,3366.8 800.5,3371.6 801.8,3373.1 803.0,3371.3 804.3,3377.3 805.5,3379.0 806.8,3377.7 807.8,3378.2 808.9,3381.3 809.9,3386.4 810.9,3386.2 812.0,3390.4 813.0,3388.0 814.0,3389.5 815.1,3392.9 816.1,3398.3 817.1,3395.4 818.2,3396.7 819.2,3403.1 820.0,3400.6 820.9,3406.4 821.7,3404.5 822.5,3407.5 823.4,3412.1 824.2,3415.5 825.0,3414.3 825.9,3416.5 826.7,3415.7 827.5,3419.7 828.3,3420.9 829.0,3426.4 829.8,3427.8 830.6,3430.2 831.4,3430.4 832.2,3433.5 833.0,3431.6 833.7,3435.2 834.5,3436.5 835.3,3438.3 836.1,3443.2 836.9,3441.7 837.7,3444.3 838.4,3446.0 839.2,3451.7 840.0,3452.1 840.9,3452.9 841.7,3454.2 842.6,3459.6 843.4,3461.6 844.3,3460.3 845.1,3462.9 846.0,3466.7 846.8,3464.6 847.7,3466.5 848.5,3467.3 849.4,3471.9 850.2,3475.5 851.1,3473.3 852.0,3477.0 852.8,3482.6 853.7,3481.1 854.5,3482.3 855.4,3487.2 856.2,3489.4 857.1,3487.9 857.9,3488.1 858.8,3493.4 859.6,3496.0 860.5,3499.0 861.3,3499.2 862.2,3498.7 862.9,3502.0 863.6,3502.3 864.4,3505.3 865.1,3507.3 865.8,3512.1 866.5,3513.9 867.2,3515.9 868.0,3514.8 868.7,3519.9 869.4,3516.3 870.1,3523.4 870.8,3523.4 871.6,3526.8 872.3,3525.6 873.0,3531.3 873.7,3526.8 874.4,3534.1 875.1,3535.8 875.9,3534.7 876.6,3539.6 877.3,3537.4 878.0,3542.8 878.7,3542.8 879.5,3544.3 880.2,3544.8 880.9,3550.6 881.6,3552.0 882.3,3549.7 883.1,3557.4 883.8,3554.3 884.5,3557.2 885.2,3559.3 885.8,3562.3 886.5,3566.2 887.2,3568.5 887.9,3568.3 888.5,3568.4 889.2,3568.6 889.9,3570.2 890.6,3575.1 891.2,3577.4 891.9,3578.4 892.6,3583.8 893.2,3581.9 893.9,3583.4 894.6,3585.7 895.3,3586.0 895.9,3592.9 896.6,3592.5 897.3,3594.1 898.0,3595.2 898.6,3595.9 899.3,3598.2 900.0,3601.3 900.6,3602.9 901.3,3608.3 902.0,3607.4 902.7,3607.0 903.3,3607.8 904.0,3610.4 904.7,3613.5 905.4,3618.3 906.0,3620.9 906.7,3618.5 907.6,3623.9 908.6,3623.5 909.5,3626.0 910.4,3627.8 911.3,3626.5 912.3,3628.5 913.2,3634.3 914.1,3636.3 915.1,3636.1 916.0,3641.5 916.9,3642.7 917.9,3641.1 918.8,3641.4 919.7,3646.5 920.6,3649.0 921.6,3648.0 922.5,3648.7 923.4,3653.5 924.4,3652.4 925.3,3658.8 926.2,3660.0 927.1,3659.5 928.1,3662.5 929.0,3662.9 929.9,3664.5 930.9,3666.3 931.8,3672.3 932.7,3671.8 933.6,3675.4 934.5,3674.8 935.5,3679.6 936.4,3680.1 937.3,3682.3 938.2,3682.5 939.2,3685.4 940.1,3684.8 941.0,3691.8 942.0,3691.7 942.9,3692.6 943.8,3695.1 944.7,3693.4 945.7,3696.8 946.6,3698.0 947.5,3703.9 948.4,3700.2 949.4,3704.9 950.3,3709.6 951.2,3710.9 952.3,3712.1 953.3,3711.1 954.4,3712.3 955.4,3717.1 956.5,3716.2 957.5,3720.7 958.6,3719.9 959.7,3724.3 960.7,3724.8 961.8,3728.1 962.8,3730.9 963.9,3728.6 964.9,3734.3 966.0,3729.6 967.1,3737.0 968.1,3733.1 969.2,3738.2 970.2,3738.9 971.3,3743.1 972.3,3741.8 973.4,3742.8 974.8,3748.1 976.1,3748.1 977.5,3751.0 978.8,3750.8 980.2,3749.4 981.5,3755.8 982.9,3753.7 984.3,3756.9 985.6,3755.3 987.0,3758.6 988.3,3762.8 989.7,3765.0 991.0,3765.7 992.4,3766.0 993.7,3769.5 995.1,3770.6 996.5,3769.1 997.8,3772.8 999.2,3774.8 1000.5,3777.2 1001.9,3775.2 1003.2,3777.5 1004.6,3779.3 1006.4,3778.7 1008.1,3781.5 1009.9,3785.2 1011.7,3785.3 1013.5,3783.7 1015.2,3788.5 1017.0,3785.6 1018.8,3790.9 1020.5,3788.0 1022.3,3788.8 1024.1,3790.9 1025.8,3793.8 1027.6,3793.3 1029.4,3798.4 1031.2,3799.9 1032.9,3796.7 1034.7,3800.9 1036.5,3801.7 1038.2,3801.9 1040.0,3801.0 1041.9,3806.4 1043.7,3807.3 1045.6,3801.9 1047.4,3804.8 1049.3,3805.6 1051.2,3805.6 1053.0,3808.0 1054.9,3811.9 1056.7,3807.0 1058.6,3813.1 1060.4,3810.5 1062.3,3809.4 1064.2,3816.1 1066.0,3812.8 1067.9,3813.2 1069.7,3813.4 1071.6,3815.9 1073.4,3815.1 1075.3,3816.3 1077.2,3817.6 1079.0,3820.6 1080.9,3820.6 1082.7,3820.5 1084.6,3822.8 1086.6,3824.9 1088.6,3825.1 1090.7,3823.1 1092.7,3827.4 1094.7,3827.0 1096.7,3826.0 1098.7,3826.0 1100.7,3825.5 1102.8,3824.7 1104.8,3830.2 1106.8,3828.9 1108.8,3826.0 1110.8,3832.0 1112.9,3832.2 1114.9,3827.1 1116.9,3832.0 1118.9,3829.4 1120.9,3831.9 1122.9,3834.4 1125.0,3831.7 1127.0,3833.2 1129.0,3834.8 1131.0,3831.9 1133.1,3834.9 1135.1,3833.8 1137.1,3837.7 1139.1,3832.6 1141.2,3836.3 1143.2,3832.1 1145.2,3833.8 1147.2,3833.0 1149.3,3833.4 1151.3,3836.1 1153.3,3834.0 1155.4,3838.2 1157.4,3833.8 1159.4,3837.5 1161.4,3839.3 1163.5,3834.6 1165.5,3835.4 1167.5,3839.2 1169.5,3837.5 1171.6,3840.8 1173.6,3837.0 1175.6,3836.8 1177.6,3839.9 1179.7,3835.3 1181.7,3838.8 1183.7,3837.7 1185.7,3832.5 1187.7,3834.2 1189.7,3836.2 1191.8,3830.2 1193.8,3834.4 1195.8,3833.3 1197.4,3831.9 1199.1,3829.6 1200.7,3825.0 1202.4,3829.4 1204.0,3822.4 1205.7,3825.6 1207.3,3823.9 1208.9,3820.0 1210.6,3821.1 1212.2,3818.0 1213.9,3819.0 1215.5,3813.0 1217.1,3817.6 1218.8,3812.7 1220.4,3814.2 1222.1,3810.7 1223.7,3811.6 1225.4,3807.0 1227.0,3807.3 1228.3,3802.3 1229.7,3803.8 1231.0,3799.6 1232.3,3803.2 1233.7,3800.4 1235.0,3797.2 1236.3,3799.2 1237.6,3797.5 1239.0,3796.0 1240.3,3788.7 1241.6,3791.2 1243.0,3789.8 1244.3,3787.5 1245.6,3782.0 1246.9,3786.5 1248.3,3781.7 1249.6,3781.2 1250.9,3781.1 1252.3,3776.0 1253.6,3772.8 1255.2,3777.3 1256.8,3771.5 1258.5,3768.6 1260.1,3767.8 1261.7,3772.1 1263.3,3769.0 1264.9,3764.1 1266.5,3762.2 1268.2,3765.8 1269.8,3762.8 1271.4,3760.8 1273.3,3757.2 1275.2,3758.5 1277.1,3761.4 1279.0,3754.5 1280.9,3756.6 1282.8,3753.6 1284.7,3759.2 1286.5,3754.4 1288.3,3761.1 1290.0,3761.5 1291.8,3761.9 1293.6,3758.4 1295.4,3763.8 1297.2,3763.6 1298.9,3764.7 1300.7,3763.5 1302.5,3767.1 1304.0,3770.5 1305.5,3767.5 1307.0,3773.9 1308.4,3772.4 1309.9,3772.9 1311.4,3774.2 1312.9,3777.1 1314.4,3779.8 1315.8,3780.8 1317.3,3784.4 1318.8,3783.4 1320.3,3784.9 1321.8,3789.5 1323.3,3785.9 1324.8,3786.1 1326.2,3789.6 1327.7,3791.0 1329.2,3791.2 1330.8,3794.5 1332.3,3793.2 1333.9,3800.4 1335.5,3798.8 1337.1,3802.7 1338.6,3802.8 1340.2,3804.4 1341.8,3805.9 1343.3,3804.1 1344.9,3808.3 1346.5,3806.1 1348.0,3809.7 1349.6,3811.3 1351.2,3813.8 1352.8,3811.1 1354.3,3813.6 1355.9,3818.0 1357.8,3818.8 1359.7,3820.7 1361.6,3815.9 1363.5,3817.4 1365.4,3817.5 1367.4,3822.5 1369.3,3823.5 1371.2,3823.7 1373.1,3825.4 1375.0,3824.5 1376.9,3825.6 1378.8,3828.9 1380.7,3827.9 1382.6,3828.8 1384.5,3829.2 1386.5,3829.4 1388.4,3832.0 1390.3,3831.6 1392.2,3829.6 1394.1,3832.4 1396.0,3833.2 1398.0,3833.8 1400.0,3835.1 1402.1,3834.3 1404.1,3835.0 1406.1,3835.7 1408.1,3835.9 1410.1,3840.3 1412.1,3835.0 1414.2,3835.1 1416.2,3840.2 1418.2,3838.6 1420.2,3839.4 1422.2,3840.9 1424.3,3839.9 1426.3,3839.5 1428.3,3838.6 1430.3,3844.7 1432.3,3845.7 1434.3,3841.9 1436.4,3843.6 1438.4,3843.1 1440.4,3841.9 1442.4,3847.8 1444.4,3847.9 1446.3,3844.4 1448.3,3844.9 1450.3,3848.2 1452.3,3849.3 1454.3,3847.5 1456.2,3847.4 1458.2,3846.8 1460.2,3851.0 1462.2,3851.8 1464.2,3852.2 1466.1,3847.7 1468.1,3851.3 1470.1,3854.3 1472.1,3852.9 1474.1,3851.7 1476.0,3850.0 1478.0,3849.9 1480.0,3854.7 1482.0,3850.7 1484.1,3855.9 1486.1,3855.2 1488.2,3854.3 1490.2,3857.3 1492.3,3857.9 1494.3,3856.1 1496.3,3853.0 1498.4,3856.5 1500.4,3855.7 1502.5,3854.9 1504.5,3859.7 1506.6,3858.7 1508.6,3855.0 1510.7,3856.0 1512.7,3857.1 1514.7,3858.9 1516.8,3857.6 1518.8,3858.6 1520.9,3861.4 1522.9,3857.5 1525.0,3861.4 1527.0,3859.1 1529.0,3863.5 1531.1,3863.8 1533.1,3860.0 1535.2,3862.2 1537.2,3859.2 1539.3,3861.5 1541.3,3863.2 1543.3,3863.3 1545.4,3861.4 1547.4,3859.3 1549.5,3859.9 1551.5,3862.8 1553.6,3860.2 1555.6,3861.1 1557.7,3863.2 1559.7,3865.0 1561.8,3862.5 1563.8,3860.8 1565.8,3863.0 1567.9,3860.9 1569.9,3864.3 1572.0,3860.1 1574.0,3860.8 1576.1,3862.0 1578.1,3865.1 1580.2,3860.2 1582.2,3860.4 1584.3,3860.0 1586.3,3860.5 1588.4,3861.3 1590.4,3861.7 1592.4,3864.5 1594.3,3862.6 1596.3,3863.5 1598.3,3863.4 1600.3,3866.3 1602.2,3867.6 1604.2,3864.8 1606.2,3868.5 1608.1,3864.5 1610.1,3869.7 1612.1,3867.2 1614.1,3868.6 1616.0,3867.0 1618.0,3866.7 1620.0,3866.3 1621.9,3871.6 1623.9,3868.6 1625.9,3871.2 1627.9,3870.1 1629.8,3870.9 1631.8,3869.2 1633.8,3869.5 1635.7,3870.9 1637.7,3873.6 1639.7,3873.1 1641.7,3870.0 1643.6,3875.1 1645.6,3873.7 1647.6,3871.3 1649.7,3872.6 1651.7,3872.3 1653.8,3876.4 1655.8,3874.7 1657.9,3873.2 1659.9,3872.8 1661.9,3873.1 1664.0,3873.1 1666.0,3873.6 1668.1,3876.6 1670.1,3876.6 1672.2,3876.0 1674.2,3877.3 1676.3,3875.8 1678.3,3872.3 1680.3,3871.9 1682.4,3872.8 1684.4,3873.4 1686.5,3875.3 1688.5,3877.2 1690.6,3875.7 1692.6,3874.8 1694.6,3873.6 1696.7,3878.5 1698.7,3877.0 1700.8,3874.4 1702.8,3872.5 1704.9,3878.7 1706.9,3874.0 1709.0,3877.9 1711.0,3873.1 1713.0,3876.7 1715.1,3874.8 1717.1,3878.4 1719.2,3874.5 1721.2,3873.3 1723.3,3874.0 1725.3,3878.0 1727.3,3879.3 1729.4,3877.3 1731.4,3877.7 1733.5,3875.2 1735.5,3875.3 1737.6,3874.2 1739.6,3880.3 1741.6,3874.3 1743.7,3878.2 1745.7,3876.6 1747.8,3875.7 1749.8,3877.5 1751.9,3880.9 1753.9,3876.6 1755.9,3876.2 1758.0,3879.4 1760.0,3879.8 1762.1,3879.0 1764.1,3876.9 1766.2,3881.7 1768.2,3876.8 1770.3,3877.4 1772.3,3878.0 1774.3,3879.9 1776.4,3879.8 1778.4,3880.5 1780.5,3881.8 1782.5,3883.1 1784.6,3880.4 1786.6,3877.8 1788.6,3883.2 1790.7,3878.0 1792.7,3880.2 1794.8,3879.2 1796.8,3882.4 1798.9,3883.8 1800.9,3879.7 1803.0,3880.9 1805.0,3884.8 1807.1,3883.9 1809.1,3880.3 1811.2,3884.3 1813.2,3885.2 1815.3,3882.8 1817.3,3881.3 1819.3,3884.8 1821.4,3882.8 1823.4,3881.7 1825.5,3882.1 1827.5,3883.9 1829.6,3882.3 1831.6,3884.1 1833.7,3885.4 1835.7,3885.6 1837.8,3884.8 1839.8,3887.6 1841.9,3883.1 1843.9,3884.9 1846.0,3889.1 1848.0,3888.8 1850.0,3889.2 1852.1,3888.3 1854.1,3886.8 1856.2,3888.5 1858.2,3887.2 1860.2,3884.2 1862.3,3885.2 1864.3,3884.2 1866.4,3889.4 1868.4,3885.8 1870.4,3886.4 1872.5,3887.4 1874.5,3884.5 1876.6,3888.6 1878.6,3889.3 1880.6,3889.3 1882.7,3889.9 1884.7,3886.3 1886.8,3885.2 1888.8,3889.3 1890.8,3888.9 1892.9,3886.9 1894.9,3886.7 1897.0,3885.6 1899.0,3890.1 1901.0,3887.7 1903.1,3890.1 1905.1,3887.0 1907.2,3887.0 1909.2,3888.3 1911.2,3889.8 1913.3,3890.6 1915.3,3887.1 1917.4,3889.2 1919.4,3887.3 1921.5,3890.2 1923.5,3889.5 1925.6,3888.1 1927.6,3886.8 1929.7,3886.1 1931.7,3890.1 1933.8,3889.5 1935.8,3886.1 1937.9,3884.6 1939.9,3885.3 1941.9,3890.3 1944.0,3884.1 1946.0,3889.2 1948.1,3887.3 1950.1,3887.4 1952.2,3887.2 1954.2,3886.3 1956.3,3887.2 1958.3,3884.1 1960.4,3889.5 1962.4,3884.0 1964.5,3884.2 1966.5,3887.7 1968.6,3887.4 1970.6,3888.4 1972.6,3887.5 1974.7,3889.0 1976.7,3883.1 1978.8,3882.7 1980.8,3884.0 1982.8,3887.5 1984.9,3883.2 1986.9,3885.6 1989.0,3887.0 1991.0,3882.8 1993.1,3885.2 1995.1,3887.5 1997.1,3886.4 1999.2,3883.9 2001.2,3884.3 2003.3,3882.9 2005.3,3887.2 2007.3,3885.9 2009.4,3885.1 2011.4,3882.5 2013.5,3885.2 2015.5,3883.5 2017.6,3885.4 2019.6,3882.4 2021.6,3885.4 2023.5,3883.7 2025.5,3881.7 2027.5,3882.1 2029.4,3883.2 2031.4,3881.0 2033.3,3883.4 2035.3,3876.7 2037.3,3882.2 2039.2,3880.6 2041.2,3878.7 2043.2,3880.6 2045.1,3875.6 2047.1,3876.4 2049.1,3878.5 2051.0,3878.8 2053.0,3875.4 2055.0,3879.1 2056.9,3876.4 2058.9,3872.0 2060.8,3872.1 2062.8,3871.4 2064.8,3874.2 2066.7,3872.1 2068.7,3871.3 2070.7,3872.4 2072.8,3869.7 2074.8,3875.0 2076.9,3874.3 2078.9,3872.3 2080.9,3871.3 2083.0,3870.2 2085.0,3871.9 2087.1,3870.1 2089.1,3874.0 2091.2,3873.7 2093.2,3871.9 2095.2,3872.4 2097.3,3867.2 2099.3,3867.4 2101.4,3868.6 2103.4,3867.0 2105.4,3868.7 2107.5,3872.2 2109.5,3871.0 2111.6,3871.6 2113.6,3866.6 2115.7,3866.4 2117.7,3864.9 2119.7,3866.7 2121.8,3865.5 2123.8,3868.8 2125.9,3867.5 2127.9,3870.1 2130.0,3869.6 2132.0,3870.0 2134.1,3868.3 2136.1,3871.3 2138.1,3871.2 2140.2,3871.6 2142.2,3870.2 2144.3,3870.4 2146.3,3869.4 2148.4,3868.0 2150.4,3871.0 2152.5,3872.2 2154.5,3869.5 2156.5,3874.4 2158.5,3875.0 2160.4,3875.2 2162.4,3875.4 2164.4,3873.7 2166.4,3872.1 2168.3,3873.1 2170.3,3876.7 2172.3,3878.7 2174.3,3873.4 2176.3,3873.1 2178.2,3875.9 2180.2,3876.3 2182.2,3878.3 2184.2,3875.6 2186.1,3880.8 2188.1,3877.9 2190.1,3882.1 2192.1,3878.7 2194.0,3879.0 2196.0,3878.6 2198.0,3884.3 2200.0,3882.2 2202.0,3884.2 2203.9,3879.6 2205.9,3883.2 2207.9,3884.9 2209.9,3887.0 2211.8,3887.1 2213.8,3882.1 2215.8,3884.3 2217.8,3888.7 2219.8,3885.9 2221.7,3889.0 2223.7,3884.7 2225.7,3883.5 2227.7,3889.8 2229.7,3885.6 2231.6,3887.9 2233.6,3886.9 2235.6,3888.6 2237.6,3891.2 2239.6,3891.6 2241.5,3891.4 2243.5,3887.6 2245.5,3891.7 2247.5,3886.7 2249.5,3889.6 2251.5,3893.4 2253.4,3889.1 2255.4,3890.2 2257.4,3891.9 2259.4,3889.9 2261.4,3893.3 2263.3,3893.2 2265.3,3889.8 2267.3,3895.6 2269.3,3890.3 2271.3,3894.7 2273.2,3892.7 2275.2,3891.7 2277.2,3891.5 2279.2,3897.8 2281.3,3896.8 2283.3,3894.7 2285.4,3897.2 2287.4,3898.6 2289.5,3898.5 2291.5,3896.2 2293.6,3894.7 2295.6,3896.6 2297.6,3899.9 2299.7,3898.4 2301.7,3898.3 2303.8,3899.7 2305.8,3897.0 2307.9,3898.3 2309.9,3900.4 2312.0,3896.4 2314.0,3901.0 2316.0,3895.4 2318.0,3898.7 2320.0,3898.8 2322.0,3895.9 2324.0,3900.9 2326.0,3897.6 2328.0,3895.8 2330.0,3897.2 2332.0,3898.3 2334.0,3897.2 2336.0,3894.3 2338.0,3894.7 2340.0,3898.7 2342.0,3894.8 2344.0,3895.5 2346.0,3899.1 2348.0,3899.3 2350.0,3899.4 2352.0,3894.6 2354.0,3893.4 2356.0,3898.2 2358.0,3897.1 2360.0,3895.5 2362.0,3893.1 2364.0,3895.7 2366.0,3894.3 2368.0,3896.6 2370.0,3899.1 2372.0,3893.9 2374.0,3892.9 2376.0,3896.9" fill="none" stroke="#000" stroke-width="10.5" stroke-linejoin="round" stroke-linecap="round" clip-path="url(#clipB)"/>
<polyline points="503.5,2347.4 503.5,2350.4 503.5,2354.0 503.5,2359.8 503.5,2357.6 503.5,2359.8 503.6,2362.9 503.7,2362.9 503.8,2366.6 503.9,2370.6 504.0,2370.2 504.0,2375.4 504.1,2373.5 504.2,2375.0 504.3,2380.5 504.4,2381.5 504.5,2386.6 504.6,2383.3 504.7,2389.6 504.8,2391.2 504.9,2391.3 504.9,2391.8 505.0,2397.0 505.1,2400.1 505.2,2400.3 505.3,2402.3 505.4,2405.8 505.6,2407.4 505.8,2408.2 506.0,2408.7 506.2,2412.6 506.4,2415.2 506.5,2419.6 506.7,2422.3 506.9,2421.4 507.1,2422.0 507.3,2423.4 507.5,2428.1 507.7,2430.9 507.9,2429.7 508.1,2434.7 508.3,2438.8 508.5,2436.8 508.7,2442.5 508.9,2441.2 509.0,2444.7 509.2,2448.2 509.4,2445.9 509.6,2448.9 509.8,2455.1 510.0,2451.1 510.2,2454.8 510.4,2458.0 510.6,2461.8 510.7,2463.2 510.9,2467.2 511.1,2467.6 511.3,2465.2 511.5,2467.8 511.6,2469.6 511.8,2474.3 512.0,2473.7 512.2,2479.1 512.4,2481.9 512.6,2481.1 512.8,2487.5 512.9,2486.6 513.1,2492.3 513.3,2490.4 513.5,2494.2 513.7,2495.8 513.9,2496.0 514.0,2501.5 514.2,2498.5 514.4,2502.1 514.6,2504.7 514.8,2510.5 515.0,2510.0 515.2,2509.0 515.4,2512.8 515.5,2516.9 515.7,2520.3 515.9,2517.8 516.1,2524.2 516.3,2523.7 516.5,2526.7 516.7,2528.1 516.9,2530.3 517.1,2536.0 517.3,2537.6 517.5,2539.6 517.7,2540.5 517.9,2542.3 518.0,2540.7 518.2,2542.1 518.4,2549.4 518.6,2550.4 518.8,2552.2 519.0,2552.2 519.3,2553.9 519.5,2560.2 519.8,2559.7 520.0,2558.3 520.3,2562.5 520.6,2564.6 520.8,2564.7 521.1,2572.8 521.3,2574.3 521.6,2575.7 521.9,2572.4 522.1,2577.2 522.4,2577.2 522.7,2583.3 522.9,2585.8 523.2,2587.7 523.4,2589.8 523.7,2587.4 524.0,2588.7 524.2,2591.2 524.5,2598.2 524.7,2600.1 525.0,2600.1 525.2,2600.3 525.4,2606.4 525.6,2603.6 525.8,2607.0 526.0,2606.9 526.2,2615.4 526.4,2613.7 526.6,2618.1 526.8,2620.3 527.1,2620.9 527.3,2625.6 527.5,2626.2 527.7,2629.3 527.9,2631.6 528.1,2627.8 528.3,2634.2 528.5,2632.8 528.7,2635.5 528.9,2637.6 529.1,2643.9 529.3,2639.9 529.5,2644.4 529.7,2644.4 529.9,2652.1 530.1,2650.9 530.3,2654.3 530.5,2655.1 530.7,2658.8 530.9,2658.0 531.2,2660.5 531.4,2664.7 531.6,2666.5 531.8,2669.7 532.0,2668.0 532.2,2673.6 532.4,2674.9 532.6,2675.8 532.8,2676.8 533.0,2679.8 533.3,2678.6 533.6,2680.7 533.9,2684.1 534.2,2684.8 534.5,2686.3 534.8,2692.7 535.1,2694.8 535.4,2696.0 535.7,2695.3 536.0,2700.7 536.2,2703.4 536.5,2704.0 536.8,2703.4 537.1,2707.6 537.4,2708.4 537.7,2709.6 538.0,2710.8 538.3,2717.5 538.6,2717.9 538.9,2721.9 539.2,2718.9 539.5,2721.5 539.8,2725.1 540.1,2724.1 540.4,2727.7 540.7,2731.2 541.0,2732.8 541.3,2737.6 541.6,2737.4 541.8,2739.8 542.1,2741.4 542.4,2744.7 542.7,2743.9 543.0,2743.5 543.3,2752.0 543.6,2752.7 543.9,2750.3 544.2,2752.2 544.5,2754.9 544.8,2759.7 545.1,2758.2 545.5,2759.5 545.8,2764.6 546.2,2763.4 546.5,2767.0 546.8,2769.8 547.2,2770.6 547.5,2771.3 547.9,2775.0 548.2,2776.8 548.5,2779.3 548.9,2781.9 549.2,2783.5 549.6,2785.3 549.9,2785.3 550.2,2792.6 550.6,2794.0 550.9,2794.3 551.3,2793.1 551.6,2796.6 551.9,2803.0 552.3,2802.0 552.6,2802.4 553.0,2808.4 553.3,2810.8 553.6,2807.8 554.0,2812.2 554.3,2814.6 554.7,2813.7 555.0,2817.0 555.3,2820.9 555.7,2823.3 556.0,2825.0 556.4,2826.9 556.7,2827.3 557.0,2827.2 557.4,2828.9 557.7,2836.3 558.1,2838.4 558.4,2840.7 558.8,2837.2 559.2,2843.8 559.6,2841.8 559.9,2844.9 560.3,2846.0 560.7,2852.3 561.1,2854.0 561.5,2856.1 561.9,2855.1 562.2,2860.8 562.6,2858.3 563.0,2862.3 563.4,2865.0 563.8,2864.1 564.2,2867.0 564.6,2867.2 564.9,2873.7 565.3,2871.7 565.7,2873.4 566.1,2876.3 566.5,2880.7 566.9,2882.6 567.3,2883.9 567.6,2888.0 568.0,2889.4 568.4,2887.8 568.8,2891.9 569.2,2891.5 569.6,2893.9 569.9,2895.3 570.3,2896.8 570.7,2900.6 571.1,2906.1 571.5,2906.6 571.9,2904.8 572.3,2907.7 572.6,2912.1 573.0,2913.7 573.4,2912.4 573.8,2914.8 574.3,2919.9 574.8,2922.1 575.3,2920.7 575.8,2927.2 576.3,2925.7 576.8,2930.0 577.3,2931.6 577.8,2932.3 578.3,2938.3 578.8,2936.6 579.2,2938.8 579.7,2941.6 580.2,2945.5 580.7,2948.5 581.2,2949.0 581.7,2949.5 582.2,2952.6 582.7,2954.1 583.2,2958.2 583.7,2960.3 584.2,2960.8 584.7,2959.2 585.2,2963.5 585.7,2964.7 586.2,2965.3 586.7,2970.9 587.2,2969.2 587.7,2974.4 588.2,2974.9 588.6,2976.5 589.1,2980.3 589.6,2982.4 590.1,2986.2 590.6,2988.2 591.1,2988.9 591.6,2987.3 592.1,2992.0 592.6,2992.8 593.1,2997.7 593.6,2996.5 594.2,2997.9 594.7,2997.8 595.3,3002.7 595.8,3005.2 596.4,3005.7 597.0,3006.4 597.5,3011.0 598.1,3010.3 598.6,3013.0 599.2,3016.8 599.8,3018.2 600.3,3021.3 600.9,3023.5 601.4,3024.6 602.0,3025.0 602.8,3026.2 603.6,3031.7 604.4,3036.3 605.2,3033.7 606.0,3036.1 606.8,3037.8 607.6,3042.5 608.4,3042.8 609.2,3046.7 610.0,3043.4 610.8,3046.1 611.5,3048.5 612.2,3051.5 613.0,3053.5 613.8,3055.3 614.5,3061.0 615.2,3059.4 616.0,3062.2 616.8,3066.6 617.5,3066.4 618.2,3067.9 619.0,3071.3 619.8,3069.9 620.5,3069.8 621.2,3077.8 622.0,3076.9 622.8,3079.1 623.5,3077.5 624.3,3083.9 625.2,3083.3 626.0,3087.0 626.8,3086.5 627.7,3092.5 628.5,3090.8 629.3,3092.0 630.2,3098.0 631.0,3095.4 631.8,3097.6 632.6,3100.9 633.5,3106.1 634.3,3102.2 635.1,3104.7 636.0,3110.5 636.8,3107.6 637.6,3111.7 638.5,3116.0 639.3,3117.4 640.2,3119.9 641.0,3117.3 641.9,3124.4 642.7,3122.8 643.6,3127.8 644.4,3127.4 645.3,3132.1 646.1,3131.4 647.0,3131.8 647.9,3133.1 648.7,3137.3 649.6,3136.3 650.4,3139.0 651.3,3145.6 652.1,3145.5 653.0,3149.4 654.5,3146.2 656.0,3149.8 657.5,3151.2 659.0,3150.2 660.5,3152.7 662.1,3158.5 663.6,3158.7 665.1,3158.7 666.6,3160.8 668.1,3163.9 669.6,3166.0 671.3,3165.0 672.9,3162.8 674.6,3169.6 676.3,3166.3 677.9,3168.2 679.6,3168.9 681.3,3172.7 682.9,3174.5 684.6,3175.1 686.3,3176.6 687.9,3175.8 689.6,3180.9 691.4,3180.9 693.2,3180.5 695.0,3185.1 696.8,3186.9 698.6,3188.0 700.5,3189.5 702.3,3184.6 704.1,3187.9 705.9,3189.4 707.7,3189.3 709.5,3193.6 711.2,3195.9 712.8,3192.1 714.5,3195.8 716.2,3200.1 717.8,3200.8 719.5,3199.1 721.2,3198.1 722.8,3201.6 724.5,3203.3 726.2,3206.3 727.8,3203.6 729.5,3205.4 731.0,3211.4 732.6,3206.4 734.1,3211.7 735.6,3209.6 737.2,3215.3 738.7,3214.5 740.2,3219.1 741.7,3215.8 743.3,3221.5 744.8,3218.6 746.3,3218.7 747.9,3220.3 749.4,3221.6 751.1,3224.9 752.7,3230.0 754.4,3227.2 756.1,3230.8 757.7,3227.5 759.4,3232.0 761.1,3233.4 762.7,3231.7 764.4,3236.1 766.1,3236.5 767.7,3236.9 769.4,3241.5 771.0,3241.9 772.6,3239.5 774.1,3240.8 775.7,3241.8 777.3,3244.6 778.9,3248.4 780.5,3251.9 782.1,3253.3 783.6,3254.0 785.2,3250.5 786.8,3256.2 788.0,3257.6 789.3,3257.3 790.5,3262.4 791.8,3261.4 793.0,3259.8 794.3,3262.0 795.5,3263.1 796.8,3267.8 798.0,3269.5 799.3,3272.7 800.5,3268.7 801.8,3270.3 803.0,3278.2 804.3,3275.1 805.5,3276.8 806.6,3282.5 807.8,3279.1 808.9,3285.3 810.1,3287.7 811.3,3287.1 812.4,3289.1 813.6,3286.8 814.7,3292.4 815.9,3294.1 817.1,3296.8 818.2,3296.8 819.4,3295.8 820.5,3298.2 821.7,3302.7 822.9,3300.6 824.0,3302.6 825.2,3305.2 826.3,3310.5 827.5,3310.6 828.6,3311.1 829.8,3316.8 830.9,3316.0 832.1,3315.5 833.2,3319.4 834.4,3323.0 835.5,3321.5 836.7,3323.7 837.8,3326.4 838.8,3330.9 839.9,3330.4 841.0,3329.1 842.0,3333.5 843.1,3333.6 844.2,3336.4 845.2,3339.7 846.3,3336.9 847.3,3341.9 848.4,3342.4 849.5,3346.1 850.5,3349.3 851.6,3348.8 852.5,3351.7 853.5,3351.4 854.4,3353.0 855.4,3356.6 856.3,3358.6 857.2,3358.4 858.2,3363.9 859.1,3364.0 860.0,3364.9 861.0,3366.1 861.9,3371.8 862.9,3374.2 863.8,3376.3 864.7,3373.6 865.7,3374.3 866.6,3379.9 867.4,3377.7 868.1,3385.1 868.9,3385.8 869.7,3385.4 870.5,3388.0 871.2,3391.4 872.0,3389.8 872.8,3393.1 873.6,3397.7 874.4,3398.9 875.1,3400.1 875.9,3398.8 876.7,3401.4 877.5,3403.6 878.2,3403.9 879.0,3409.8 879.7,3411.3 880.4,3415.6 881.1,3415.1 881.8,3419.5 882.4,3418.4 883.1,3420.7 883.8,3421.1 884.5,3424.3 885.4,3429.2 886.4,3428.1 887.3,3426.8 888.2,3431.0 889.1,3431.8 890.0,3436.4 891.0,3437.5 891.9,3439.2 892.8,3444.0 893.8,3444.8 894.7,3442.2 895.6,3443.7 896.5,3449.9 897.5,3451.1 898.4,3453.3 899.3,3454.2 900.2,3453.0 901.2,3457.6 902.1,3461.9 903.0,3462.3 903.9,3460.4 904.9,3462.8 905.8,3469.8 906.7,3469.3 907.6,3468.6 908.6,3474.1 909.5,3477.4 910.4,3478.8 911.3,3479.2 912.3,3482.2 913.2,3479.3 914.1,3483.6 915.1,3487.7 916.0,3486.5 916.9,3487.0 917.9,3493.7 918.8,3494.5 919.7,3491.7 920.6,3493.9 921.6,3499.0 922.5,3503.5 923.4,3503.2 924.4,3506.7 925.3,3503.5 926.2,3508.4 927.1,3507.7 928.1,3510.5 929.0,3511.2 930.0,3515.1 931.0,3514.1 932.0,3520.0 933.0,3521.7 934.0,3525.3 935.1,3526.2 936.1,3523.4 937.1,3530.5 938.1,3530.1 939.1,3534.6 940.1,3533.4 941.1,3532.6 942.1,3538.5 943.1,3536.8 944.1,3544.0 945.1,3542.8 946.2,3547.1 947.2,3546.2 948.2,3546.9 949.2,3550.9 950.2,3553.1 951.2,3553.2 952.4,3553.7 953.5,3556.2 954.7,3559.8 955.9,3558.3 957.0,3559.4 958.2,3563.2 959.4,3566.0 960.5,3563.7 961.7,3566.7 962.9,3573.0 964.1,3570.0 965.2,3574.9 966.4,3573.5 967.6,3573.7 968.7,3578.0 969.9,3582.1 971.1,3583.2 972.2,3580.0 973.4,3585.9 974.8,3586.9 976.1,3587.6 977.5,3590.3 978.8,3590.9 980.2,3590.2 981.5,3595.2 982.9,3593.0 984.3,3595.7 985.6,3600.9 987.0,3600.5 988.3,3601.7 989.7,3604.6 991.0,3604.7 992.4,3605.5 993.7,3608.2 995.1,3606.2 996.5,3609.9 997.8,3609.4 999.2,3617.3 1000.5,3618.2 1001.9,3618.1 1003.2,3616.4 1004.6,3622.5 1006.2,3620.0 1007.8,3624.6 1009.4,3624.9 1011.0,3625.8 1012.6,3627.9 1014.3,3626.0 1015.9,3630.9 1017.5,3630.2 1019.1,3632.9 1020.7,3634.6 1022.3,3632.0 1023.9,3634.2 1025.5,3635.1 1027.1,3634.5 1028.7,3641.0 1030.3,3640.9 1032.0,3640.8 1033.6,3642.4 1035.2,3645.9 1036.8,3641.7 1038.4,3644.8 1040.0,3648.2 1041.9,3648.1 1043.7,3648.8 1045.6,3648.2 1047.4,3648.8 1049.3,3652.7 1051.2,3651.5 1053.0,3656.3 1054.9,3657.0 1056.7,3658.4 1058.6,3654.7 1060.4,3657.2 1062.3,3655.4 1064.2,3658.0 1066.0,3657.0 1067.9,3660.8 1069.7,3664.7 1071.6,3664.3 1073.4,3662.6 1075.3,3662.9 1077.2,3668.2 1079.0,3663.3 1080.9,3669.4 1082.7,3670.4 1084.6,3666.2 1086.5,3672.6 1088.5,3671.1 1090.4,3670.0 1092.3,3670.9 1094.3,3672.7 1096.2,3672.7 1098.1,3675.5 1100.0,3676.3 1102.0,3673.1 1103.9,3671.6 1105.8,3677.3 1107.8,3677.0 1109.7,3677.7 1111.6,3674.4 1113.6,3675.0 1115.5,3681.0 1117.4,3678.1 1119.3,3679.4 1121.3,3683.3 1123.2,3678.7 1125.1,3682.2 1127.1,3679.0 1129.0,3682.9 1131.1,3684.3 1133.2,3680.8 1135.3,3685.0 1137.4,3686.7 1139.5,3686.0 1141.6,3686.0 1143.7,3687.3 1145.8,3686.0 1147.9,3685.2 1150.0,3687.3 1152.1,3687.4 1154.2,3686.5 1156.3,3687.1 1158.4,3684.1 1160.5,3685.4 1162.6,3685.6 1164.7,3689.4 1166.7,3688.6 1168.7,3685.2 1170.8,3689.6 1172.8,3683.3 1174.8,3683.1 1176.8,3684.6 1178.8,3682.7 1180.8,3688.3 1182.9,3684.2 1184.9,3684.2 1186.9,3687.0 1188.6,3683.7 1190.3,3683.1 1192.0,3680.7 1193.7,3679.6 1195.4,3681.7 1197.1,3676.0 1198.8,3676.4 1200.5,3674.9 1202.2,3671.5 1203.9,3670.3 1205.6,3671.5 1207.3,3672.2 1209.0,3668.6 1210.2,3664.5 1211.4,3668.6 1212.5,3661.7 1213.7,3665.0 1214.9,3657.8 1216.1,3660.2 1217.3,3655.2 1218.4,3654.4 1219.6,3653.8 1220.8,3654.4 1222.0,3650.6 1223.1,3648.9 1224.3,3647.1 1225.5,3646.3 1226.7,3643.1 1227.9,3645.9 1229.0,3639.2 1230.2,3637.2 1231.4,3638.3 1232.4,3635.2 1233.4,3635.8 1234.4,3629.5 1235.4,3631.9 1236.4,3628.0 1237.5,3629.9 1238.5,3624.0 1239.5,3623.0 1240.5,3620.4 1241.5,3620.0 1242.5,3616.6 1243.5,3617.3 1244.5,3613.8 1245.5,3613.9 1246.5,3609.4 1247.5,3608.6 1248.6,3607.5 1249.6,3606.7 1250.6,3604.5 1251.6,3601.2 1252.6,3597.1 1253.6,3595.4 1254.7,3594.0 1255.8,3592.6 1256.9,3590.9 1258.0,3592.4 1259.2,3588.6 1260.3,3590.7 1261.4,3584.6 1262.5,3583.0 1263.6,3580.9 1264.7,3579.0 1265.8,3580.8 1267.0,3578.5 1268.1,3574.7 1269.2,3576.7 1270.3,3574.1 1271.4,3570.8 1273.6,3571.6 1275.8,3571.6 1278.1,3569.8 1280.3,3567.1 1282.5,3568.5 1284.7,3571.9 1286.3,3569.6 1287.9,3572.8 1289.6,3570.5 1291.2,3576.5 1292.8,3578.5 1294.4,3576.7 1296.0,3578.1 1297.6,3580.4 1299.3,3580.1 1300.9,3581.3 1302.5,3582.1 1303.7,3587.5 1304.8,3587.9 1306.0,3592.5 1307.2,3594.2 1308.4,3595.3 1309.5,3597.4 1310.7,3598.3 1311.9,3594.6 1313.1,3596.9 1314.2,3604.2 1315.4,3605.1 1316.6,3605.1 1317.8,3606.7 1318.9,3607.2 1320.1,3608.7 1321.3,3608.5 1322.5,3612.8 1323.6,3612.7 1324.8,3613.3 1326.3,3619.7 1327.8,3619.3 1329.2,3622.7 1330.7,3620.4 1332.2,3623.7 1333.7,3623.2 1335.1,3628.4 1336.6,3625.7 1338.1,3630.1 1339.6,3631.0 1341.1,3631.0 1342.5,3630.8 1344.0,3635.0 1345.5,3636.7 1347.0,3640.1 1348.4,3637.6 1349.9,3638.9 1351.4,3641.2 1353.2,3645.6 1355.0,3642.9 1356.8,3646.6 1358.5,3643.7 1360.3,3645.0 1362.1,3650.2 1363.9,3649.9 1365.7,3648.4 1367.5,3651.9 1369.2,3656.0 1371.0,3653.4 1372.8,3655.6 1374.6,3655.8 1376.4,3657.4 1378.2,3655.4 1379.9,3662.0 1381.7,3661.0 1383.5,3660.6 1385.3,3661.2 1387.1,3661.6 1388.9,3667.6 1390.6,3668.1 1392.4,3666.1 1394.2,3668.6 1396.0,3669.3 1397.9,3667.8 1399.9,3667.5 1401.8,3672.9 1403.7,3669.9 1405.7,3673.3 1407.6,3670.5 1409.5,3671.3 1411.4,3673.0 1413.4,3677.1 1415.3,3677.6 1417.2,3680.9 1419.2,3679.4 1421.1,3679.3 1423.0,3676.7 1425.0,3683.8 1426.9,3681.4 1428.8,3684.7 1430.7,3680.1 1432.7,3686.1 1434.6,3684.5 1436.5,3683.6 1438.5,3685.6 1440.4,3684.2 1442.3,3688.2 1444.2,3686.5 1446.1,3690.4 1447.9,3687.6 1449.8,3691.6 1451.7,3691.8 1453.6,3693.1 1455.5,3695.4 1457.4,3691.7 1459.3,3695.0 1461.1,3693.8 1463.0,3697.7 1464.9,3697.9 1466.8,3698.2 1468.7,3697.8 1470.6,3696.2 1472.5,3701.2 1474.3,3702.3 1476.2,3702.8 1478.1,3699.5 1480.0,3703.3 1482.0,3702.8 1484.0,3704.2 1485.9,3704.4 1487.9,3702.5 1489.9,3702.5 1491.9,3705.5 1493.8,3705.0 1495.8,3704.6 1497.8,3707.2 1499.8,3702.0 1501.8,3702.3 1503.7,3705.7 1505.7,3703.7 1507.7,3709.0 1509.7,3704.4 1511.6,3710.0 1513.6,3706.1 1515.6,3705.9 1517.6,3710.4 1519.5,3710.2 1521.5,3708.9 1523.5,3710.5 1525.5,3710.6 1527.5,3713.6 1529.4,3711.1 1531.4,3711.7 1533.4,3711.6 1535.4,3711.6 1537.3,3713.9 1539.3,3710.4 1541.3,3714.7 1543.3,3716.5 1545.4,3715.7 1547.4,3714.6 1549.5,3713.7 1551.5,3712.3 1553.6,3712.5 1555.6,3715.8 1557.6,3718.4 1559.7,3718.6 1561.7,3714.4 1563.8,3718.4 1565.8,3719.1 1567.9,3717.3 1569.9,3720.1 1571.9,3715.9 1574.0,3717.2 1576.0,3718.7 1578.1,3720.4 1580.1,3718.9 1582.2,3718.2 1584.2,3722.3 1586.3,3719.4 1588.3,3719.9 1590.3,3718.9 1592.4,3721.0 1594.4,3722.7 1596.5,3720.8 1598.5,3723.1 1600.6,3722.2 1602.6,3719.4 1604.6,3725.9 1606.7,3721.6 1608.7,3723.5 1610.8,3726.5 1612.8,3721.7 1614.9,3721.0 1616.9,3722.1 1619.0,3722.0 1621.0,3726.8 1623.1,3724.8 1625.1,3721.9 1627.2,3723.6 1629.2,3725.4 1631.3,3723.3 1633.3,3724.4 1635.3,3728.6 1637.4,3725.7 1639.4,3724.6 1641.5,3727.2 1643.5,3724.2 1645.6,3727.1 1647.6,3728.1 1649.7,3724.6 1651.7,3727.9 1653.8,3726.5 1655.8,3729.6 1657.9,3728.9 1659.9,3731.1 1662.0,3729.3 1664.0,3726.7 1666.0,3726.8 1668.1,3730.3 1670.1,3731.1 1672.2,3726.3 1674.2,3728.8 1676.3,3728.0 1678.3,3729.3 1680.3,3732.1 1682.4,3730.1 1684.4,3731.4 1686.5,3731.6 1688.5,3728.5 1690.6,3730.9 1692.6,3729.4 1694.7,3730.1 1696.7,3730.6 1698.7,3731.6 1700.8,3728.4 1702.8,3732.9 1704.9,3728.6 1706.9,3729.7 1709.0,3733.3 1711.0,3734.3 1713.0,3730.3 1715.1,3734.3 1717.1,3728.3 1719.2,3734.5 1721.2,3729.6 1723.3,3728.6 1725.3,3733.5 1727.3,3729.8 1729.4,3734.0 1731.4,3729.3 1733.5,3730.4 1735.5,3732.2 1737.6,3730.7 1739.6,3733.5 1741.6,3732.9 1743.7,3735.8 1745.7,3734.4 1747.8,3737.8 1749.8,3737.3 1751.9,3733.1 1753.9,3738.3 1755.9,3738.4 1758.0,3736.5 1760.0,3736.5 1762.1,3734.4 1764.1,3735.7 1766.2,3735.3 1768.2,3735.4 1770.3,3738.4 1772.3,3736.8 1774.3,3740.0 1776.4,3738.9 1778.4,3740.9 1780.5,3736.3 1782.5,3741.6 1784.6,3739.6 1786.6,3740.7 1788.6,3738.2 1790.7,3741.4 1792.7,3739.7 1794.8,3741.9 1796.8,3741.2 1798.9,3738.4 1800.9,3739.6 1803.0,3742.8 1805.0,3738.1 1807.1,3742.3 1809.1,3741.9 1811.2,3743.2 1813.2,3740.8 1815.3,3741.9 1817.3,3742.1 1819.3,3744.1 1821.4,3739.8 1823.4,3742.8 1825.5,3741.3 1827.5,3743.7 1829.6,3741.6 1831.6,3741.5 1833.7,3741.8 1835.7,3746.3 1837.8,3743.0 1839.8,3746.6 1841.9,3745.8 1843.9,3742.8 1846.0,3744.9 1848.0,3741.5 1850.0,3747.7 1852.1,3745.8 1854.1,3742.5 1856.2,3745.3 1858.2,3745.3 1860.2,3746.6 1862.3,3744.2 1864.3,3748.4 1866.4,3746.6 1868.4,3743.1 1870.4,3748.2 1872.5,3748.7 1874.5,3745.0 1876.6,3747.8 1878.6,3748.9 1880.6,3749.2 1882.7,3744.0 1884.7,3749.1 1886.8,3745.4 1888.8,3749.2 1890.8,3748.5 1892.9,3747.2 1894.9,3750.2 1897.0,3749.7 1899.0,3751.0 1901.0,3750.9 1903.1,3748.5 1905.1,3749.7 1907.2,3749.4 1909.2,3747.7 1911.2,3748.4 1913.3,3748.5 1915.3,3746.5 1917.4,3746.8 1919.4,3750.7 1921.5,3750.7 1923.5,3749.7 1925.6,3749.6 1927.6,3748.5 1929.7,3748.9 1931.7,3749.5 1933.8,3745.1 1935.8,3748.0 1937.9,3751.5 1939.9,3746.5 1941.9,3748.2 1944.0,3745.6 1946.0,3746.8 1948.1,3750.5 1950.1,3745.3 1952.2,3750.4 1954.2,3750.4 1956.3,3750.8 1958.3,3746.8 1960.4,3751.2 1962.4,3747.6 1964.5,3748.1 1966.5,3751.4 1968.6,3748.7 1970.6,3749.6 1972.6,3745.7 1974.7,3744.8 1976.7,3746.4 1978.8,3745.2 1980.8,3749.8 1982.8,3745.8 1984.9,3750.3 1986.9,3748.3 1989.0,3745.0 1991.0,3748.2 1993.1,3745.5 1995.1,3746.7 1997.1,3743.6 1999.2,3748.4 2001.2,3748.0 2003.3,3746.5 2005.3,3747.0 2007.3,3744.6 2009.4,3743.0 2011.4,3744.2 2013.5,3746.7 2015.5,3745.4 2017.6,3742.4 2019.6,3743.0 2021.6,3744.1 2023.7,3740.6 2025.7,3740.3 2027.8,3742.5 2029.8,3740.0 2031.9,3744.5 2033.9,3739.0 2035.9,3742.7 2038.0,3742.5 2040.0,3738.9 2042.1,3739.9 2044.1,3742.4 2046.2,3739.5 2048.2,3737.5 2050.2,3740.9 2052.3,3735.7 2054.3,3739.9 2056.4,3735.1 2058.4,3735.4 2060.5,3734.2 2062.5,3736.0 2064.5,3737.0 2066.4,3735.1 2068.4,3731.2 2070.3,3736.0 2072.3,3733.7 2074.2,3731.7 2076.2,3733.4 2078.1,3727.9 2080.1,3730.6 2082.0,3731.3 2084.0,3730.6 2086.0,3729.4 2087.9,3724.8 2089.9,3727.0 2091.8,3725.0 2093.8,3726.7 2095.7,3724.7 2097.7,3724.6 2099.6,3724.5 2101.6,3724.3 2103.5,3725.7 2105.5,3721.2 2107.5,3721.2 2109.6,3720.7 2111.6,3720.4 2113.7,3725.3 2115.7,3725.9 2117.8,3720.8 2119.8,3722.4 2121.8,3726.1 2123.9,3726.0 2125.9,3726.8 2128.0,3727.0 2130.0,3722.6 2132.0,3721.5 2134.1,3723.1 2136.1,3725.2 2138.2,3722.5 2140.2,3724.5 2142.3,3726.4 2144.3,3728.2 2146.4,3725.1 2148.4,3725.4 2150.4,3727.2 2152.5,3726.0 2154.5,3726.7 2156.6,3727.0 2158.6,3732.0 2160.7,3733.0 2162.7,3727.9 2164.8,3733.4 2166.8,3734.1 2168.8,3733.2 2170.7,3731.3 2172.7,3735.2 2174.6,3730.7 2176.6,3730.9 2178.6,3737.3 2180.5,3732.9 2182.5,3737.9 2184.4,3737.3 2186.4,3733.0 2188.4,3733.7 2190.3,3737.8 2192.3,3734.9 2194.2,3738.8 2196.2,3739.2 2198.2,3736.7 2200.1,3738.8 2202.1,3737.5 2204.0,3742.2 2206.0,3741.1 2208.0,3741.9 2209.9,3741.8 2211.9,3738.6 2213.8,3744.4 2215.8,3744.1 2217.8,3742.6 2219.9,3743.3 2221.9,3742.9 2224.0,3744.8 2226.0,3743.5 2228.1,3742.1 2230.1,3743.8 2232.2,3742.0 2234.2,3740.9 2236.3,3744.5 2238.3,3747.0 2240.4,3746.2 2242.4,3743.0 2244.5,3745.2 2246.5,3745.9 2248.5,3746.1 2250.6,3745.5 2252.6,3746.0 2254.7,3747.4 2256.7,3748.9 2258.8,3746.7 2260.8,3748.6 2262.9,3748.2 2264.9,3744.7 2267.0,3745.8 2269.0,3746.4 2271.1,3746.8 2273.1,3747.9 2275.2,3746.8 2277.2,3751.7 2279.2,3750.0 2281.3,3747.8 2283.3,3750.0 2285.4,3751.6 2287.4,3746.7 2289.5,3749.9 2291.5,3752.2 2293.5,3748.4 2295.6,3751.8 2297.6,3751.4 2299.7,3748.3 2301.7,3747.3 2303.8,3751.8 2305.8,3749.3 2307.8,3749.0 2309.9,3749.8 2311.9,3751.7 2314.0,3752.9 2316.0,3753.1 2318.1,3752.2 2320.1,3748.4 2322.2,3749.8 2324.2,3747.5 2326.2,3748.9 2328.3,3749.9 2330.3,3749.0 2332.4,3751.0 2334.4,3748.9 2336.5,3752.4 2338.5,3750.9 2340.6,3750.0 2342.7,3753.1 2344.8,3750.9 2346.8,3749.0 2348.9,3754.6 2351.0,3754.2 2353.1,3755.2 2355.2,3751.5 2357.2,3751.4 2359.3,3754.5 2361.4,3751.0 2363.5,3756.6 2365.6,3754.7 2367.7,3754.2 2369.8,3751.0 2371.8,3752.7 2373.9,3753.8 2376.0,3757.7" fill="none" stroke="#ff0000" stroke-width="10.5" stroke-linejoin="round" stroke-linecap="round" clip-path="url(#clipB)"/>
<rect x="501.00" y="2358.50" width="1875.00" height="1563.00" fill="none" stroke="#000" stroke-width="4.6"/>
<line x1="471.00" y1="2387.50" x2="499.00" y2="2387.50" stroke="#000" stroke-width="4.6" stroke-linecap="butt"/>
<line x1="486.00" y1="2503.25" x2="499.00" y2="2503.25" stroke="#000" stroke-width="4.6" stroke-linecap="butt"/>
<line x1="471.00" y1="2619.00" x2="499.00" y2="2619.00" stroke="#000" stroke-width="4.6" stroke-linecap="butt"/>
<line x1="486.00" y1="2734.75" x2="499.00" y2="2734.75" stroke="#000" stroke-width="4.6" stroke-linecap="butt"/>
<line x1="471.00" y1="2850.50" x2="499.00" y2="2850.50" stroke="#000" stroke-width="4.6" stroke-linecap="butt"/>
<line x1="486.00" y1="2966.25" x2="499.00" y2="2966.25" stroke="#000" stroke-width="4.6" stroke-linecap="butt"/>
<line x1="471.00" y1="3082.00" x2="499.00" y2="3082.00" stroke="#000" stroke-width="4.6" stroke-linecap="butt"/>
<line x1="486.00" y1="3197.75" x2="499.00" y2="3197.75" stroke="#000" stroke-width="4.6" stroke-linecap="butt"/>
<line x1="471.00" y1="3313.50" x2="499.00" y2="3313.50" stroke="#000" stroke-width="4.6" stroke-linecap="butt"/>
<line x1="486.00" y1="3429.25" x2="499.00" y2="3429.25" stroke="#000" stroke-width="4.6" stroke-linecap="butt"/>
<line x1="471.00" y1="3545.00" x2="499.00" y2="3545.00" stroke="#000" stroke-width="4.6" stroke-linecap="butt"/>
<line x1="486.00" y1="3660.75" x2="499.00" y2="3660.75" stroke="#000" stroke-width="4.6" stroke-linecap="butt"/>
<line x1="471.00" y1="3776.50" x2="499.00" y2="3776.50" stroke="#000" stroke-width="4.6" stroke-linecap="butt"/>
<line x1="486.00" y1="3892.25" x2="499.00" y2="3892.25" stroke="#000" stroke-width="4.6" stroke-linecap="butt"/>
<line x1="501.00" y1="3924.00" x2="501.00" y2="3952.60" stroke="#000" stroke-width="4.6" stroke-linecap="butt"/>
<line x1="618.19" y1="3924.00" x2="618.19" y2="3936.50" stroke="#000" stroke-width="4.6" stroke-linecap="butt"/>
<line x1="735.38" y1="3924.00" x2="735.38" y2="3952.60" stroke="#000" stroke-width="4.6" stroke-linecap="butt"/>
<line x1="852.57" y1="3924.00" x2="852.57" y2="3936.50" stroke="#000" stroke-width="4.6" stroke-linecap="butt"/>
<line x1="969.75" y1="3924.00" x2="969.75" y2="3952.60" stroke="#000" stroke-width="4.6" stroke-linecap="butt"/>
<line x1="1086.94" y1="3924.00" x2="1086.94" y2="3936.50" stroke="#000" stroke-width="4.6" stroke-linecap="butt"/>
<line x1="1204.12" y1="3924.00" x2="1204.12" y2="3952.60" stroke="#000" stroke-width="4.6" stroke-linecap="butt"/>
<line x1="1321.32" y1="3924.00" x2="1321.32" y2="3936.50" stroke="#000" stroke-width="4.6" stroke-linecap="butt"/>
<line x1="1438.50" y1="3924.00" x2="1438.50" y2="3952.60" stroke="#000" stroke-width="4.6" stroke-linecap="butt"/>
<line x1="1555.69" y1="3924.00" x2="1555.69" y2="3936.50" stroke="#000" stroke-width="4.6" stroke-linecap="butt"/>
<line x1="1672.88" y1="3924.00" x2="1672.88" y2="3952.60" stroke="#000" stroke-width="4.6" stroke-linecap="butt"/>
<line x1="1790.07" y1="3924.00" x2="1790.07" y2="3936.50" stroke="#000" stroke-width="4.6" stroke-linecap="butt"/>
<line x1="1907.25" y1="3924.00" x2="1907.25" y2="3952.60" stroke="#000" stroke-width="4.6" stroke-linecap="butt"/>
<line x1="2024.44" y1="3924.00" x2="2024.44" y2="3936.50" stroke="#000" stroke-width="4.6" stroke-linecap="butt"/>
<line x1="2141.62" y1="3924.00" x2="2141.62" y2="3952.60" stroke="#000" stroke-width="4.6" stroke-linecap="butt"/>
<line x1="2258.82" y1="3924.00" x2="2258.82" y2="3936.50" stroke="#000" stroke-width="4.6" stroke-linecap="butt"/>
<line x1="2376.00" y1="3924.00" x2="2376.00" y2="3952.60" stroke="#000" stroke-width="4.6" stroke-linecap="butt"/>
<text transform="translate(222.34,2409.70) scale(0.9093,1)" font-size="69.50" fill="#000">6.4 × 10</text>
<text transform="translate(437.15,2381.50) scale(0.9300,1)" font-size="45.00" fill="#000">4</text>
<text transform="translate(222.06,2637.10) scale(0.9144,1)" font-size="69.50" fill="#000">5.6 × 10</text>
<text transform="translate(438.05,2608.90) scale(0.9300,1)" font-size="45.00" fill="#000">4</text>
<text transform="translate(226.53,2870.00) scale(0.9106,1)" font-size="69.50" fill="#000">4.8 × 10</text>
<text transform="translate(441.65,2841.80) scale(0.9300,1)" font-size="45.00" fill="#000">4</text>
<text transform="translate(226.94,3108.90) scale(0.9058,1)" font-size="69.50" fill="#000">4.0 × 10</text>
<text transform="translate(440.95,3080.70) scale(0.9300,1)" font-size="45.00" fill="#000">4</text>
<text transform="translate(225.98,3333.30) scale(0.9244,1)" font-size="69.50" fill="#000">3.2 × 10</text>
<text transform="translate(444.25,3305.10) scale(0.9300,1)" font-size="45.00" fill="#000">4</text>
<text transform="translate(221.31,3560.00) scale(0.9208,1)" font-size="69.50" fill="#000">2.4 × 10</text>
<text transform="translate(438.75,3531.80) scale(0.9300,1)" font-size="45.00" fill="#000">4</text>
<text transform="translate(230.92,3793.00) scale(0.9133,1)" font-size="69.50" fill="#000">1.6 × 10</text>
<text transform="translate(446.65,3764.80) scale(0.9300,1)" font-size="45.00" fill="#000">4</text>
<text transform="translate(467.56,4025.00) scale(0.9480,1)" font-size="67.70" fill="#000">10</text>
<text transform="translate(703.16,4025.00) scale(0.9480,1)" font-size="67.70" fill="#000">20</text>
<text transform="translate(937.68,4025.00) scale(0.9480,1)" font-size="67.70" fill="#000">30</text>
<text transform="translate(1172.82,4025.00) scale(0.9480,1)" font-size="67.70" fill="#000">40</text>
<text transform="translate(1406.35,4025.00) scale(0.9480,1)" font-size="67.70" fill="#000">50</text>
<text transform="translate(1640.91,4025.00) scale(0.9480,1)" font-size="67.70" fill="#000">60</text>
<text transform="translate(1874.55,4025.00) scale(0.9480,1)" font-size="67.70" fill="#000">70</text>
<text transform="translate(2109.69,4025.00) scale(0.9480,1)" font-size="67.70" fill="#000">80</text>
<text transform="translate(2344.25,4025.00) scale(0.9480,1)" font-size="67.70" fill="#000">90</text>
<text transform="translate(74.92,2411.90) scale(1.0268,1)" font-size="77.10" fill="#000">(b)</text>
<text transform="translate(1247.46,4131.80) scale(1.0373,1)" font-size="81.30" fill="#000">2</text>
<text transform="translate(1289.25,4132.20) scale(1.0458,1)" font-size="77.20" fill="#000">θ</text>
<text transform="translate(1349.81,4131.60) scale(1.0059,1)" font-size="78.90" fill="#000">(degree)</text>
<text transform="translate(148.90,3319.51) rotate(-90) scale(1.0338,1)" font-size="80.80" fill="#000">Intensity (a.u.)</text>
<rect x="1926.3" y="2358.5" width="449.7" height="156.7" fill="#fff" stroke="#000" stroke-width="3"/>
<line x1="1935.50" y1="2400.60" x2="2062.30" y2="2400.60" stroke="#000" stroke-width="9" stroke-linecap="round"/>
<line x1="1935.50" y1="2475.40" x2="2062.30" y2="2475.40" stroke="#ff0000" stroke-width="9" stroke-linecap="round"/>
<text transform="translate(2081.28,2420.90) scale(0.9493,1)" font-size="59.40" fill="#000">bare YP50F</text>
<text transform="translate(2081.28,2495.70) scale(0.9493,1)" font-size="59.40" fill="#000">bare YP80F</text>
<line x1="498.70" y1="2358.50" x2="2378.30" y2="2358.50" stroke="#000" stroke-width="4.6" stroke-linecap="butt"/>
<line x1="2376.00" y1="2356.20" x2="2376.00" y2="2520.00" stroke="#000" stroke-width="4.6" stroke-linecap="butt"/>
</svg>
</body></html>
